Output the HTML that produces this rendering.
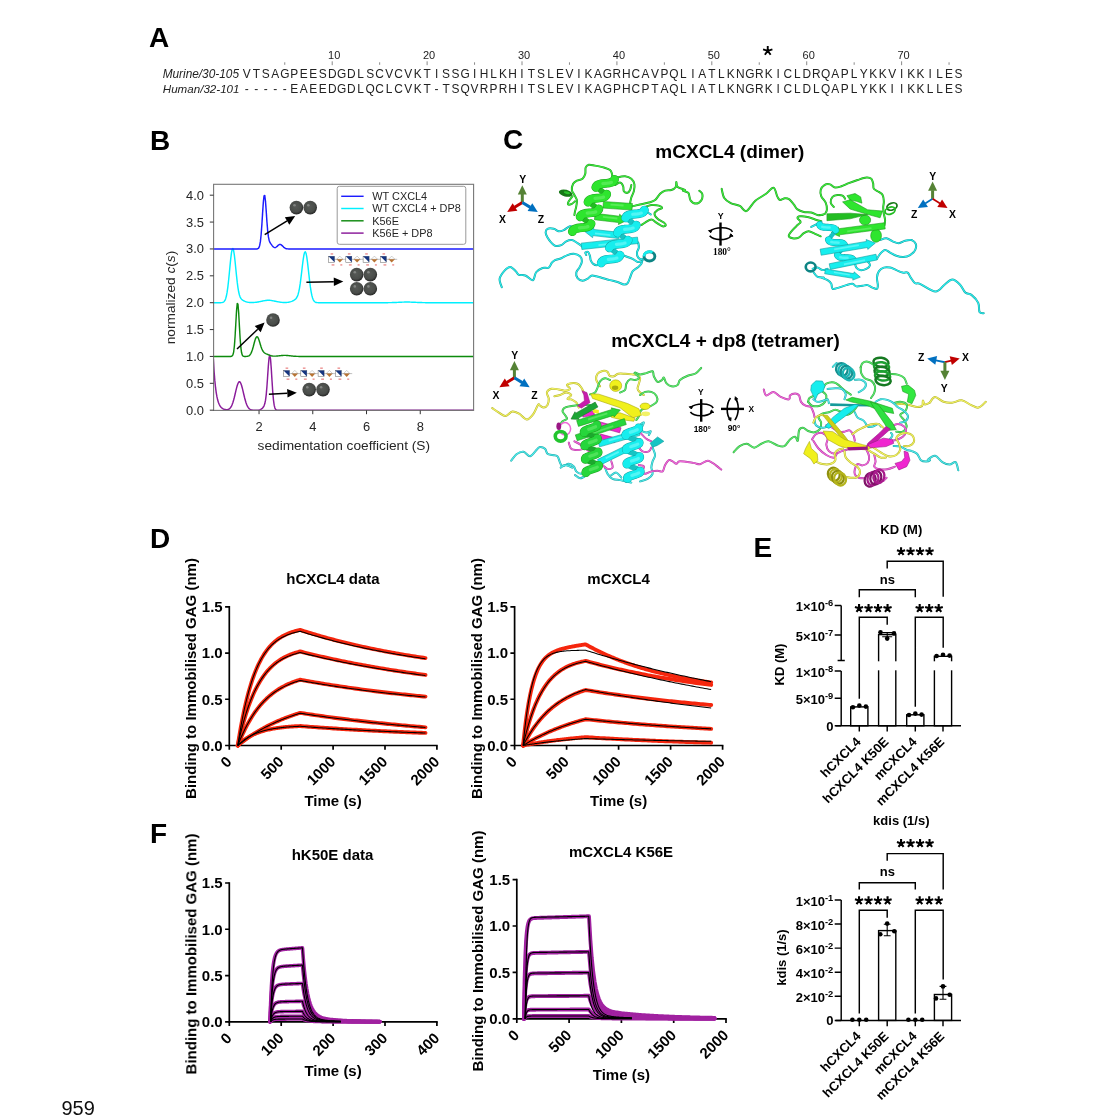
<!DOCTYPE html>
<html><head><meta charset="utf-8"><title>Figure</title>
<style>
html,body{margin:0;padding:0;background:#fff;}
body{width:1119px;height:1119px;overflow:hidden;font-family:"Liberation Sans",sans-serif;}
svg{display:block;font-family:"Liberation Sans",sans-serif;}
.b{font-weight:bold;}
.i{font-style:italic;}
</style></head><body>
<svg width="1119" height="1119" viewBox="0 0 1119 1119">
<defs>
<radialGradient id="sph" cx="45%" cy="42%" r="58%"><stop offset="0" stop-color="#565956"/><stop offset="0.7" stop-color="#4a4d4a"/><stop offset="1" stop-color="#262626"/></radialGradient>
<filter id="soft" x="-5%" y="-5%" width="110%" height="110%"><feGaussianBlur stdDeviation="0.45"/></filter>
</defs>
<rect width="1119" height="1119" fill="#fff"/>
<g filter="url(#soft)">
<g id="panelA">
<text class="b" x="149" y="47" font-size="28">A</text>
<g font-size="11.9" fill="#222" text-anchor="middle">
<text x="246.8 256.29 265.78 275.27 284.76 294.25 303.74 313.23 322.72 332.21 341.7 351.19 360.68 370.17 379.66 389.15 398.64 408.13 417.62 427.11 436.6 446.09 455.58 465.07 474.56 484.05 493.54 503.03 512.52 522.01 531.5 540.99 550.48 559.97 569.46 578.95 588.44 597.93 607.42 616.91 626.4 635.89 645.38 654.87 664.36 673.85 683.34 692.83 702.32 711.81 721.3 730.79 740.28 749.77 759.26 768.75 778.24 787.73 797.22 806.71 816.2 825.69 835.18 844.67 854.16 863.65 873.14 882.63 892.12 901.61 911.1 920.59 930.08 939.57 949.06 958.55" y="77.5">VTSAGPEESDGDLSCVCVKTISSGIHLKHITSLEVIKAGRHCAVPQLIATLKNGRKICLDRQAPLYKKVIKKILES</text>
<text x="246.8 256.29 265.78 275.27 284.76 294.25 303.74 313.23 322.72 332.21 341.7 351.19 360.68 370.17 379.66 389.15 398.64 408.13 417.62 427.11 436.6 446.09 455.58 465.07 474.56 484.05 493.54 503.03 512.52 522.01 531.5 540.99 550.48 559.97 569.46 578.95 588.44 597.93 607.42 616.91 626.4 635.89 645.38 654.87 664.36 673.85 683.34 692.83 702.32 711.81 721.3 730.79 740.28 749.77 759.26 768.75 778.24 787.73 797.22 806.71 816.2 825.69 835.18 844.67 854.16 863.65 873.14 882.63 892.12 901.61 911.1 920.59 930.08 939.57 949.06 958.55" y="93">-----EAEEDGDLQCLCVKT-TSQVRPRHITSLEVIKAGPHCPTAQLIATLKNGRKICLDLQAPLYKKIIKKLLES</text>
</g>
<g fill="#222" class="i" text-anchor="end"><text x="239" y="77.5" font-size="11.85">Murine/30-105</text><text x="239.5" y="93" font-size="11.6">Human/32-101</text></g>
<g font-size="11" fill="#222" text-anchor="middle">
<text x="334.21" y="58.9">10</text>
<text x="429.11" y="58.9">20</text>
<text x="524.01" y="58.9">30</text>
<text x="618.91" y="58.9">40</text>
<text x="713.81" y="58.9">50</text>
<text x="808.71" y="58.9">60</text>
<text x="903.61" y="58.9">70</text>
</g>
<path d="M284.76 62.3V64.8M332.21 61.3V65.2M379.66 62.3V64.8M427.11 61.3V65.2M474.56 62.3V64.8M522.01 61.3V65.2M569.46 62.3V64.8M616.91 61.3V65.2M664.36 62.3V64.8M711.81 61.3V65.2M759.26 62.3V64.8M806.71 61.3V65.2M854.16 62.3V64.8M901.61 61.3V65.2M949.06 62.3V64.8" stroke="#8a8a8a" stroke-width="1" fill="none"/>
<path d="M767.75 50.8L767.75 45.9M767.75 50.8L772.41 49.29M767.75 50.8L770.63 54.76M767.75 50.8L764.87 54.76M767.75 50.8L763.09 49.29" stroke="#000" stroke-width="1.9" fill="none"/>
</g>
<g id="panelB">
<text class="b" x="150" y="150" font-size="28">B</text>
<clipPath id="bclip"><rect x="213.6" y="184.3" width="260.0" height="227.09999999999997"/></clipPath>
<g clip-path="url(#bclip)" fill="none" stroke-width="1.45" stroke-linejoin="round">
<path d="M213.36 359.14 L214.08 371.2 L214.81 380.41 L215.53 387.45 L216.26 392.82 L216.98 396.93 L217.7 400.06 L218.43 402.46 L219.15 404.28 L219.88 405.68 L220.6 406.75 L221.32 407.56 L222.05 408.18 L222.77 408.66 L223.5 409.01 L224.22 409.28 L224.94 409.47 L225.67 409.59 L226.39 409.65 L227.12 409.63 L227.84 409.51 L228.56 409.27 L229.29 408.86 L230.01 408.23 L230.74 407.33 L231.46 406.1 L232.18 404.48 L232.91 402.45 L233.63 400.03 L234.36 397.26 L235.08 394.25 L235.8 391.16 L236.53 388.18 L237.25 385.56 L237.98 383.49 L238.7 382.16 L239.42 381.71 L240.15 382.17 L240.87 383.49 L241.6 385.56 L242.32 388.19 L243.04 391.17 L243.77 394.26 L244.49 397.28 L245.22 400.06 L245.94 402.49 L246.66 404.52 L247.39 406.16 L248.11 407.41 L248.84 408.34 L249.56 408.99 L250.28 409.44 L251.01 409.74 L251.73 409.93 L252.46 410.05 L253.18 410.12 L253.9 410.15 L254.63 410.18 L255.35 410.19 L256.08 410.19 L256.8 410.18 L257.52 410.16 L258.25 410.11 L258.97 410.02 L259.7 409.86 L260.42 409.6 L261.14 409.21 L261.87 408.67 L262.59 407.96 L263.32 407.04 L264.04 405.77 L264.76 403.78 L265.49 400.4 L266.21 394.82 L266.94 386.54 L267.66 376.06 L268.38 365.35 L269.11 357.44 L269.83 355.1 L270.56 359.35 L271.28 368.83 L272 380.56 L272.73 391.52 L273.45 399.84 L274.18 405.15 L274.9 408.04 L275.62 409.38 L276.35 409.93 L277.07 410.12 L277.8 410.18 L278.52 410.2 L279.24 410.2 L279.97 410.2 L280.69 410.2 L281.42 410.2 L282.14 410.2 L282.86 410.2 L283.59 410.2 L284.31 410.2 L285.04 410.2 L285.76 410.2 L286.48 410.2 L287.21 410.2 L287.93 410.2 L288.66 410.2 L289.38 410.2 L290.1 410.2 L290.83 410.2 L291.55 410.2 L292.28 410.2 L293 410.2 L293.72 410.2 L294.45 410.2 L295.17 410.2 L295.9 410.2 L296.62 410.2 L297.34 410.2 L298.07 410.2 L298.79 410.2 L299.52 410.2 L300.24 410.2 L300.96 410.2 L301.69 410.2 L302.41 410.2 L303.14 410.2 L303.86 410.2 L304.58 410.2 L305.31 410.2 L306.03 410.2 L306.76 410.2 L307.48 410.2 L308.2 410.2 L308.93 410.2 L309.65 410.2 L310.38 410.2 L311.1 410.2 L311.82 410.2 L312.55 410.2 L313.27 410.2 L314 410.2 L314.72 410.2 L315.44 410.2 L316.17 410.2 L316.89 410.2 L317.62 410.2 L318.34 410.2 L319.06 410.2 L319.79 410.2 L320.51 410.2 L321.24 410.2 L321.96 410.2 L322.68 410.2 L323.41 410.2 L324.13 410.2 L324.86 410.2 L325.58 410.2 L326.3 410.2 L327.03 410.2 L327.75 410.2 L328.48 410.2 L329.2 410.2 L329.92 410.2 L330.65 410.2 L331.37 410.2 L332.1 410.2 L332.82 410.2 L333.54 410.2 L334.27 410.2 L334.99 410.2 L335.72 410.2 L336.44 410.2 L337.16 410.2 L337.89 410.2 L338.61 410.2 L339.34 410.2 L340.06 410.2 L340.78 410.2 L341.51 410.2 L342.23 410.2 L342.96 410.2 L343.68 410.2 L344.4 410.2 L345.13 410.2 L345.85 410.2 L346.58 410.2 L347.3 410.2 L348.02 410.2 L348.75 410.2 L349.47 410.2 L350.2 410.2 L350.92 410.2 L351.64 410.2 L352.37 410.2 L353.09 410.2 L353.82 410.2 L354.54 410.2 L355.26 410.2 L355.99 410.2 L356.71 410.2 L357.44 410.2 L358.16 410.2 L358.88 410.2 L359.61 410.2 L360.33 410.2 L361.06 410.2 L361.78 410.2 L362.5 410.2 L363.23 410.2 L363.95 410.2 L364.68 410.2 L365.4 410.2 L366.12 410.2 L366.85 410.2 L367.57 410.2 L368.3 410.2 L369.02 410.2 L369.74 410.2 L370.47 410.2 L371.19 410.2 L371.92 410.2 L372.64 410.2 L373.36 410.2 L374.09 410.2 L374.81 410.2 L375.54 410.2 L376.26 410.2 L376.98 410.2 L377.71 410.2 L378.43 410.2 L379.16 410.2 L379.88 410.2 L380.6 410.2 L381.33 410.2 L382.05 410.2 L382.78 410.2 L383.5 410.2 L384.22 410.2 L384.95 410.2 L385.67 410.2 L386.4 410.2 L387.12 410.2 L387.84 410.2 L388.57 410.2 L389.29 410.2 L390.02 410.2 L390.74 410.2 L391.46 410.2 L392.19 410.2 L392.91 410.2 L393.64 410.2 L394.36 410.2 L395.08 410.2 L395.81 410.2 L396.53 410.2 L397.26 410.2 L397.98 410.2 L398.7 410.2 L399.43 410.2 L400.15 410.2 L400.88 410.2 L401.6 410.2 L402.32 410.2 L403.05 410.2 L403.77 410.2 L404.5 410.2 L405.22 410.2 L405.94 410.2 L406.67 410.2 L407.39 410.2 L408.12 410.2 L408.84 410.2 L409.56 410.2 L410.29 410.2 L411.01 410.2 L411.74 410.2 L412.46 410.2 L413.18 410.2 L413.91 410.2 L414.63 410.2 L415.36 410.2 L416.08 410.2 L416.8 410.2 L417.53 410.2 L418.25 410.2 L418.98 410.2 L419.7 410.2 L420.42 410.2 L421.15 410.2 L421.87 410.2 L422.6 410.2 L423.32 410.2 L424.04 410.2 L424.77 410.2 L425.49 410.2 L426.22 410.2 L426.94 410.2 L427.66 410.2 L428.39 410.2 L429.11 410.2 L429.84 410.2 L430.56 410.2 L431.28 410.2 L432.01 410.2 L432.73 410.2 L433.46 410.2 L434.18 410.2 L434.9 410.2 L435.63 410.2 L436.35 410.2 L437.08 410.2 L437.8 410.2 L438.52 410.2 L439.25 410.2 L439.97 410.2 L440.7 410.2 L441.42 410.2 L442.14 410.2 L442.87 410.2 L443.59 410.2 L444.32 410.2 L445.04 410.2 L445.76 410.2 L446.49 410.2 L447.21 410.2 L447.94 410.2 L448.66 410.2 L449.38 410.2 L450.11 410.2 L450.83 410.2 L451.56 410.2 L452.28 410.2 L453 410.2 L453.73 410.2 L454.45 410.2 L455.18 410.2 L455.9 410.2 L456.62 410.2 L457.35 410.2 L458.07 410.2 L458.8 410.2 L459.52 410.2 L460.24 410.2 L460.97 410.2 L461.69 410.2 L462.42 410.2 L463.14 410.2 L463.86 410.2 L464.59 410.2 L465.31 410.2 L466.04 410.2 L466.76 410.2 L467.48 410.2 L468.21 410.2 L468.93 410.2 L469.66 410.2 L470.38 410.2 L471.1 410.2 L471.83 410.2 L472.55 410.2 L473.28 410.2 L474 410.2" stroke="#8a1a9a"/>
<path d="M213.36 356.45 L214.08 356.45 L214.81 356.45 L215.53 356.45 L216.26 356.45 L216.98 356.45 L217.7 356.45 L218.43 356.45 L219.15 356.45 L219.88 356.45 L220.6 356.45 L221.32 356.45 L222.05 356.45 L222.77 356.45 L223.5 356.45 L224.22 356.45 L224.94 356.45 L225.67 356.45 L226.39 356.45 L227.12 356.45 L227.84 356.45 L228.56 356.45 L229.29 356.45 L230.01 356.45 L230.74 356.42 L231.46 356.33 L232.18 355.96 L232.91 354.86 L233.63 352.07 L234.36 346.28 L235.08 336.57 L235.8 323.71 L236.53 311.05 L237.25 303.44 L237.98 304.33 L238.7 313.29 L239.42 326.35 L240.15 338.78 L240.87 347.71 L241.6 352.81 L242.32 355.17 L243.04 356.07 L243.77 356.35 L244.49 356.42 L245.22 356.43 L245.94 356.41 L246.66 356.37 L247.39 356.28 L248.11 356.11 L248.84 355.8 L249.56 355.29 L250.28 354.47 L251.01 353.28 L251.73 351.63 L252.46 349.5 L253.18 346.98 L253.9 344.23 L254.63 341.51 L255.35 339.14 L256.08 337.44 L256.8 336.66 L257.52 336.88 L258.25 338.05 L258.97 339.95 L259.7 342.28 L260.42 344.73 L261.14 347.02 L261.87 348.96 L262.59 350.5 L263.32 351.63 L264.04 352.44 L264.76 353.02 L265.49 353.45 L266.21 353.81 L266.94 354.14 L267.66 354.46 L268.38 354.77 L269.11 355.06 L269.83 355.33 L270.56 355.57 L271.28 355.77 L272 355.92 L272.73 356.03 L273.45 356.11 L274.18 356.14 L274.9 356.15 L275.62 356.12 L276.35 356.08 L277.07 356.02 L277.8 355.95 L278.52 355.87 L279.24 355.79 L279.97 355.7 L280.69 355.62 L281.42 355.54 L282.14 355.48 L282.86 355.43 L283.59 355.39 L284.31 355.38 L285.04 355.38 L285.76 355.4 L286.48 355.44 L287.21 355.5 L287.93 355.57 L288.66 355.65 L289.38 355.73 L290.1 355.82 L290.83 355.9 L291.55 355.99 L292.28 356.07 L293 356.14 L293.72 356.2 L294.45 356.25 L295.17 356.3 L295.9 356.33 L296.62 356.36 L297.34 356.39 L298.07 356.4 L298.79 356.42 L299.52 356.43 L300.24 356.43 L300.96 356.44 L301.69 356.44 L302.41 356.45 L303.14 356.45 L303.86 356.45 L304.58 356.45 L305.31 356.45 L306.03 356.45 L306.76 356.45 L307.48 356.45 L308.2 356.45 L308.93 356.45 L309.65 356.45 L310.38 356.45 L311.1 356.45 L311.82 356.45 L312.55 356.45 L313.27 356.45 L314 356.45 L314.72 356.45 L315.44 356.45 L316.17 356.45 L316.89 356.45 L317.62 356.45 L318.34 356.45 L319.06 356.45 L319.79 356.45 L320.51 356.45 L321.24 356.45 L321.96 356.45 L322.68 356.45 L323.41 356.45 L324.13 356.45 L324.86 356.45 L325.58 356.45 L326.3 356.45 L327.03 356.45 L327.75 356.45 L328.48 356.45 L329.2 356.45 L329.92 356.45 L330.65 356.45 L331.37 356.45 L332.1 356.45 L332.82 356.45 L333.54 356.45 L334.27 356.45 L334.99 356.45 L335.72 356.45 L336.44 356.45 L337.16 356.45 L337.89 356.45 L338.61 356.45 L339.34 356.45 L340.06 356.45 L340.78 356.45 L341.51 356.45 L342.23 356.45 L342.96 356.45 L343.68 356.45 L344.4 356.45 L345.13 356.45 L345.85 356.45 L346.58 356.45 L347.3 356.45 L348.02 356.45 L348.75 356.45 L349.47 356.45 L350.2 356.45 L350.92 356.45 L351.64 356.45 L352.37 356.45 L353.09 356.45 L353.82 356.45 L354.54 356.45 L355.26 356.45 L355.99 356.45 L356.71 356.45 L357.44 356.45 L358.16 356.45 L358.88 356.45 L359.61 356.45 L360.33 356.45 L361.06 356.45 L361.78 356.45 L362.5 356.45 L363.23 356.45 L363.95 356.45 L364.68 356.45 L365.4 356.45 L366.12 356.45 L366.85 356.45 L367.57 356.45 L368.3 356.45 L369.02 356.45 L369.74 356.45 L370.47 356.45 L371.19 356.45 L371.92 356.45 L372.64 356.45 L373.36 356.45 L374.09 356.45 L374.81 356.45 L375.54 356.45 L376.26 356.45 L376.98 356.45 L377.71 356.45 L378.43 356.45 L379.16 356.45 L379.88 356.45 L380.6 356.45 L381.33 356.45 L382.05 356.45 L382.78 356.45 L383.5 356.45 L384.22 356.45 L384.95 356.45 L385.67 356.45 L386.4 356.45 L387.12 356.45 L387.84 356.45 L388.57 356.45 L389.29 356.45 L390.02 356.45 L390.74 356.45 L391.46 356.45 L392.19 356.45 L392.91 356.45 L393.64 356.45 L394.36 356.45 L395.08 356.45 L395.81 356.45 L396.53 356.45 L397.26 356.45 L397.98 356.45 L398.7 356.45 L399.43 356.45 L400.15 356.45 L400.88 356.45 L401.6 356.45 L402.32 356.45 L403.05 356.45 L403.77 356.45 L404.5 356.45 L405.22 356.45 L405.94 356.45 L406.67 356.45 L407.39 356.45 L408.12 356.45 L408.84 356.45 L409.56 356.45 L410.29 356.45 L411.01 356.45 L411.74 356.45 L412.46 356.45 L413.18 356.45 L413.91 356.45 L414.63 356.45 L415.36 356.45 L416.08 356.45 L416.8 356.45 L417.53 356.45 L418.25 356.45 L418.98 356.45 L419.7 356.45 L420.42 356.45 L421.15 356.45 L421.87 356.45 L422.6 356.45 L423.32 356.45 L424.04 356.45 L424.77 356.45 L425.49 356.45 L426.22 356.45 L426.94 356.45 L427.66 356.45 L428.39 356.45 L429.11 356.45 L429.84 356.45 L430.56 356.45 L431.28 356.45 L432.01 356.45 L432.73 356.45 L433.46 356.45 L434.18 356.45 L434.9 356.45 L435.63 356.45 L436.35 356.45 L437.08 356.45 L437.8 356.45 L438.52 356.45 L439.25 356.45 L439.97 356.45 L440.7 356.45 L441.42 356.45 L442.14 356.45 L442.87 356.45 L443.59 356.45 L444.32 356.45 L445.04 356.45 L445.76 356.45 L446.49 356.45 L447.21 356.45 L447.94 356.45 L448.66 356.45 L449.38 356.45 L450.11 356.45 L450.83 356.45 L451.56 356.45 L452.28 356.45 L453 356.45 L453.73 356.45 L454.45 356.45 L455.18 356.45 L455.9 356.45 L456.62 356.45 L457.35 356.45 L458.07 356.45 L458.8 356.45 L459.52 356.45 L460.24 356.45 L460.97 356.45 L461.69 356.45 L462.42 356.45 L463.14 356.45 L463.86 356.45 L464.59 356.45 L465.31 356.45 L466.04 356.45 L466.76 356.45 L467.48 356.45 L468.21 356.45 L468.93 356.45 L469.66 356.45 L470.38 356.45 L471.1 356.45 L471.83 356.45 L472.55 356.45 L473.28 356.45 L474 356.45" stroke="#0f8a0f"/>
<path d="M213.36 302.7 L214.08 302.7 L214.81 302.7 L215.53 302.7 L216.26 302.7 L216.98 302.7 L217.7 302.7 L218.43 302.7 L219.15 302.7 L219.88 302.69 L220.6 302.68 L221.32 302.64 L222.05 302.56 L222.77 302.39 L223.5 302.07 L224.22 301.46 L224.94 300.41 L225.67 298.68 L226.39 296.03 L227.12 292.22 L227.84 287.12 L228.56 280.78 L229.29 273.48 L230.01 265.84 L230.74 258.67 L231.46 252.9 L232.18 249.35 L232.91 248.55 L233.63 250.6 L234.36 255.16 L235.08 261.49 L235.8 268.71 L236.53 275.92 L237.25 282.44 L237.98 287.84 L238.7 292.01 L239.42 295.01 L240.15 297.05 L240.87 298.41 L241.6 299.3 L242.32 299.92 L243.04 300.39 L243.77 300.78 L244.49 301.12 L245.22 301.43 L245.94 301.7 L246.66 301.93 L247.39 302.13 L248.11 302.28 L248.84 302.39 L249.56 302.47 L250.28 302.52 L251.01 302.54 L251.73 302.54 L252.46 302.53 L253.18 302.5 L253.9 302.46 L254.63 302.4 L255.35 302.34 L256.08 302.25 L256.8 302.16 L257.52 302.05 L258.25 301.94 L258.97 301.8 L259.7 301.66 L260.42 301.51 L261.14 301.36 L261.87 301.2 L262.59 301.04 L263.32 300.89 L264.04 300.75 L264.76 300.62 L265.49 300.5 L266.21 300.41 L266.94 300.34 L267.66 300.3 L268.38 300.28 L269.11 300.29 L269.83 300.33 L270.56 300.4 L271.28 300.49 L272 300.6 L272.73 300.73 L273.45 300.87 L274.18 301.02 L274.9 301.18 L275.62 301.33 L276.35 301.49 L277.07 301.64 L277.8 301.78 L278.52 301.91 L279.24 302.03 L279.97 302.14 L280.69 302.24 L281.42 302.32 L282.14 302.38 L282.86 302.43 L283.59 302.47 L284.31 302.49 L285.04 302.5 L285.76 302.48 L286.48 302.44 L287.21 302.38 L287.93 302.29 L288.66 302.17 L289.38 302.02 L290.1 301.83 L290.83 301.61 L291.55 301.36 L292.28 301.07 L293 300.74 L293.72 300.38 L294.45 299.95 L295.17 299.43 L295.9 298.74 L296.62 297.77 L297.34 296.39 L298.07 294.41 L298.79 291.67 L299.52 288.02 L300.24 283.41 L300.96 277.93 L301.69 271.85 L302.41 265.64 L303.14 259.9 L303.86 255.3 L304.58 252.43 L305.31 251.69 L306.03 253.22 L306.76 256.83 L307.48 262.08 L308.2 268.35 L308.93 274.95 L309.65 281.3 L310.38 286.94 L311.1 291.62 L311.82 295.26 L312.55 297.93 L313.27 299.78 L314 300.99 L314.72 301.75 L315.44 302.19 L316.17 302.44 L316.89 302.57 L317.62 302.64 L318.34 302.67 L319.06 302.69 L319.79 302.7 L320.51 302.7 L321.24 302.7 L321.96 302.7 L322.68 302.7 L323.41 302.7 L324.13 302.7 L324.86 302.7 L325.58 302.7 L326.3 302.7 L327.03 302.7 L327.75 302.7 L328.48 302.7 L329.2 302.7 L329.92 302.7 L330.65 302.7 L331.37 302.7 L332.1 302.7 L332.82 302.7 L333.54 302.7 L334.27 302.7 L334.99 302.7 L335.72 302.7 L336.44 302.7 L337.16 302.7 L337.89 302.7 L338.61 302.7 L339.34 302.7 L340.06 302.7 L340.78 302.7 L341.51 302.7 L342.23 302.7 L342.96 302.7 L343.68 302.7 L344.4 302.7 L345.13 302.7 L345.85 302.7 L346.58 302.7 L347.3 302.7 L348.02 302.7 L348.75 302.7 L349.47 302.7 L350.2 302.7 L350.92 302.7 L351.64 302.7 L352.37 302.7 L353.09 302.7 L353.82 302.7 L354.54 302.7 L355.26 302.7 L355.99 302.7 L356.71 302.7 L357.44 302.7 L358.16 302.7 L358.88 302.7 L359.61 302.7 L360.33 302.7 L361.06 302.7 L361.78 302.7 L362.5 302.7 L363.23 302.7 L363.95 302.7 L364.68 302.7 L365.4 302.7 L366.12 302.7 L366.85 302.7 L367.57 302.7 L368.3 302.7 L369.02 302.7 L369.74 302.7 L370.47 302.7 L371.19 302.7 L371.92 302.7 L372.64 302.7 L373.36 302.7 L374.09 302.7 L374.81 302.7 L375.54 302.7 L376.26 302.7 L376.98 302.7 L377.71 302.7 L378.43 302.7 L379.16 302.7 L379.88 302.7 L380.6 302.7 L381.33 302.7 L382.05 302.69 L382.78 302.69 L383.5 302.69 L384.22 302.69 L384.95 302.68 L385.67 302.68 L386.4 302.67 L387.12 302.67 L387.84 302.66 L388.57 302.65 L389.29 302.64 L390.02 302.63 L390.74 302.61 L391.46 302.6 L392.19 302.58 L392.91 302.55 L393.64 302.53 L394.36 302.5 L395.08 302.48 L395.81 302.45 L396.53 302.41 L397.26 302.38 L397.98 302.35 L398.7 302.31 L399.43 302.28 L400.15 302.24 L400.88 302.21 L401.6 302.18 L402.32 302.15 L403.05 302.12 L403.77 302.1 L404.5 302.08 L405.22 302.07 L405.94 302.06 L406.67 302.06 L407.39 302.06 L408.12 302.06 L408.84 302.07 L409.56 302.09 L410.29 302.11 L411.01 302.14 L411.74 302.16 L412.46 302.19 L413.18 302.23 L413.91 302.26 L414.63 302.3 L415.36 302.33 L416.08 302.37 L416.8 302.4 L417.53 302.43 L418.25 302.46 L418.98 302.49 L419.7 302.52 L420.42 302.54 L421.15 302.57 L421.87 302.59 L422.6 302.6 L423.32 302.62 L424.04 302.63 L424.77 302.65 L425.49 302.66 L426.22 302.66 L426.94 302.67 L427.66 302.68 L428.39 302.68 L429.11 302.69 L429.84 302.69 L430.56 302.69 L431.28 302.69 L432.01 302.7 L432.73 302.7 L433.46 302.7 L434.18 302.7 L434.9 302.7 L435.63 302.7 L436.35 302.7 L437.08 302.7 L437.8 302.7 L438.52 302.7 L439.25 302.7 L439.97 302.7 L440.7 302.7 L441.42 302.7 L442.14 302.7 L442.87 302.7 L443.59 302.7 L444.32 302.7 L445.04 302.7 L445.76 302.7 L446.49 302.7 L447.21 302.7 L447.94 302.7 L448.66 302.7 L449.38 302.7 L450.11 302.7 L450.83 302.7 L451.56 302.7 L452.28 302.7 L453 302.7 L453.73 302.7 L454.45 302.7 L455.18 302.7 L455.9 302.7 L456.62 302.7 L457.35 302.7 L458.07 302.7 L458.8 302.7 L459.52 302.7 L460.24 302.7 L460.97 302.7 L461.69 302.7 L462.42 302.7 L463.14 302.7 L463.86 302.7 L464.59 302.7 L465.31 302.7 L466.04 302.7 L466.76 302.7 L467.48 302.7 L468.21 302.7 L468.93 302.7 L469.66 302.7 L470.38 302.7 L471.1 302.7 L471.83 302.7 L472.55 302.7 L473.28 302.7 L474 302.7" stroke="#00f0ff"/>
<path d="M213.36 248.95 L214.08 248.95 L214.81 248.95 L215.53 248.95 L216.26 248.95 L216.98 248.95 L217.7 248.95 L218.43 248.95 L219.15 248.95 L219.88 248.95 L220.6 248.95 L221.32 248.95 L222.05 248.95 L222.77 248.95 L223.5 248.95 L224.22 248.95 L224.94 248.95 L225.67 248.95 L226.39 248.95 L227.12 248.95 L227.84 248.95 L228.56 248.95 L229.29 248.95 L230.01 248.95 L230.74 248.95 L231.46 248.95 L232.18 248.95 L232.91 248.95 L233.63 248.95 L234.36 248.95 L235.08 248.95 L235.8 248.95 L236.53 248.95 L237.25 248.95 L237.98 248.95 L238.7 248.95 L239.42 248.95 L240.15 248.95 L240.87 248.95 L241.6 248.95 L242.32 248.95 L243.04 248.95 L243.77 248.95 L244.49 248.95 L245.22 248.95 L245.94 248.95 L246.66 248.95 L247.39 248.95 L248.11 248.95 L248.84 248.95 L249.56 248.95 L250.28 248.95 L251.01 248.95 L251.73 248.95 L252.46 248.95 L253.18 248.95 L253.9 248.95 L254.63 248.95 L255.35 248.95 L256.08 248.94 L256.8 248.91 L257.52 248.79 L258.25 248.45 L258.97 247.55 L259.7 245.48 L260.42 241.4 L261.14 234.52 L261.87 224.71 L262.59 213.16 L263.32 202.45 L264.04 195.79 L264.76 195.39 L265.49 201.22 L266.21 211.06 L266.94 221.72 L267.66 230.62 L268.38 236.69 L269.11 240.22 L269.83 242.13 L270.56 243.31 L271.28 244.32 L272 245.32 L272.73 246.26 L273.45 247.01 L274.18 247.48 L274.9 247.62 L275.62 247.44 L276.35 247 L277.07 246.37 L277.8 245.66 L278.52 245.01 L279.24 244.55 L279.97 244.38 L280.69 244.53 L281.42 244.98 L282.14 245.63 L282.86 246.36 L283.59 247.08 L284.31 247.69 L285.04 248.16 L285.76 248.49 L286.48 248.7 L287.21 248.83 L287.93 248.89 L288.66 248.92 L289.38 248.94 L290.1 248.95 L290.83 248.95 L291.55 248.95 L292.28 248.95 L293 248.95 L293.72 248.95 L294.45 248.95 L295.17 248.95 L295.9 248.95 L296.62 248.95 L297.34 248.95 L298.07 248.95 L298.79 248.95 L299.52 248.95 L300.24 248.95 L300.96 248.95 L301.69 248.95 L302.41 248.95 L303.14 248.95 L303.86 248.95 L304.58 248.95 L305.31 248.95 L306.03 248.95 L306.76 248.95 L307.48 248.95 L308.2 248.95 L308.93 248.95 L309.65 248.95 L310.38 248.95 L311.1 248.95 L311.82 248.95 L312.55 248.95 L313.27 248.95 L314 248.95 L314.72 248.95 L315.44 248.95 L316.17 248.95 L316.89 248.95 L317.62 248.95 L318.34 248.95 L319.06 248.95 L319.79 248.95 L320.51 248.95 L321.24 248.95 L321.96 248.95 L322.68 248.95 L323.41 248.95 L324.13 248.95 L324.86 248.95 L325.58 248.95 L326.3 248.95 L327.03 248.95 L327.75 248.95 L328.48 248.95 L329.2 248.95 L329.92 248.95 L330.65 248.95 L331.37 248.95 L332.1 248.95 L332.82 248.95 L333.54 248.95 L334.27 248.95 L334.99 248.95 L335.72 248.95 L336.44 248.95 L337.16 248.95 L337.89 248.95 L338.61 248.95 L339.34 248.95 L340.06 248.95 L340.78 248.95 L341.51 248.95 L342.23 248.95 L342.96 248.95 L343.68 248.95 L344.4 248.95 L345.13 248.95 L345.85 248.95 L346.58 248.95 L347.3 248.95 L348.02 248.95 L348.75 248.95 L349.47 248.95 L350.2 248.95 L350.92 248.95 L351.64 248.95 L352.37 248.95 L353.09 248.95 L353.82 248.95 L354.54 248.95 L355.26 248.95 L355.99 248.95 L356.71 248.95 L357.44 248.95 L358.16 248.95 L358.88 248.95 L359.61 248.95 L360.33 248.95 L361.06 248.95 L361.78 248.95 L362.5 248.95 L363.23 248.95 L363.95 248.95 L364.68 248.95 L365.4 248.95 L366.12 248.95 L366.85 248.95 L367.57 248.95 L368.3 248.95 L369.02 248.95 L369.74 248.95 L370.47 248.95 L371.19 248.95 L371.92 248.95 L372.64 248.95 L373.36 248.95 L374.09 248.95 L374.81 248.95 L375.54 248.95 L376.26 248.95 L376.98 248.95 L377.71 248.95 L378.43 248.95 L379.16 248.95 L379.88 248.95 L380.6 248.95 L381.33 248.95 L382.05 248.95 L382.78 248.95 L383.5 248.95 L384.22 248.95 L384.95 248.95 L385.67 248.95 L386.4 248.95 L387.12 248.95 L387.84 248.95 L388.57 248.95 L389.29 248.95 L390.02 248.95 L390.74 248.95 L391.46 248.95 L392.19 248.95 L392.91 248.95 L393.64 248.95 L394.36 248.95 L395.08 248.95 L395.81 248.95 L396.53 248.95 L397.26 248.95 L397.98 248.95 L398.7 248.95 L399.43 248.95 L400.15 248.95 L400.88 248.95 L401.6 248.95 L402.32 248.95 L403.05 248.95 L403.77 248.95 L404.5 248.95 L405.22 248.95 L405.94 248.95 L406.67 248.95 L407.39 248.95 L408.12 248.95 L408.84 248.95 L409.56 248.95 L410.29 248.95 L411.01 248.95 L411.74 248.95 L412.46 248.95 L413.18 248.95 L413.91 248.95 L414.63 248.95 L415.36 248.95 L416.08 248.95 L416.8 248.95 L417.53 248.95 L418.25 248.95 L418.98 248.95 L419.7 248.95 L420.42 248.95 L421.15 248.95 L421.87 248.95 L422.6 248.95 L423.32 248.95 L424.04 248.95 L424.77 248.95 L425.49 248.95 L426.22 248.95 L426.94 248.95 L427.66 248.95 L428.39 248.95 L429.11 248.95 L429.84 248.95 L430.56 248.95 L431.28 248.95 L432.01 248.95 L432.73 248.95 L433.46 248.95 L434.18 248.95 L434.9 248.95 L435.63 248.95 L436.35 248.95 L437.08 248.95 L437.8 248.95 L438.52 248.95 L439.25 248.95 L439.97 248.95 L440.7 248.95 L441.42 248.95 L442.14 248.95 L442.87 248.95 L443.59 248.95 L444.32 248.95 L445.04 248.95 L445.76 248.95 L446.49 248.95 L447.21 248.95 L447.94 248.95 L448.66 248.95 L449.38 248.95 L450.11 248.95 L450.83 248.95 L451.56 248.95 L452.28 248.95 L453 248.95 L453.73 248.95 L454.45 248.95 L455.18 248.95 L455.9 248.95 L456.62 248.95 L457.35 248.95 L458.07 248.95 L458.8 248.95 L459.52 248.95 L460.24 248.95 L460.97 248.95 L461.69 248.95 L462.42 248.95 L463.14 248.95 L463.86 248.95 L464.59 248.95 L465.31 248.95 L466.04 248.95 L466.76 248.95 L467.48 248.95 L468.21 248.95 L468.93 248.95 L469.66 248.95 L470.38 248.95 L471.1 248.95 L471.83 248.95 L472.55 248.95 L473.28 248.95 L474 248.95" stroke="#1a1aff"/>
</g>
<rect x="213.6" y="184.3" width="260.0" height="226.09999999999997" fill="none" stroke="#777" stroke-width="1.1"/>
<path d="M209.8 410.2H213.6M209.8 383.32H213.6M209.8 356.45H213.6M209.8 329.57H213.6M209.8 302.7H213.6M209.8 275.82H213.6M209.8 248.95H213.6M209.8 222.07H213.6M209.8 195.2H213.6M259.04 410.4V414.2M312.78 410.4V414.2M366.52 410.4V414.2M420.26 410.4V414.2" stroke="#333" stroke-width="1" fill="none"/>
<g font-size="12.9" fill="#262626" text-anchor="end">
<text x="204" y="414.7">0.0</text>
<text x="204" y="387.82">0.5</text>
<text x="204" y="360.95">1.0</text>
<text x="204" y="334.07">1.5</text>
<text x="204" y="307.2">2.0</text>
<text x="204" y="280.32">2.5</text>
<text x="204" y="253.45">3.0</text>
<text x="204" y="226.57">3.5</text>
<text x="204" y="199.7">4.0</text>
</g>
<g font-size="12.9" fill="#262626" text-anchor="middle">
<text x="259.04" y="430.6">2</text>
<text x="312.78" y="430.6">4</text>
<text x="366.52" y="430.6">6</text>
<text x="420.26" y="430.6">8</text>
</g>
<text x="343.8" y="450" font-size="13.7" fill="#262626" text-anchor="middle">sedimentation coefficient (S)</text>
<text transform="translate(174.9,297.5) rotate(-90)" font-size="13.7" fill="#262626" text-anchor="middle">normalized <tspan class="i">c</tspan>(<tspan class="i">s</tspan>)</text>
<rect x="337.2" y="186.3" width="128.6" height="58" rx="2.2" fill="#fff" fill-opacity="0.9" stroke="#999" stroke-width="1"/>
<path d="M341.2 196.3H363.6" stroke="#1a1aff" stroke-width="1.45"/>
<text x="372.3" y="200.2" font-size="10.9" fill="#262626">WT CXCL4</text>
<path d="M341.2 208.5H363.6" stroke="#00f0ff" stroke-width="1.45"/>
<text x="372.3" y="212.4" font-size="10.9" fill="#262626">WT CXCL4 + DP8</text>
<path d="M341.2 220.8H363.6" stroke="#0f8a0f" stroke-width="1.45"/>
<text x="372.3" y="224.7" font-size="10.9" fill="#262626">K56E</text>
<path d="M341.2 233.1H363.6" stroke="#8a1a9a" stroke-width="1.45"/>
<text x="372.3" y="237" font-size="10.9" fill="#262626">K56E + DP8</text>
<circle cx="296.4" cy="207.6" r="6.8" fill="url(#sph)"/>
<circle cx="294.5" cy="205.3" r="1.3" fill="#8c8f8c" opacity="0.8"/>
<circle cx="310.2" cy="207.6" r="6.8" fill="url(#sph)"/>
<circle cx="308.3" cy="205.3" r="1.3" fill="#8c8f8c" opacity="0.8"/>
<circle cx="356.7" cy="274.6" r="6.8" fill="url(#sph)"/>
<circle cx="354.8" cy="272.3" r="1.3" fill="#8c8f8c" opacity="0.8"/>
<circle cx="370.3" cy="274.6" r="6.8" fill="url(#sph)"/>
<circle cx="368.4" cy="272.3" r="1.3" fill="#8c8f8c" opacity="0.8"/>
<circle cx="356.7" cy="288.7" r="6.8" fill="url(#sph)"/>
<circle cx="354.8" cy="286.4" r="1.3" fill="#8c8f8c" opacity="0.8"/>
<circle cx="370.3" cy="288.7" r="6.8" fill="url(#sph)"/>
<circle cx="368.4" cy="286.4" r="1.3" fill="#8c8f8c" opacity="0.8"/>
<circle cx="273" cy="320" r="6.8" fill="url(#sph)"/>
<circle cx="271.1" cy="317.7" r="1.3" fill="#8c8f8c" opacity="0.8"/>
<circle cx="309.2" cy="389.6" r="6.8" fill="url(#sph)"/>
<circle cx="307.3" cy="387.3" r="1.3" fill="#8c8f8c" opacity="0.8"/>
<circle cx="323" cy="389.6" r="6.8" fill="url(#sph)"/>
<circle cx="321.1" cy="387.3" r="1.3" fill="#8c8f8c" opacity="0.8"/>
<path d="M264.7 234.7L287.1 220.97" stroke="#000" stroke-width="1.5"/>
<path d="M295.2 216L289.35 224.63L284.85 217.3Z" fill="#000"/>
<path d="M306.4 282.3L333.8 281.78" stroke="#000" stroke-width="1.5"/>
<path d="M343.3 281.6L333.88 286.08L333.72 277.48Z" fill="#000"/>
<path d="M237 349L257.73 329.17" stroke="#000" stroke-width="1.5"/>
<path d="M264.6 322.6L260.71 332.27L254.76 326.06Z" fill="#000"/>
<path d="M268.9 394.3L287.32 393.24" stroke="#000" stroke-width="1.5"/>
<path d="M296.8 392.7L287.56 397.54L287.07 388.95Z" fill="#000"/>
<path d="M328 259.3H345.3" stroke="#999" stroke-width="0.6"/>
<rect x="328.5" y="256.3" width="6" height="6" fill="#fff" stroke="#666" stroke-width="0.5"/>
<path d="M328.5 256.3h6v6z" fill="#16357f"/>
<path d="M336.6 259.3l3.2 -3.2l3.2 3.2z" fill="#fff" stroke="#888" stroke-width="0.4"/>
<path d="M336.6 259.3l3.2 3.3l3.2 -3.3z" fill="#b87333"/>
<rect x="330.6" y="253.1" width="2.6" height="1.6" fill="#e05050" opacity="0.55"/>
<rect x="331.6" y="264.1" width="2.8" height="1.6" fill="#e05050" opacity="0.55"/>
<rect x="340.3" y="264.1" width="2.0" height="1.6" fill="#e05050" opacity="0.55"/>
<path d="M345.3 259.3H362.6" stroke="#999" stroke-width="0.6"/>
<rect x="345.8" y="256.3" width="6" height="6" fill="#fff" stroke="#666" stroke-width="0.5"/>
<path d="M345.8 256.3h6v6z" fill="#16357f"/>
<path d="M353.9 259.3l3.2 -3.2l3.2 3.2z" fill="#fff" stroke="#888" stroke-width="0.4"/>
<path d="M353.9 259.3l3.2 3.3l3.2 -3.3z" fill="#b87333"/>
<rect x="347.9" y="253.1" width="2.6" height="1.6" fill="#e05050" opacity="0.55"/>
<rect x="348.9" y="264.1" width="2.8" height="1.6" fill="#e05050" opacity="0.55"/>
<rect x="357.6" y="264.1" width="2.0" height="1.6" fill="#e05050" opacity="0.55"/>
<path d="M362.6 259.3H379.9" stroke="#999" stroke-width="0.6"/>
<rect x="363.1" y="256.3" width="6" height="6" fill="#fff" stroke="#666" stroke-width="0.5"/>
<path d="M363.1 256.3h6v6z" fill="#16357f"/>
<path d="M371.2 259.3l3.2 -3.2l3.2 3.2z" fill="#fff" stroke="#888" stroke-width="0.4"/>
<path d="M371.2 259.3l3.2 3.3l3.2 -3.3z" fill="#b87333"/>
<rect x="365.2" y="253.1" width="2.6" height="1.6" fill="#e05050" opacity="0.55"/>
<rect x="366.2" y="264.1" width="2.8" height="1.6" fill="#e05050" opacity="0.55"/>
<rect x="374.9" y="264.1" width="2.0" height="1.6" fill="#e05050" opacity="0.55"/>
<path d="M379.9 259.3H397.2" stroke="#999" stroke-width="0.6"/>
<rect x="380.4" y="256.3" width="6" height="6" fill="#fff" stroke="#666" stroke-width="0.5"/>
<path d="M380.4 256.3h6v6z" fill="#16357f"/>
<path d="M388.5 259.3l3.2 -3.2l3.2 3.2z" fill="#fff" stroke="#888" stroke-width="0.4"/>
<path d="M388.5 259.3l3.2 3.3l3.2 -3.3z" fill="#b87333"/>
<rect x="382.5" y="253.1" width="2.6" height="1.6" fill="#e05050" opacity="0.55"/>
<rect x="383.5" y="264.1" width="2.8" height="1.6" fill="#e05050" opacity="0.55"/>
<rect x="392.2" y="264.1" width="2.0" height="1.6" fill="#e05050" opacity="0.55"/>
<path d="M283 373.6H300.3" stroke="#999" stroke-width="0.6"/>
<rect x="283.5" y="370.6" width="6" height="6" fill="#fff" stroke="#666" stroke-width="0.5"/>
<path d="M283.5 370.6h6v6z" fill="#16357f"/>
<path d="M291.6 373.6l3.2 -3.2l3.2 3.2z" fill="#fff" stroke="#888" stroke-width="0.4"/>
<path d="M291.6 373.6l3.2 3.3l3.2 -3.3z" fill="#b87333"/>
<rect x="285.6" y="367.4" width="2.6" height="1.6" fill="#e05050" opacity="0.55"/>
<rect x="286.6" y="378.4" width="2.8" height="1.6" fill="#e05050" opacity="0.55"/>
<rect x="295.3" y="378.4" width="2.0" height="1.6" fill="#e05050" opacity="0.55"/>
<path d="M300.3 373.6H317.6" stroke="#999" stroke-width="0.6"/>
<rect x="300.8" y="370.6" width="6" height="6" fill="#fff" stroke="#666" stroke-width="0.5"/>
<path d="M300.8 370.6h6v6z" fill="#16357f"/>
<path d="M308.9 373.6l3.2 -3.2l3.2 3.2z" fill="#fff" stroke="#888" stroke-width="0.4"/>
<path d="M308.9 373.6l3.2 3.3l3.2 -3.3z" fill="#b87333"/>
<rect x="302.9" y="367.4" width="2.6" height="1.6" fill="#e05050" opacity="0.55"/>
<rect x="303.9" y="378.4" width="2.8" height="1.6" fill="#e05050" opacity="0.55"/>
<rect x="312.6" y="378.4" width="2.0" height="1.6" fill="#e05050" opacity="0.55"/>
<path d="M317.6 373.6H334.9" stroke="#999" stroke-width="0.6"/>
<rect x="318.1" y="370.6" width="6" height="6" fill="#fff" stroke="#666" stroke-width="0.5"/>
<path d="M318.1 370.6h6v6z" fill="#16357f"/>
<path d="M326.2 373.6l3.2 -3.2l3.2 3.2z" fill="#fff" stroke="#888" stroke-width="0.4"/>
<path d="M326.2 373.6l3.2 3.3l3.2 -3.3z" fill="#b87333"/>
<rect x="320.2" y="367.4" width="2.6" height="1.6" fill="#e05050" opacity="0.55"/>
<rect x="321.2" y="378.4" width="2.8" height="1.6" fill="#e05050" opacity="0.55"/>
<rect x="329.9" y="378.4" width="2.0" height="1.6" fill="#e05050" opacity="0.55"/>
<path d="M334.9 373.6H352.2" stroke="#999" stroke-width="0.6"/>
<rect x="335.4" y="370.6" width="6" height="6" fill="#fff" stroke="#666" stroke-width="0.5"/>
<path d="M335.4 370.6h6v6z" fill="#16357f"/>
<path d="M343.5 373.6l3.2 -3.2l3.2 3.2z" fill="#fff" stroke="#888" stroke-width="0.4"/>
<path d="M343.5 373.6l3.2 3.3l3.2 -3.3z" fill="#b87333"/>
<rect x="337.5" y="367.4" width="2.6" height="1.6" fill="#e05050" opacity="0.55"/>
<rect x="338.5" y="378.4" width="2.8" height="1.6" fill="#e05050" opacity="0.55"/>
<rect x="347.2" y="378.4" width="2.0" height="1.6" fill="#e05050" opacity="0.55"/>
</g>
<g id="panelC">
<text class="b" x="503" y="148.5" font-size="28">C</text>
<text class="b" x="729.8" y="157.9" font-size="19" text-anchor="middle">mCXCL4 (dimer)</text>
<text class="b" x="725.5" y="347.3" font-size="19" text-anchor="middle">mCXCL4 + dp8 (tetramer)</text>
<path d="M501.8 287.27C501.44 285.84 499.12 281.55 499.65 278.69C500.19 275.83 503.23 272.07 505.01 270.11C506.8 268.14 508.59 266.71 510.38 266.89C512.16 267.07 514.31 269.86 515.74 271.18C517.17 272.5 517.35 274.11 518.95 274.83C520.56 275.54 523.07 274.58 525.39 275.47C527.71 276.36 531.11 280.72 532.9 280.19C534.68 279.65 534.5 274.29 536.11 272.25C537.72 270.21 540.44 268.74 542.55 267.96C544.65 267.19 547.2 268.49 548.75 267.59C550.31 266.7 550.84 263.84 551.88 262.59C552.92 261.34 553.44 260.82 555.01 260.09C556.57 259.36 559.18 259.04 561.26 258.21C563.35 257.38 565.43 255.81 567.52 255.08C569.6 254.35 571.69 253.62 573.78 253.83C575.86 254.04 578.68 255.08 580.03 256.33C581.39 257.59 582.01 259.46 581.91 261.34C581.8 263.22 580.34 265.72 579.41 267.59C578.47 269.47 576.59 270.83 576.28 272.6C575.96 274.37 576.49 276.87 577.53 278.23C578.57 279.58 580.86 280.63 582.53 280.73C584.2 280.83 586.08 279.69 587.54 278.85C589 278.02 589.83 276.14 591.29 275.73C592.75 275.31 594.31 275.93 596.29 276.35C598.28 276.77 600.88 277.6 603.18 278.23C605.47 278.85 607.66 279.48 610.06 280.11C612.45 280.73 615.27 281.25 617.56 281.98C619.86 282.71 622.15 284.28 623.82 284.48C625.49 284.69 626.53 284.38 627.57 283.23C628.61 282.09 629.24 279.58 630.07 277.6C630.91 275.62 631.33 273.02 632.58 271.35C633.83 269.68 636.12 268.85 637.58 267.59C639.04 266.34 640.5 265.3 641.33 263.84C642.17 262.38 642.38 259.67 642.59 258.84" fill="none" stroke="#0f9c9c" stroke-width="2.0" stroke-linecap="round" stroke-linejoin="round"/>
<path d="M501.8 287.27C501.44 285.84 499.12 281.55 499.65 278.69C500.19 275.83 503.23 272.07 505.01 270.11C506.8 268.14 508.59 266.71 510.38 266.89C512.16 267.07 514.31 269.86 515.74 271.18C517.17 272.5 517.35 274.11 518.95 274.83C520.56 275.54 523.07 274.58 525.39 275.47C527.71 276.36 531.11 280.72 532.9 280.19C534.68 279.65 534.5 274.29 536.11 272.25C537.72 270.21 540.44 268.74 542.55 267.96C544.65 267.19 547.2 268.49 548.75 267.59C550.31 266.7 550.84 263.84 551.88 262.59C552.92 261.34 553.44 260.82 555.01 260.09C556.57 259.36 559.18 259.04 561.26 258.21C563.35 257.38 565.43 255.81 567.52 255.08C569.6 254.35 571.69 253.62 573.78 253.83C575.86 254.04 578.68 255.08 580.03 256.33C581.39 257.59 582.01 259.46 581.91 261.34C581.8 263.22 580.34 265.72 579.41 267.59C578.47 269.47 576.59 270.83 576.28 272.6C575.96 274.37 576.49 276.87 577.53 278.23C578.57 279.58 580.86 280.63 582.53 280.73C584.2 280.83 586.08 279.69 587.54 278.85C589 278.02 589.83 276.14 591.29 275.73C592.75 275.31 594.31 275.93 596.29 276.35C598.28 276.77 600.88 277.6 603.18 278.23C605.47 278.85 607.66 279.48 610.06 280.11C612.45 280.73 615.27 281.25 617.56 281.98C619.86 282.71 622.15 284.28 623.82 284.48C625.49 284.69 626.53 284.38 627.57 283.23C628.61 282.09 629.24 279.58 630.07 277.6C630.91 275.62 631.33 273.02 632.58 271.35C633.83 269.68 636.12 268.85 637.58 267.59C639.04 266.34 640.5 265.3 641.33 263.84C642.17 262.38 642.38 259.67 642.59 258.84" fill="none" stroke="#30f0f0" stroke-width="1.1" stroke-linecap="round" stroke-linejoin="round"/>
<path d="M575.03 228.18C574.19 227.87 571.9 226 570.02 226.31C568.15 226.62 565.64 229.23 563.77 230.06C561.89 230.9 560.43 231.52 558.76 231.31C557.09 231.1 555.63 229.23 553.76 228.81C551.88 228.39 548.86 228.18 547.5 228.81C546.15 229.44 545.63 231.1 545.63 232.56C545.63 234.02 546.56 235.9 547.5 237.57C548.44 239.24 550 241.22 551.26 242.57C552.51 243.93 553.34 245.28 555.01 245.7C556.68 246.12 559.39 245.8 561.26 245.07C563.14 244.34 564.5 242.16 566.27 241.32C568.04 240.49 570.02 239.76 571.9 240.07C573.78 240.38 575.86 242.16 577.53 243.2C579.2 244.24 581.18 245.8 581.91 246.33" fill="none" stroke="#0f9c9c" stroke-width="2.0" stroke-linecap="round" stroke-linejoin="round"/>
<path d="M575.03 228.18C574.19 227.87 571.9 226 570.02 226.31C568.15 226.62 565.64 229.23 563.77 230.06C561.89 230.9 560.43 231.52 558.76 231.31C557.09 231.1 555.63 229.23 553.76 228.81C551.88 228.39 548.86 228.18 547.5 228.81C546.15 229.44 545.63 231.1 545.63 232.56C545.63 234.02 546.56 235.9 547.5 237.57C548.44 239.24 550 241.22 551.26 242.57C552.51 243.93 553.34 245.28 555.01 245.7C556.68 246.12 559.39 245.8 561.26 245.07C563.14 244.34 564.5 242.16 566.27 241.32C568.04 240.49 570.02 239.76 571.9 240.07C573.78 240.38 575.86 242.16 577.53 243.2C579.2 244.24 581.18 245.8 581.91 246.33" fill="none" stroke="#30f0f0" stroke-width="1.1" stroke-linecap="round" stroke-linejoin="round"/>
<path d="M586.29 255.08C586.12 254.67 584.97 253.1 585.29 252.58C585.6 252.06 587.37 251.33 588.16 251.96C588.96 252.58 589.62 254.98 590.04 256.33C590.46 257.69 590.14 258.84 590.66 260.09C591.19 261.34 592.02 263.01 593.17 263.84C594.31 264.67 596.19 265.3 597.55 265.09C598.9 264.88 600.26 263.63 601.3 262.59C602.34 261.55 603.38 259.46 603.8 258.84" fill="none" stroke="#0f9c9c" stroke-width="2.0" stroke-linecap="round" stroke-linejoin="round"/>
<path d="M586.29 255.08C586.12 254.67 584.97 253.1 585.29 252.58C585.6 252.06 587.37 251.33 588.16 251.96C588.96 252.58 589.62 254.98 590.04 256.33C590.46 257.69 590.14 258.84 590.66 260.09C591.19 261.34 592.02 263.01 593.17 263.84C594.31 264.67 596.19 265.3 597.55 265.09C598.9 264.88 600.26 263.63 601.3 262.59C602.34 261.55 603.38 259.46 603.8 258.84" fill="none" stroke="#30f0f0" stroke-width="1.1" stroke-linecap="round" stroke-linejoin="round"/>
<path d="M638.21 242.57C638.31 243.41 639.04 245.91 638.83 247.58C638.62 249.24 637.06 250.91 636.96 252.58C636.85 254.25 637.27 256.33 638.21 257.59C639.14 258.84 641.86 259.67 642.59 260.09" fill="none" stroke="#0f9c9c" stroke-width="2.0" stroke-linecap="round" stroke-linejoin="round"/>
<path d="M638.21 242.57C638.31 243.41 639.04 245.91 638.83 247.58C638.62 249.24 637.06 250.91 636.96 252.58C636.85 254.25 637.27 256.33 638.21 257.59C639.14 258.84 641.86 259.67 642.59 260.09" fill="none" stroke="#30f0f0" stroke-width="1.1" stroke-linecap="round" stroke-linejoin="round"/>
<path d="M622.57 255.08C623.4 255.4 625.9 256.33 627.57 256.96C629.24 257.59 630.91 258 632.58 258.84C634.24 259.67 636.12 261.55 637.58 261.96C639.04 262.38 640.71 261.44 641.33 261.34" fill="none" stroke="#0f9c9c" stroke-width="2.0" stroke-linecap="round" stroke-linejoin="round"/>
<path d="M622.57 255.08C623.4 255.4 625.9 256.33 627.57 256.96C629.24 257.59 630.91 258 632.58 258.84C634.24 259.67 636.12 261.55 637.58 261.96C639.04 262.38 640.71 261.44 641.33 261.34" fill="none" stroke="#30f0f0" stroke-width="1.1" stroke-linecap="round" stroke-linejoin="round"/>
<path d="M643.84 210.04C644.98 210.77 649.57 213.69 650.72 214.42" fill="none" stroke="#0f9c9c" stroke-width="2.0" stroke-linecap="round" stroke-linejoin="round"/>
<path d="M643.84 210.04C644.98 210.77 649.57 213.69 650.72 214.42" fill="none" stroke="#30f0f0" stroke-width="1.1" stroke-linecap="round" stroke-linejoin="round"/>
<path d="M612.56 178.77C612.45 177.93 612.35 175.22 611.93 173.76C611.52 172.3 611.41 171.05 610.06 170.01C608.7 168.97 606.3 168.24 603.8 167.51C601.3 166.78 597.55 166.09 595.04 165.63C592.54 165.17 590.35 164.44 588.79 164.75C587.22 165.07 586.24 166.01 585.66 167.51C585.08 169.01 585.81 171.89 585.29 173.76C584.76 175.64 583.93 177.62 582.53 178.77C581.14 179.91 578.47 179.81 576.9 180.64C575.34 181.48 573.98 182.21 573.15 183.77C572.32 185.33 571.69 188.15 571.9 190.03C572.11 191.9 573.57 193.36 574.4 195.03C575.23 196.7 576.59 198.16 576.9 200.04C577.22 201.91 576.59 204.41 576.28 206.29C575.96 208.17 575.34 209.84 575.03 211.29C574.71 212.75 574.5 214.42 574.4 215.05" fill="none" stroke="#1c9a1c" stroke-width="2.0" stroke-linecap="round" stroke-linejoin="round"/>
<path d="M612.56 178.77C612.45 177.93 612.35 175.22 611.93 173.76C611.52 172.3 611.41 171.05 610.06 170.01C608.7 168.97 606.3 168.24 603.8 167.51C601.3 166.78 597.55 166.09 595.04 165.63C592.54 165.17 590.35 164.44 588.79 164.75C587.22 165.07 586.24 166.01 585.66 167.51C585.08 169.01 585.81 171.89 585.29 173.76C584.76 175.64 583.93 177.62 582.53 178.77C581.14 179.91 578.47 179.81 576.9 180.64C575.34 181.48 573.98 182.21 573.15 183.77C572.32 185.33 571.69 188.15 571.9 190.03C572.11 191.9 573.57 193.36 574.4 195.03C575.23 196.7 576.59 198.16 576.9 200.04C577.22 201.91 576.59 204.41 576.28 206.29C575.96 208.17 575.34 209.84 575.03 211.29C574.71 212.75 574.5 214.42 574.4 215.05" fill="none" stroke="#3fe83f" stroke-width="1.1" stroke-linecap="round" stroke-linejoin="round"/>
<path d="M612.56 180.02C613.39 179.6 615.48 178.14 617.56 177.52C619.65 176.89 622.78 176.06 625.07 176.26C627.36 176.47 629.76 177.41 631.33 178.77C632.89 180.12 634.04 182.31 634.45 184.4C634.87 186.48 634.35 189.09 633.83 191.28C633.31 193.47 631.95 195.55 631.33 197.53C630.7 199.51 630.28 202.22 630.07 203.16" fill="none" stroke="#1c9a1c" stroke-width="2.0" stroke-linecap="round" stroke-linejoin="round"/>
<path d="M612.56 180.02C613.39 179.6 615.48 178.14 617.56 177.52C619.65 176.89 622.78 176.06 625.07 176.26C627.36 176.47 629.76 177.41 631.33 178.77C632.89 180.12 634.04 182.31 634.45 184.4C634.87 186.48 634.35 189.09 633.83 191.28C633.31 193.47 631.95 195.55 631.33 197.53C630.7 199.51 630.28 202.22 630.07 203.16" fill="none" stroke="#3fe83f" stroke-width="1.1" stroke-linecap="round" stroke-linejoin="round"/>
<path d="M615.06 185.02C615.9 184.6 618.71 182.31 620.07 182.52C621.42 182.73 622.57 184.81 623.19 186.27C623.82 187.73 623.09 190.19 623.82 191.28C624.55 192.36 626.53 192.99 627.57 192.78C628.61 192.57 629.45 191.32 630.07 190.03C630.7 188.73 631.12 185.86 631.33 185.02" fill="none" stroke="#1c9a1c" stroke-width="2.0" stroke-linecap="round" stroke-linejoin="round"/>
<path d="M615.06 185.02C615.9 184.6 618.71 182.31 620.07 182.52C621.42 182.73 622.57 184.81 623.19 186.27C623.82 187.73 623.09 190.19 623.82 191.28C624.55 192.36 626.53 192.99 627.57 192.78C628.61 192.57 629.45 191.32 630.07 190.03C630.7 188.73 631.12 185.86 631.33 185.02" fill="none" stroke="#3fe83f" stroke-width="1.1" stroke-linecap="round" stroke-linejoin="round"/>
<path d="M572.52 196.28C571.9 197.12 569.5 199.93 568.77 201.29C568.04 202.64 567.62 204 568.15 204.41C568.67 204.83 570.75 204.31 571.9 203.79C573.05 203.27 574.5 201.7 575.03 201.29" fill="none" stroke="#1c9a1c" stroke-width="2.0" stroke-linecap="round" stroke-linejoin="round"/>
<path d="M572.52 196.28C571.9 197.12 569.5 199.93 568.77 201.29C568.04 202.64 567.62 204 568.15 204.41C568.67 204.83 570.75 204.31 571.9 203.79C573.05 203.27 574.5 201.7 575.03 201.29" fill="none" stroke="#3fe83f" stroke-width="1.1" stroke-linecap="round" stroke-linejoin="round"/>
<path d="M632.58 206.29C633.83 205.98 637.37 205.04 640.08 204.41C642.79 203.79 646.34 203.27 648.84 202.54C651.34 201.81 653.22 201.49 655.1 200.04C656.97 198.58 658.43 195.34 660.1 193.78C661.77 192.22 663.23 191.28 665.11 190.65C666.98 190.03 669.59 190.65 671.36 190.03C673.13 189.4 674.91 188.25 675.74 186.9C676.57 185.54 676.05 181.89 676.36 181.89C676.68 181.89 676.18 185.54 677.62 186.9C679.05 188.25 684.1 189.38 685 190.03C685.9 190.67 682.46 190.27 683.03 190.75C683.6 191.23 687.14 191.29 688.39 192.9C689.64 194.5 689.29 198.61 690.54 200.4C691.79 202.19 694.11 203.62 695.9 203.62C697.69 203.62 700.19 201.97 701.26 200.4C702.33 198.83 702.65 195.79 702.33 194.18C702.01 192.57 699.83 191.32 699.33 190.75" fill="none" stroke="#1c9a1c" stroke-width="2.0" stroke-linecap="round" stroke-linejoin="round"/>
<path d="M632.58 206.29C633.83 205.98 637.37 205.04 640.08 204.41C642.79 203.79 646.34 203.27 648.84 202.54C651.34 201.81 653.22 201.49 655.1 200.04C656.97 198.58 658.43 195.34 660.1 193.78C661.77 192.22 663.23 191.28 665.11 190.65C666.98 190.03 669.59 190.65 671.36 190.03C673.13 189.4 674.91 188.25 675.74 186.9C676.57 185.54 676.05 181.89 676.36 181.89C676.68 181.89 676.18 185.54 677.62 186.9C679.05 188.25 684.1 189.38 685 190.03C685.9 190.67 682.46 190.27 683.03 190.75C683.6 191.23 687.14 191.29 688.39 192.9C689.64 194.5 689.29 198.61 690.54 200.4C691.79 202.19 694.11 203.62 695.9 203.62C697.69 203.62 700.19 201.97 701.26 200.4C702.33 198.83 702.65 195.79 702.33 194.18C702.01 192.57 699.83 191.32 699.33 190.75" fill="none" stroke="#3fe83f" stroke-width="1.1" stroke-linecap="round" stroke-linejoin="round"/>
<path d="M643.84 207.54C645.09 207.12 648.84 205.35 651.34 205.04C653.85 204.73 657.08 205.14 658.85 205.66C660.62 206.19 662.19 207.44 661.98 208.17C661.77 208.9 658.85 209.11 657.6 210.04C656.35 210.98 654.47 212.34 654.47 213.8C654.47 215.26 656.03 217.34 657.6 218.8C659.16 220.26 662.5 221.51 663.85 222.55C665.21 223.6 665.94 224.43 665.73 225.06C665.52 225.68 664.17 226.73 662.6 226.31C661.04 225.89 658.22 223.7 656.35 222.55C654.47 221.41 653.22 219.43 651.34 219.43C649.47 219.43 646.76 221.62 645.09 222.55C643.42 223.49 641.96 224.64 641.33 225.06" fill="none" stroke="#1c9a1c" stroke-width="2.0" stroke-linecap="round" stroke-linejoin="round"/>
<path d="M643.84 207.54C645.09 207.12 648.84 205.35 651.34 205.04C653.85 204.73 657.08 205.14 658.85 205.66C660.62 206.19 662.19 207.44 661.98 208.17C661.77 208.9 658.85 209.11 657.6 210.04C656.35 210.98 654.47 212.34 654.47 213.8C654.47 215.26 656.03 217.34 657.6 218.8C659.16 220.26 662.5 221.51 663.85 222.55C665.21 223.6 665.94 224.43 665.73 225.06C665.52 225.68 664.17 226.73 662.6 226.31C661.04 225.89 658.22 223.7 656.35 222.55C654.47 221.41 653.22 219.43 651.34 219.43C649.47 219.43 646.76 221.62 645.09 222.55C643.42 223.49 641.96 224.64 641.33 225.06" fill="none" stroke="#3fe83f" stroke-width="1.1" stroke-linecap="round" stroke-linejoin="round"/>
<ellipse cx="565.64" cy="193.15" rx="6.9" ry="3.4" fill="#147814" transform="rotate(14 565.64 193.15)"/>
<ellipse cx="566.89" cy="192.78" rx="3.2" ry="1.2" fill="#2cc02c" transform="rotate(14 566.89 192.78)"/>
<path d="M602.95 208.08 L631.97 210.08 L632.43 203.5 L603.4 201.5Z" fill="#2ee52e" stroke="#1c9a1c" stroke-width="0.6" stroke-linejoin="round"/>
<path d="M610.41 205.62 L610.55 203.64 L623.61 204.54 L623.47 206.52Z" fill="#8cf58c" opacity="0.45" stroke-linejoin="round"/>
<path d="M594.42 219.73 L618.63 222.55 L618.4 224.54 L626.95 220.3 L619.6 214.21 L619.37 216.2 L595.16 213.37Z" fill="#2ee52e" stroke="#1c9a1c" stroke-width="0.6" stroke-linejoin="round"/>
<path d="M602.79 217.81 L603.02 215.9 L617.49 217.59 L617.26 219.49Z" fill="#8cf58c" opacity="0.45" stroke-linejoin="round"/>
<path d="M619.41 232.36 L593.58 229.44 L593.82 227.35 L584.78 231.56 L592.65 237.69 L592.88 235.6 L618.72 238.52Z" fill="#19eeee" stroke="#0f9c9c" stroke-width="0.6" stroke-linejoin="round"/>
<path d="M610.53 234.16 L610.32 236.01 L594.89 234.27 L595.1 232.42Z" fill="#a8ffff" opacity="0.45" stroke-linejoin="round"/>
<path d="M637.49 237.14 L581.19 243.14 L581.87 249.51 L638.17 243.5Z" fill="#19eeee" stroke="#0f9c9c" stroke-width="0.6" stroke-linejoin="round"/>
<path d="M623.72 241.5 L623.93 243.41 L598.59 246.11 L598.39 244.21Z" fill="#a8ffff" opacity="0.45" stroke-linejoin="round"/>
<path d="M596.35 186.34 L596.47 186.77 L597.12 187.49 L598.22 188.44 L599.64 189.56 L601.24 190.78 L602.83 191.99 L604.26 193.11 L605.35 194.07 L606 194.78 L606.13 195.22" fill="none" stroke="#23bd23" stroke-width="5.6" stroke-linejoin="round" stroke-linecap="round"/>
<path d="M588.53 201.1 L588.65 201.54 L589.3 202.25 L590.4 203.2 L591.82 204.33 L593.42 205.54 L595.01 206.75 L596.44 207.88 L597.53 208.83 L598.18 209.54 L598.31 209.98" fill="none" stroke="#23bd23" stroke-width="5.6" stroke-linejoin="round" stroke-linecap="round"/>
<path d="M580.71 215.86 L580.83 216.3 L581.48 217.01 L582.58 217.96 L584 219.09 L585.6 220.3 L587.19 221.52 L588.62 222.64 L589.71 223.59 L590.37 224.31 L590.49 224.74" fill="none" stroke="#23bd23" stroke-width="5.6" stroke-linejoin="round" stroke-linecap="round"/>
<path d="M614.45 179.51 L613.83 180.65 L612.88 181.61 L611.44 182.32 L609.59 182.81 L607.44 183.14 L605.15 183.4 L602.85 183.65 L600.71 183.98 L598.86 184.47 L597.42 185.18 L596.46 186.14 L595.84 187.28" fill="none" stroke="#1c9a1c" stroke-width="8.9" stroke-linejoin="round" stroke-linecap="round"/>
<path d="M614.45 179.51 L613.83 180.65 L612.88 181.61 L611.44 182.32 L609.59 182.81 L607.44 183.14 L605.15 183.4 L602.85 183.65 L600.71 183.98 L598.86 184.47 L597.42 185.18 L596.46 186.14 L595.84 187.28" fill="none" stroke="#2ee52e" stroke-width="8" stroke-linejoin="round" stroke-linecap="round"/>
<path d="M611.44 182.32 L609.59 182.81 L607.44 183.14 L605.15 183.4 L602.85 183.65" fill="none" stroke="#8cf58c" stroke-width="3.2" stroke-linecap="round" opacity="0.4"/>
<path d="M606.63 194.27 L606.01 195.41 L605.06 196.38 L603.62 197.08 L601.77 197.57 L599.62 197.91 L597.33 198.16 L595.03 198.41 L592.89 198.74 L591.04 199.23 L589.6 199.94 L588.64 200.9 L588.03 202.05" fill="none" stroke="#1c9a1c" stroke-width="8.9" stroke-linejoin="round" stroke-linecap="round"/>
<path d="M606.63 194.27 L606.01 195.41 L605.06 196.38 L603.62 197.08 L601.77 197.57 L599.62 197.91 L597.33 198.16 L595.03 198.41 L592.89 198.74 L591.04 199.23 L589.6 199.94 L588.64 200.9 L588.03 202.05" fill="none" stroke="#2ee52e" stroke-width="8" stroke-linejoin="round" stroke-linecap="round"/>
<path d="M603.62 197.08 L601.77 197.57 L599.62 197.91 L597.33 198.16 L595.03 198.41" fill="none" stroke="#8cf58c" stroke-width="3.2" stroke-linecap="round" opacity="0.4"/>
<path d="M598.81 209.03 L598.19 210.18 L597.24 211.14 L595.8 211.85 L593.95 212.34 L591.81 212.67 L589.51 212.92 L587.21 213.17 L585.07 213.51 L583.22 214 L581.78 214.7 L580.82 215.67 L580.21 216.81" fill="none" stroke="#1c9a1c" stroke-width="8.9" stroke-linejoin="round" stroke-linecap="round"/>
<path d="M598.81 209.03 L598.19 210.18 L597.24 211.14 L595.8 211.85 L593.95 212.34 L591.81 212.67 L589.51 212.92 L587.21 213.17 L585.07 213.51 L583.22 214 L581.78 214.7 L580.82 215.67 L580.21 216.81" fill="none" stroke="#2ee52e" stroke-width="8" stroke-linejoin="round" stroke-linecap="round"/>
<path d="M595.8 211.85 L593.95 212.34 L591.81 212.67 L589.51 212.92 L587.21 213.17" fill="none" stroke="#8cf58c" stroke-width="3.2" stroke-linecap="round" opacity="0.4"/>
<path d="M590.99 223.8 L590.37 224.94 L589.42 225.9 L587.98 226.61 L586.13 227.1 L583.99 227.43 L581.69 227.68 L579.39 227.94 L577.25 228.27 L575.4 228.76 L573.96 229.47 L573 230.43 L572.39 231.57" fill="none" stroke="#1c9a1c" stroke-width="8.9" stroke-linejoin="round" stroke-linecap="round"/>
<path d="M590.99 223.8 L590.37 224.94 L589.42 225.9 L587.98 226.61 L586.13 227.1 L583.99 227.43 L581.69 227.68 L579.39 227.94 L577.25 228.27 L575.4 228.76 L573.96 229.47 L573 230.43 L572.39 231.57" fill="none" stroke="#2ee52e" stroke-width="8" stroke-linejoin="round" stroke-linecap="round"/>
<path d="M587.98 226.61 L586.13 227.1 L583.99 227.43 L581.69 227.68 L579.39 227.94" fill="none" stroke="#8cf58c" stroke-width="3.2" stroke-linecap="round" opacity="0.4"/>
<path d="M626.19 216.91 L626.29 217.38 L626.92 218.13 L627.99 219.12 L629.38 220.29 L630.95 221.55 L632.52 222.82 L633.91 223.98 L634.98 224.98 L635.61 225.73 L635.71 226.2" fill="none" stroke="#14c4c4" stroke-width="5.6" stroke-linejoin="round" stroke-linecap="round"/>
<path d="M618.06 231.92 L618.16 232.39 L618.78 233.14 L619.86 234.14 L621.25 235.31 L622.82 236.57 L624.38 237.83 L625.78 239 L626.85 239.99 L627.48 240.74 L627.58 241.21" fill="none" stroke="#14c4c4" stroke-width="5.6" stroke-linejoin="round" stroke-linecap="round"/>
<path d="M609.92 246.93 L610.03 247.4 L610.65 248.16 L611.72 249.15 L613.12 250.32 L614.69 251.58 L616.25 252.84 L617.65 254.01 L618.72 255 L619.35 255.76 L619.45 256.23" fill="none" stroke="#14c4c4" stroke-width="5.6" stroke-linejoin="round" stroke-linecap="round"/>
<path d="M644.35 210.25 L643.73 211.38 L642.76 212.34 L641.32 213.03 L639.46 213.5 L637.32 213.82 L635.02 214.05 L632.72 214.28 L630.57 214.59 L628.72 215.06 L627.27 215.76 L626.31 216.71 L625.68 217.85" fill="none" stroke="#0f9c9c" stroke-width="8.9" stroke-linejoin="round" stroke-linecap="round"/>
<path d="M644.35 210.25 L643.73 211.38 L642.76 212.34 L641.32 213.03 L639.46 213.5 L637.32 213.82 L635.02 214.05 L632.72 214.28 L630.57 214.59 L628.72 215.06 L627.27 215.76 L626.31 216.71 L625.68 217.85" fill="none" stroke="#19eeee" stroke-width="8" stroke-linejoin="round" stroke-linecap="round"/>
<path d="M641.32 213.03 L639.46 213.5 L637.32 213.82 L635.02 214.05 L632.72 214.28" fill="none" stroke="#a8ffff" stroke-width="3.2" stroke-linecap="round" opacity="0.4"/>
<path d="M636.22 225.26 L635.6 226.4 L634.63 227.35 L633.18 228.04 L631.33 228.52 L629.18 228.83 L626.88 229.06 L624.58 229.29 L622.44 229.6 L620.58 230.08 L619.14 230.77 L618.17 231.72 L617.55 232.86" fill="none" stroke="#0f9c9c" stroke-width="8.9" stroke-linejoin="round" stroke-linecap="round"/>
<path d="M636.22 225.26 L635.6 226.4 L634.63 227.35 L633.18 228.04 L631.33 228.52 L629.18 228.83 L626.88 229.06 L624.58 229.29 L622.44 229.6 L620.58 230.08 L619.14 230.77 L618.17 231.72 L617.55 232.86" fill="none" stroke="#19eeee" stroke-width="8" stroke-linejoin="round" stroke-linecap="round"/>
<path d="M633.18 228.04 L631.33 228.52 L629.18 228.83 L626.88 229.06 L624.58 229.29" fill="none" stroke="#a8ffff" stroke-width="3.2" stroke-linecap="round" opacity="0.4"/>
<path d="M628.09 240.27 L627.46 241.41 L626.5 242.36 L625.05 243.06 L623.2 243.53 L621.05 243.84 L618.75 244.07 L616.45 244.3 L614.31 244.62 L612.45 245.09 L611.01 245.78 L610.04 246.74 L609.41 247.87" fill="none" stroke="#0f9c9c" stroke-width="8.9" stroke-linejoin="round" stroke-linecap="round"/>
<path d="M628.09 240.27 L627.46 241.41 L626.5 242.36 L625.05 243.06 L623.2 243.53 L621.05 243.84 L618.75 244.07 L616.45 244.3 L614.31 244.62 L612.45 245.09 L611.01 245.78 L610.04 246.74 L609.41 247.87" fill="none" stroke="#19eeee" stroke-width="8" stroke-linejoin="round" stroke-linecap="round"/>
<path d="M625.05 243.06 L623.2 243.53 L621.05 243.84 L618.75 244.07 L616.45 244.3" fill="none" stroke="#a8ffff" stroke-width="3.2" stroke-linecap="round" opacity="0.4"/>
<path d="M619.96 255.29 L619.33 256.42 L618.37 257.38 L616.92 258.07 L615.07 258.54 L612.92 258.86 L610.62 259.09 L608.32 259.32 L606.17 259.63 L604.32 260.1 L602.87 260.8 L601.91 261.75 L601.28 262.89" fill="none" stroke="#0f9c9c" stroke-width="8.9" stroke-linejoin="round" stroke-linecap="round"/>
<path d="M619.96 255.29 L619.33 256.42 L618.37 257.38 L616.92 258.07 L615.07 258.54 L612.92 258.86 L610.62 259.09 L608.32 259.32 L606.17 259.63 L604.32 260.1 L602.87 260.8 L601.91 261.75 L601.28 262.89" fill="none" stroke="#19eeee" stroke-width="8" stroke-linejoin="round" stroke-linecap="round"/>
<path d="M616.92 258.07 L615.07 258.54 L612.92 258.86 L610.62 259.09 L608.32 259.32" fill="none" stroke="#a8ffff" stroke-width="3.2" stroke-linecap="round" opacity="0.4"/>
<ellipse cx="649.47" cy="256.33" rx="5.4" ry="4.6" fill="none" stroke="#0c8484" stroke-width="2.9"/>
<path d="M644.07 256.33 A5.4 4.6 0 0 1 652.47 252.33" fill="none" stroke="#19eeee" stroke-width="2.6"/>
<path d="M721.66 188.87C722.09 190.39 722.74 195.57 724.25 197.94C725.77 200.32 728.14 201.79 730.73 203.13C733.32 204.47 737.21 204.64 739.8 205.98C742.4 207.32 743.69 212.03 746.28 211.16C748.87 210.3 752.11 203.65 755.35 200.8C758.59 197.94 762.7 196.22 765.72 194.06C768.74 191.9 771.55 187.41 773.49 187.84C775.44 188.27 776.3 194.62 777.38 196.65C778.47 198.68 778.73 199.78 780 200.04C781.27 200.29 783.44 198.26 785 198.16C786.57 198.05 787.92 198.37 789.38 199.41C790.84 200.45 792.41 202.75 793.76 204.41C795.12 206.08 795.85 208.17 797.52 209.42C799.18 210.67 801.48 211.4 803.77 211.92C806.06 212.44 808.98 212.02 811.28 212.55C813.57 213.07 815.66 214.63 817.53 215.05C819.41 215.47 821.7 215.05 822.54 215.05" fill="none" stroke="#1c9a1c" stroke-width="2.0" stroke-linecap="round" stroke-linejoin="round"/>
<path d="M721.66 188.87C722.09 190.39 722.74 195.57 724.25 197.94C725.77 200.32 728.14 201.79 730.73 203.13C733.32 204.47 737.21 204.64 739.8 205.98C742.4 207.32 743.69 212.03 746.28 211.16C748.87 210.3 752.11 203.65 755.35 200.8C758.59 197.94 762.7 196.22 765.72 194.06C768.74 191.9 771.55 187.41 773.49 187.84C775.44 188.27 776.3 194.62 777.38 196.65C778.47 198.68 778.73 199.78 780 200.04C781.27 200.29 783.44 198.26 785 198.16C786.57 198.05 787.92 198.37 789.38 199.41C790.84 200.45 792.41 202.75 793.76 204.41C795.12 206.08 795.85 208.17 797.52 209.42C799.18 210.67 801.48 211.4 803.77 211.92C806.06 212.44 808.98 212.02 811.28 212.55C813.57 213.07 815.66 214.63 817.53 215.05C819.41 215.47 821.7 215.05 822.54 215.05" fill="none" stroke="#3fe83f" stroke-width="1.1" stroke-linecap="round" stroke-linejoin="round"/>
<path d="M820.04 215.05C820.87 214.84 823.89 214.74 825.04 213.8C826.19 212.86 826.81 211.29 826.92 209.42C827.02 207.54 826.6 204.73 825.66 202.54C824.73 200.35 822.12 198.37 821.29 196.28C820.45 194.2 820.14 191.9 820.66 190.03C821.18 188.15 822.85 185.96 824.41 185.02C825.98 184.08 828.27 183.98 830.04 184.4C831.82 184.81 833.17 187.21 835.05 187.52C836.92 187.84 839.01 187 841.3 186.27C843.6 185.54 846.1 184.19 848.81 183.15C851.52 182.1 854.65 180.96 857.57 180.02C860.49 179.08 864.03 177.72 866.33 177.52C868.62 177.31 870.18 177.72 871.33 178.77C872.48 179.81 872.79 182.1 873.21 183.77C873.62 185.44 872.89 187.42 873.83 188.78C874.77 190.13 877.38 190.86 878.84 191.9C880.3 192.95 881.76 193.47 882.59 195.03C883.42 196.59 883.74 199.2 883.84 201.29C883.95 203.37 883.22 205.46 883.22 207.54C883.22 209.63 883.53 211.71 883.84 213.8C884.15 215.88 884.99 218.18 885.09 220.05C885.2 221.93 884.57 224.22 884.47 225.06" fill="none" stroke="#1c9a1c" stroke-width="2.0" stroke-linecap="round" stroke-linejoin="round"/>
<path d="M820.04 215.05C820.87 214.84 823.89 214.74 825.04 213.8C826.19 212.86 826.81 211.29 826.92 209.42C827.02 207.54 826.6 204.73 825.66 202.54C824.73 200.35 822.12 198.37 821.29 196.28C820.45 194.2 820.14 191.9 820.66 190.03C821.18 188.15 822.85 185.96 824.41 185.02C825.98 184.08 828.27 183.98 830.04 184.4C831.82 184.81 833.17 187.21 835.05 187.52C836.92 187.84 839.01 187 841.3 186.27C843.6 185.54 846.1 184.19 848.81 183.15C851.52 182.1 854.65 180.96 857.57 180.02C860.49 179.08 864.03 177.72 866.33 177.52C868.62 177.31 870.18 177.72 871.33 178.77C872.48 179.81 872.79 182.1 873.21 183.77C873.62 185.44 872.89 187.42 873.83 188.78C874.77 190.13 877.38 190.86 878.84 191.9C880.3 192.95 881.76 193.47 882.59 195.03C883.42 196.59 883.74 199.2 883.84 201.29C883.95 203.37 883.22 205.46 883.22 207.54C883.22 209.63 883.53 211.71 883.84 213.8C884.15 215.88 884.99 218.18 885.09 220.05C885.2 221.93 884.57 224.22 884.47 225.06" fill="none" stroke="#3fe83f" stroke-width="1.1" stroke-linecap="round" stroke-linejoin="round"/>
<path d="M833.8 206.92C833.28 206.19 830.88 204.21 830.67 202.54C830.46 200.87 831.4 198.16 832.55 196.91C833.69 195.66 835.88 195.24 837.55 195.03C839.22 194.82 841.3 195.03 842.55 195.66C843.81 196.28 844.64 198.26 845.06 198.78" fill="none" stroke="#1c9a1c" stroke-width="2.0" stroke-linecap="round" stroke-linejoin="round"/>
<path d="M833.8 206.92C833.28 206.19 830.88 204.21 830.67 202.54C830.46 200.87 831.4 198.16 832.55 196.91C833.69 195.66 835.88 195.24 837.55 195.03C839.22 194.82 841.3 195.03 842.55 195.66C843.81 196.28 844.64 198.26 845.06 198.78" fill="none" stroke="#3fe83f" stroke-width="1.1" stroke-linecap="round" stroke-linejoin="round"/>
<path d="M820.66 236.32C819.72 235.9 817.01 234.65 815.03 233.81C813.05 232.98 810.65 231.42 808.78 231.31C806.9 231.21 805.44 232.15 803.77 233.19C802.1 234.23 800.64 236.73 798.77 237.57C796.89 238.4 794.18 238.51 792.51 238.19C790.84 237.88 788.76 237.05 788.76 235.69C788.76 234.34 791.05 231.83 792.51 230.06C793.97 228.29 796.16 226.41 797.52 225.06C798.87 223.7 800.64 223.08 800.64 221.93C800.64 220.78 797.62 219.11 797.52 218.18C797.41 217.24 798.35 216.51 800.02 216.3C801.69 216.09 805.02 216.4 807.52 216.92C810.03 217.45 812.74 218.7 815.03 219.43C817.32 220.16 820.24 220.99 821.29 221.3" fill="none" stroke="#1c9a1c" stroke-width="2.0" stroke-linecap="round" stroke-linejoin="round"/>
<path d="M820.66 236.32C819.72 235.9 817.01 234.65 815.03 233.81C813.05 232.98 810.65 231.42 808.78 231.31C806.9 231.21 805.44 232.15 803.77 233.19C802.1 234.23 800.64 236.73 798.77 237.57C796.89 238.4 794.18 238.51 792.51 238.19C790.84 237.88 788.76 237.05 788.76 235.69C788.76 234.34 791.05 231.83 792.51 230.06C793.97 228.29 796.16 226.41 797.52 225.06C798.87 223.7 800.64 223.08 800.64 221.93C800.64 220.78 797.62 219.11 797.52 218.18C797.41 217.24 798.35 216.51 800.02 216.3C801.69 216.09 805.02 216.4 807.52 216.92C810.03 217.45 812.74 218.7 815.03 219.43C817.32 220.16 820.24 220.99 821.29 221.3" fill="none" stroke="#3fe83f" stroke-width="1.1" stroke-linecap="round" stroke-linejoin="round"/>
<path d="M811.28 226.93C812.95 226.1 819.62 222.76 821.29 221.93" fill="none" stroke="#0f9c9c" stroke-width="2.0" stroke-linecap="round" stroke-linejoin="round"/>
<path d="M811.28 226.93C812.95 226.1 819.62 222.76 821.29 221.93" fill="none" stroke="#30f0f0" stroke-width="1.1" stroke-linecap="round" stroke-linejoin="round"/>
<path d="M880.09 240.07C881.13 239.76 884.26 237.98 886.34 238.19C888.43 238.4 890.51 240.49 892.6 241.32C894.68 242.16 896.77 243.3 898.85 243.2C900.94 243.09 903.02 241.22 905.11 240.7C907.19 240.17 909.59 239.55 911.36 240.07C913.14 240.59 915.12 242.16 915.74 243.82C916.37 245.49 916.06 248.2 915.12 250.08C914.18 251.96 912.09 253.94 910.11 255.08C908.13 256.23 905.53 256.86 903.23 256.96C900.94 257.06 898.54 256.44 896.35 255.71C894.16 254.98 891.97 253.52 890.1 252.58C888.22 251.64 886.76 249.87 885.09 250.08C883.42 250.29 881.44 252.37 880.09 253.83C878.73 255.29 877.48 258 876.96 258.84" fill="none" stroke="#0f9c9c" stroke-width="2.0" stroke-linecap="round" stroke-linejoin="round"/>
<path d="M880.09 240.07C881.13 239.76 884.26 237.98 886.34 238.19C888.43 238.4 890.51 240.49 892.6 241.32C894.68 242.16 896.77 243.3 898.85 243.2C900.94 243.09 903.02 241.22 905.11 240.7C907.19 240.17 909.59 239.55 911.36 240.07C913.14 240.59 915.12 242.16 915.74 243.82C916.37 245.49 916.06 248.2 915.12 250.08C914.18 251.96 912.09 253.94 910.11 255.08C908.13 256.23 905.53 256.86 903.23 256.96C900.94 257.06 898.54 256.44 896.35 255.71C894.16 254.98 891.97 253.52 890.1 252.58C888.22 251.64 886.76 249.87 885.09 250.08C883.42 250.29 881.44 252.37 880.09 253.83C878.73 255.29 877.48 258 876.96 258.84" fill="none" stroke="#30f0f0" stroke-width="1.1" stroke-linecap="round" stroke-linejoin="round"/>
<path d="M867.58 261.34C867.99 261.96 870.29 263.84 870.08 265.09C869.87 266.34 867.99 268.01 866.33 268.85C864.66 269.68 861.74 270.3 860.07 270.1C858.4 269.89 857.15 268.64 856.32 267.59C855.48 266.55 855.27 264.47 855.07 263.84" fill="none" stroke="#0f9c9c" stroke-width="2.0" stroke-linecap="round" stroke-linejoin="round"/>
<path d="M867.58 261.34C867.99 261.96 870.29 263.84 870.08 265.09C869.87 266.34 867.99 268.01 866.33 268.85C864.66 269.68 861.74 270.3 860.07 270.1C858.4 269.89 857.15 268.64 856.32 267.59C855.48 266.55 855.27 264.47 855.07 263.84" fill="none" stroke="#30f0f0" stroke-width="1.1" stroke-linecap="round" stroke-linejoin="round"/>
<path d="M812.53 268.85C813.36 268.64 815.86 267.39 817.53 267.59C819.2 267.8 820.87 269.89 822.54 270.1C824.21 270.3 826.71 269.05 827.54 268.85" fill="none" stroke="#0f9c9c" stroke-width="2.0" stroke-linecap="round" stroke-linejoin="round"/>
<path d="M812.53 268.85C813.36 268.64 815.86 267.39 817.53 267.59C819.2 267.8 820.87 269.89 822.54 270.1C824.21 270.3 826.71 269.05 827.54 268.85" fill="none" stroke="#30f0f0" stroke-width="1.1" stroke-linecap="round" stroke-linejoin="round"/>
<path d="M813.78 272.6C814.41 273.33 815.86 276.14 817.53 276.98C819.2 277.81 823.16 277.5 823.79 277.6C824.41 277.71 820.66 277.19 821.29 277.6C821.91 278.02 825.87 279.06 827.54 280.11C829.21 281.15 830.46 282.4 831.29 283.86C832.13 285.32 831.29 288.24 832.55 288.86C833.8 289.49 836.51 288.24 838.8 287.61C841.1 286.99 844.01 285.74 846.31 285.11C848.6 284.48 850.9 283.65 852.56 283.86C854.23 284.07 854.65 286.05 856.32 286.36C857.98 286.67 860.7 285.94 862.57 285.74C864.45 285.53 865.91 284.8 867.58 285.11C869.24 285.42 871.02 286.99 872.58 287.61C874.14 288.24 876.08 289.28 876.96 288.86C877.84 288.45 877.84 286.99 877.84 285.11C877.84 283.23 876.79 279.9 876.96 277.6C877.13 275.31 877.69 273.02 878.84 271.35C879.98 269.68 881.96 268.22 883.84 267.59C885.72 266.97 888.01 267.18 890.1 267.59C892.18 268.01 894.27 269.26 896.35 270.1C898.44 270.93 900.73 272.18 902.61 272.6C904.48 273.02 906.26 271.76 907.61 272.6C908.97 273.43 909.49 275.83 910.74 277.6C911.99 279.38 913.58 282.19 915.12 283.23C916.66 284.28 916.61 282.48 920 283.86C923.39 285.24 931.38 291.35 935.47 291.5C939.56 291.65 941.73 286.75 944.54 284.76C947.35 282.78 949.72 279.58 952.32 279.58C954.91 279.58 957.93 282.6 960.09 284.76C962.25 286.92 963.33 290.81 965.27 292.54C967.22 294.27 969.59 293.4 971.75 295.13C973.91 296.86 976.94 300.1 978.23 302.91C979.53 305.71 978.62 310.25 979.53 311.98C980.43 313.7 982.98 313.06 983.67 313.27" fill="none" stroke="#0f9c9c" stroke-width="2.0" stroke-linecap="round" stroke-linejoin="round"/>
<path d="M813.78 272.6C814.41 273.33 815.86 276.14 817.53 276.98C819.2 277.81 823.16 277.5 823.79 277.6C824.41 277.71 820.66 277.19 821.29 277.6C821.91 278.02 825.87 279.06 827.54 280.11C829.21 281.15 830.46 282.4 831.29 283.86C832.13 285.32 831.29 288.24 832.55 288.86C833.8 289.49 836.51 288.24 838.8 287.61C841.1 286.99 844.01 285.74 846.31 285.11C848.6 284.48 850.9 283.65 852.56 283.86C854.23 284.07 854.65 286.05 856.32 286.36C857.98 286.67 860.7 285.94 862.57 285.74C864.45 285.53 865.91 284.8 867.58 285.11C869.24 285.42 871.02 286.99 872.58 287.61C874.14 288.24 876.08 289.28 876.96 288.86C877.84 288.45 877.84 286.99 877.84 285.11C877.84 283.23 876.79 279.9 876.96 277.6C877.13 275.31 877.69 273.02 878.84 271.35C879.98 269.68 881.96 268.22 883.84 267.59C885.72 266.97 888.01 267.18 890.1 267.59C892.18 268.01 894.27 269.26 896.35 270.1C898.44 270.93 900.73 272.18 902.61 272.6C904.48 273.02 906.26 271.76 907.61 272.6C908.97 273.43 909.49 275.83 910.74 277.6C911.99 279.38 913.58 282.19 915.12 283.23C916.66 284.28 916.61 282.48 920 283.86C923.39 285.24 931.38 291.35 935.47 291.5C939.56 291.65 941.73 286.75 944.54 284.76C947.35 282.78 949.72 279.58 952.32 279.58C954.91 279.58 957.93 282.6 960.09 284.76C962.25 286.92 963.33 290.81 965.27 292.54C967.22 294.27 969.59 293.4 971.75 295.13C973.91 296.86 976.94 300.1 978.23 302.91C979.53 305.71 978.62 310.25 979.53 311.98C980.43 313.7 982.98 313.06 983.67 313.27" fill="none" stroke="#30f0f0" stroke-width="1.1" stroke-linecap="round" stroke-linejoin="round"/>
<path d="M846.93 195.66 L855.07 193.53 L860.7 196.91 L861.95 203.16 L856.32 201.29 L850.06 200.04Z" fill="#2ee52e" stroke="#1c9a1c" stroke-width="0.6" stroke-linejoin="round"/>
<path d="M842.55 201.91 L850.06 199.78 L867.58 209.79 L882.59 211.04 L880.09 217.8 L866.33 214.05 L850.06 209.04Z" fill="#2ee52e" stroke="#1c9a1c" stroke-width="0.6" stroke-linejoin="round"/>
<ellipse cx="891.97" cy="206.54" rx="5.2" ry="3.4" fill="none" stroke="#147814" stroke-width="1.8" transform="rotate(-20 891.97 206.54)"/>
<ellipse cx="890.1" cy="210.67" rx="5.2" ry="3.4" fill="none" stroke="#23bd23" stroke-width="1.8" transform="rotate(-20 890.1 210.67)"/>
<ellipse cx="865.07" cy="220.05" rx="5.6" ry="5.0" fill="#2ee52e" stroke="#1c9a1c" stroke-width="0.6"/>
<ellipse cx="876.08" cy="235.69" rx="5.4" ry="6.6" fill="#2ee52e" stroke="#1c9a1c" stroke-width="0.6"/>
<path d="M826.92 213.8 L850.06 213.17 L867.58 214.55 L850.06 218.8 L826.92 220.68Z" fill="#23bd23" stroke="#1c9a1c" stroke-width="0.6" stroke-linejoin="round"/>
<path d="M884.44 222.73 L838.58 228.71 L838.36 227.02 L831.04 232.81 L839.6 236.54 L839.38 234.85 L885.24 228.88Z" fill="#2ee52e" stroke="#1c9a1c" stroke-width="0.6" stroke-linejoin="round"/>
<path d="M871.35 227.25 L871.59 229.1 L847.38 232.25 L847.14 230.4Z" fill="#8cf58c" opacity="0.45" stroke-linejoin="round"/>
<path d="M835.18 229.33 L835.28 230.04 L834.95 231.01 L834.24 232.2 L833.26 233.55 L832.13 234.98 L831 236.42 L830.02 237.77 L829.31 238.96 L828.97 239.93 L829.08 240.63" fill="none" stroke="#14c4c4" stroke-width="4.34" stroke-linejoin="round" stroke-linecap="round"/>
<path d="M844.14 244.51 L844.25 245.22 L843.91 246.19 L843.2 247.38 L842.22 248.73 L841.1 250.16 L839.97 251.6 L838.99 252.95 L838.28 254.14 L837.94 255.11 L838.05 255.81" fill="none" stroke="#14c4c4" stroke-width="4.34" stroke-linejoin="round" stroke-linecap="round"/>
<path d="M819.67 224.7 L820.22 225.61 L821.05 226.35 L822.28 226.86 L823.86 227.16 L825.69 227.31 L827.65 227.39 L829.6 227.47 L831.43 227.63 L833.01 227.93 L834.24 228.43 L835.08 229.17 L835.62 230.08" fill="none" stroke="#0f9c9c" stroke-width="7.1" stroke-linejoin="round" stroke-linecap="round"/>
<path d="M819.67 224.7 L820.22 225.61 L821.05 226.35 L822.28 226.86 L823.86 227.16 L825.69 227.31 L827.65 227.39 L829.6 227.47 L831.43 227.63 L833.01 227.93 L834.24 228.43 L835.08 229.17 L835.62 230.08" fill="none" stroke="#19eeee" stroke-width="6.2" stroke-linejoin="round" stroke-linecap="round"/>
<path d="M822.28 226.86 L823.86 227.16 L825.69 227.31 L827.65 227.39 L829.6 227.47" fill="none" stroke="#a8ffff" stroke-width="2.48" stroke-linecap="round" opacity="0.4"/>
<path d="M828.63 239.88 L829.18 240.79 L830.01 241.53 L831.25 242.04 L832.83 242.34 L834.66 242.49 L836.61 242.57 L838.57 242.65 L840.39 242.81 L841.97 243.11 L843.21 243.61 L844.04 244.35 L844.59 245.26" fill="none" stroke="#0f9c9c" stroke-width="7.1" stroke-linejoin="round" stroke-linecap="round"/>
<path d="M828.63 239.88 L829.18 240.79 L830.01 241.53 L831.25 242.04 L832.83 242.34 L834.66 242.49 L836.61 242.57 L838.57 242.65 L840.39 242.81 L841.97 243.11 L843.21 243.61 L844.04 244.35 L844.59 245.26" fill="none" stroke="#19eeee" stroke-width="6.2" stroke-linejoin="round" stroke-linecap="round"/>
<path d="M831.25 242.04 L832.83 242.34 L834.66 242.49 L836.61 242.57 L838.57 242.65" fill="none" stroke="#a8ffff" stroke-width="2.48" stroke-linecap="round" opacity="0.4"/>
<path d="M837.6 255.06 L838.15 255.97 L838.98 256.71 L840.22 257.22 L841.8 257.52 L843.62 257.67 L845.58 257.75 L847.53 257.83 L849.36 257.99 L850.94 258.29 L852.18 258.79 L853.01 259.53 L853.56 260.44" fill="none" stroke="#0f9c9c" stroke-width="7.1" stroke-linejoin="round" stroke-linecap="round"/>
<path d="M837.6 255.06 L838.15 255.97 L838.98 256.71 L840.22 257.22 L841.8 257.52 L843.62 257.67 L845.58 257.75 L847.53 257.83 L849.36 257.99 L850.94 258.29 L852.18 258.79 L853.01 259.53 L853.56 260.44" fill="none" stroke="#19eeee" stroke-width="6.2" stroke-linejoin="round" stroke-linecap="round"/>
<path d="M840.22 257.22 L841.8 257.52 L843.62 257.67 L845.58 257.75 L847.53 257.83" fill="none" stroke="#a8ffff" stroke-width="2.48" stroke-linecap="round" opacity="0.4"/>
<path d="M821.17 255.26 L867.46 247.53 L867.77 249.4 L875.33 243.07 L866.13 239.54 L866.44 241.42 L820.15 249.15Z" fill="#19eeee" stroke="#0f9c9c" stroke-width="0.6" stroke-linejoin="round"/>
<path d="M834.38 250.23 L834.07 248.39 L858.68 244.28 L858.98 246.12Z" fill="#a8ffff" opacity="0.45" stroke-linejoin="round"/>
<path d="M876.01 254.24 L829.22 263.75 L830.37 269.44 L877.16 259.93Z" fill="#19eeee" stroke="#0f9c9c" stroke-width="0.6" stroke-linejoin="round"/>
<path d="M864.83 259.18 L865.18 260.88 L844.12 265.16 L843.77 263.46Z" fill="#a8ffff" opacity="0.45" stroke-linejoin="round"/>
<path d="M824.65 273.72 L853.03 278.34 L852.74 280.12 L860.32 277.1 L854.09 271.83 L853.8 273.61 L825.43 268.98Z" fill="#19eeee" stroke="#0f9c9c" stroke-width="0.6" stroke-linejoin="round"/>
<path d="M833.82 273.02 L834.05 271.6 L849.93 274.19 L849.7 275.61Z" fill="#a8ffff" opacity="0.45" stroke-linejoin="round"/>
<ellipse cx="810.65" cy="266.97" rx="4.9" ry="4.4" fill="none" stroke="#0c8484" stroke-width="2.6"/>
<path d="M492.23 408.14C493.35 408.89 496.7 411.31 498.94 412.61C501.17 413.91 503.4 416.15 505.64 415.96C507.87 415.77 510.11 411.86 512.34 411.49C514.58 411.12 516.62 412.39 519.04 413.73C521.46 415.07 524.44 419.54 526.86 419.54C529.28 419.54 531.7 416.18 533.57 413.73C535.43 411.27 536.96 406.13 538.03 404.79C539.11 403.45 539.05 405.21 540 405.67C540.95 406.13 542.5 407.65 543.75 407.55C545 407.44 546.67 406.5 547.51 405.04C548.34 403.58 548.86 400.87 548.76 398.79C548.65 396.7 546.46 394.2 546.88 392.53C547.3 390.86 549.28 389.3 551.26 388.78C553.24 388.26 556.47 389.09 558.77 389.41C561.06 389.72 563.15 390.76 565.02 390.66C566.9 390.55 569.71 389.72 570.03 388.78C570.34 387.84 566.69 385.96 566.9 385.03C567.11 384.09 569.5 383.36 571.28 383.15C573.05 382.94 575.86 383.05 577.53 383.78C579.2 384.5 580.24 386.07 581.29 387.53C582.33 388.99 583.37 391.7 583.79 392.53" fill="none" stroke="#b0b028" stroke-width="2.0" stroke-linecap="round" stroke-linejoin="round"/>
<path d="M492.23 408.14C493.35 408.89 496.7 411.31 498.94 412.61C501.17 413.91 503.4 416.15 505.64 415.96C507.87 415.77 510.11 411.86 512.34 411.49C514.58 411.12 516.62 412.39 519.04 413.73C521.46 415.07 524.44 419.54 526.86 419.54C529.28 419.54 531.7 416.18 533.57 413.73C535.43 411.27 536.96 406.13 538.03 404.79C539.11 403.45 539.05 405.21 540 405.67C540.95 406.13 542.5 407.65 543.75 407.55C545 407.44 546.67 406.5 547.51 405.04C548.34 403.58 548.86 400.87 548.76 398.79C548.65 396.7 546.46 394.2 546.88 392.53C547.3 390.86 549.28 389.3 551.26 388.78C553.24 388.26 556.47 389.09 558.77 389.41C561.06 389.72 563.15 390.76 565.02 390.66C566.9 390.55 569.71 389.72 570.03 388.78C570.34 387.84 566.69 385.96 566.9 385.03C567.11 384.09 569.5 383.36 571.28 383.15C573.05 382.94 575.86 383.05 577.53 383.78C579.2 384.5 580.24 386.07 581.29 387.53C582.33 388.99 583.37 391.7 583.79 392.53" fill="none" stroke="#f2f266" stroke-width="1.1" stroke-linecap="round" stroke-linejoin="round"/>
<path d="M554.39 396.29C555.33 396.08 558.04 395.66 560.02 395.04C562 394.41 564.4 392.53 566.27 392.53C568.15 392.53 571.07 393.99 571.28 395.04C571.49 396.08 567.52 398.06 567.52 398.79C567.52 399.52 569.82 398.79 571.28 399.41C572.74 400.04 575.03 401.19 576.28 402.54C577.53 403.9 578.37 406.71 578.78 407.55" fill="none" stroke="#b0b028" stroke-width="2.0" stroke-linecap="round" stroke-linejoin="round"/>
<path d="M554.39 396.29C555.33 396.08 558.04 395.66 560.02 395.04C562 394.41 564.4 392.53 566.27 392.53C568.15 392.53 571.07 393.99 571.28 395.04C571.49 396.08 567.52 398.06 567.52 398.79C567.52 399.52 569.82 398.79 571.28 399.41C572.74 400.04 575.03 401.19 576.28 402.54C577.53 403.9 578.37 406.71 578.78 407.55" fill="none" stroke="#f2f266" stroke-width="1.1" stroke-linecap="round" stroke-linejoin="round"/>
<path d="M600.05 386.28C599.43 385.23 596.72 382.11 596.3 380.02C595.88 377.94 596.51 375.27 597.55 373.77C598.59 372.27 600.89 371.33 602.55 371.01C604.22 370.7 606.41 371.12 607.56 371.89C608.71 372.66 608.39 374.91 609.44 375.64C610.48 376.37 612.35 376.58 613.81 376.27C615.27 375.96 616.32 374.18 618.19 373.77C620.07 373.35 622.68 373.66 625.07 373.77C627.47 373.87 630.5 374.18 632.58 374.39C634.67 374.6 636.33 374.39 637.59 375.02C638.84 375.64 639.88 376.69 640.09 378.15C640.3 379.6 639.25 382 638.84 383.78C638.42 385.55 637.38 387.32 637.59 388.78C637.79 390.24 639.04 391.49 640.09 392.53C641.13 393.58 643.22 394.62 643.84 395.04" fill="none" stroke="#b0b028" stroke-width="2.0" stroke-linecap="round" stroke-linejoin="round"/>
<path d="M600.05 386.28C599.43 385.23 596.72 382.11 596.3 380.02C595.88 377.94 596.51 375.27 597.55 373.77C598.59 372.27 600.89 371.33 602.55 371.01C604.22 370.7 606.41 371.12 607.56 371.89C608.71 372.66 608.39 374.91 609.44 375.64C610.48 376.37 612.35 376.58 613.81 376.27C615.27 375.96 616.32 374.18 618.19 373.77C620.07 373.35 622.68 373.66 625.07 373.77C627.47 373.87 630.5 374.18 632.58 374.39C634.67 374.6 636.33 374.39 637.59 375.02C638.84 375.64 639.88 376.69 640.09 378.15C640.3 379.6 639.25 382 638.84 383.78C638.42 385.55 637.38 387.32 637.59 388.78C637.79 390.24 639.04 391.49 640.09 392.53C641.13 393.58 643.22 394.62 643.84 395.04" fill="none" stroke="#f2f266" stroke-width="1.1" stroke-linecap="round" stroke-linejoin="round"/>
<path d="M635.08 372.52C635.92 372.83 638.21 374.29 640.09 374.39C641.96 374.5 644.26 373.66 646.34 373.14C648.43 372.62 651.35 370.74 652.6 371.26C653.85 371.79 653.02 374.5 653.85 376.27C654.68 378.04 656.25 381.27 657.6 381.9C658.96 382.52 660.94 380.75 661.98 380.02C663.02 379.29 663.13 377 663.86 377.52C664.59 378.04 665.11 381.69 666.36 383.15C667.61 384.61 669.49 385.96 671.36 386.28C673.24 386.59 676.18 386.07 677.62 385.03C679.06 383.98 678.31 381.57 680 380.02C681.68 378.48 685.13 376.83 687.72 375.75C690.31 374.66 693.31 374.82 695.54 373.51C697.77 372.21 700.2 368.86 701.13 367.93" fill="none" stroke="#2aa83a" stroke-width="2.0" stroke-linecap="round" stroke-linejoin="round"/>
<path d="M635.08 372.52C635.92 372.83 638.21 374.29 640.09 374.39C641.96 374.5 644.26 373.66 646.34 373.14C648.43 372.62 651.35 370.74 652.6 371.26C653.85 371.79 653.02 374.5 653.85 376.27C654.68 378.04 656.25 381.27 657.6 381.9C658.96 382.52 660.94 380.75 661.98 380.02C663.02 379.29 663.13 377 663.86 377.52C664.59 378.04 665.11 381.69 666.36 383.15C667.61 384.61 669.49 385.96 671.36 386.28C673.24 386.59 676.18 386.07 677.62 385.03C679.06 383.98 678.31 381.57 680 380.02C681.68 378.48 685.13 376.83 687.72 375.75C690.31 374.66 693.31 374.82 695.54 373.51C697.77 372.21 700.2 368.86 701.13 367.93" fill="none" stroke="#5fe86f" stroke-width="1.1" stroke-linecap="round" stroke-linejoin="round"/>
<path d="M634.46 373.14C635.19 373.87 638.73 376.37 638.84 377.52C638.94 378.67 636.54 379.71 635.08 380.02C633.62 380.33 631.54 378.77 630.08 379.4C628.62 380.02 627.16 382 626.33 383.78C625.49 385.55 626.12 388.57 625.07 390.03C624.03 391.49 620.9 392.12 620.07 392.53" fill="none" stroke="#2aa83a" stroke-width="2.0" stroke-linecap="round" stroke-linejoin="round"/>
<path d="M634.46 373.14C635.19 373.87 638.73 376.37 638.84 377.52C638.94 378.67 636.54 379.71 635.08 380.02C633.62 380.33 631.54 378.77 630.08 379.4C628.62 380.02 627.16 382 626.33 383.78C625.49 385.55 626.12 388.57 625.07 390.03C624.03 391.49 620.9 392.12 620.07 392.53" fill="none" stroke="#5fe86f" stroke-width="1.1" stroke-linecap="round" stroke-linejoin="round"/>
<path d="M640.09 395.04C640.92 394.51 643.22 392.43 645.09 391.91C646.97 391.39 649.47 391.28 651.35 391.91C653.22 392.53 655.41 394.1 656.35 395.66C657.29 397.22 657.6 399.73 656.98 401.29C656.35 402.85 654.16 404 652.6 405.04C651.03 406.09 649.47 406.71 647.59 407.55C645.72 408.38 642.8 408.59 641.34 410.05C639.88 411.51 639.67 414.64 638.84 416.3C638 417.97 636.75 419.43 636.33 420.06" fill="none" stroke="#2aa83a" stroke-width="2.0" stroke-linecap="round" stroke-linejoin="round"/>
<path d="M640.09 395.04C640.92 394.51 643.22 392.43 645.09 391.91C646.97 391.39 649.47 391.28 651.35 391.91C653.22 392.53 655.41 394.1 656.35 395.66C657.29 397.22 657.6 399.73 656.98 401.29C656.35 402.85 654.16 404 652.6 405.04C651.03 406.09 649.47 406.71 647.59 407.55C645.72 408.38 642.8 408.59 641.34 410.05C639.88 411.51 639.67 414.64 638.84 416.3C638 417.97 636.75 419.43 636.33 420.06" fill="none" stroke="#5fe86f" stroke-width="1.1" stroke-linecap="round" stroke-linejoin="round"/>
<path d="M610.06 380.02C609.23 379.71 606.73 377.94 605.06 378.15C603.39 378.35 601.3 379.71 600.05 381.27C598.8 382.84 598.38 385.65 597.55 387.53C596.72 389.41 596.3 391.39 595.05 392.53C593.8 393.68 590.88 394.1 590.04 394.41" fill="none" stroke="#2aa83a" stroke-width="2.0" stroke-linecap="round" stroke-linejoin="round"/>
<path d="M610.06 380.02C609.23 379.71 606.73 377.94 605.06 378.15C603.39 378.35 601.3 379.71 600.05 381.27C598.8 382.84 598.38 385.65 597.55 387.53C596.72 389.41 596.3 391.39 595.05 392.53C593.8 393.68 590.88 394.1 590.04 394.41" fill="none" stroke="#5fe86f" stroke-width="1.1" stroke-linecap="round" stroke-linejoin="round"/>
<path d="M590.04 405.04C588.79 405.04 585.25 404.94 582.54 405.04C579.83 405.15 576.7 405.25 573.78 405.67C570.86 406.09 566.9 406.61 565.02 407.55C563.15 408.48 562.52 410.05 562.52 411.3C562.52 412.55 564.29 413.8 565.02 415.05C565.75 416.3 567.32 417.76 566.9 418.81C566.48 419.85 563.67 420.27 562.52 421.31C561.37 422.35 560.43 424.44 560.02 425.06" fill="none" stroke="#2aa83a" stroke-width="2.0" stroke-linecap="round" stroke-linejoin="round"/>
<path d="M590.04 405.04C588.79 405.04 585.25 404.94 582.54 405.04C579.83 405.15 576.7 405.25 573.78 405.67C570.86 406.09 566.9 406.61 565.02 407.55C563.15 408.48 562.52 410.05 562.52 411.3C562.52 412.55 564.29 413.8 565.02 415.05C565.75 416.3 567.32 417.76 566.9 418.81C566.48 419.85 563.67 420.27 562.52 421.31C561.37 422.35 560.43 424.44 560.02 425.06" fill="none" stroke="#5fe86f" stroke-width="1.1" stroke-linecap="round" stroke-linejoin="round"/>
<path d="M511.22 460.64C512.16 459.53 514.76 455.43 516.81 453.94C518.86 452.45 521.28 451.33 523.51 451.71C525.75 452.08 527.98 456.55 530.21 456.18C532.45 455.8 535.29 451.01 536.92 449.47C538.55 447.94 538.65 447.06 540 446.96C541.35 446.85 543.75 447.69 545 448.83C546.26 449.98 546.26 452.79 547.51 453.84C548.76 454.88 550.84 454.67 552.51 455.09C554.18 455.5 556.26 455.09 557.52 456.34C558.77 457.59 559.18 460.93 560.02 462.59C560.85 464.26 561.06 466.14 562.52 466.35C563.98 466.56 566.9 463.85 568.78 463.85C570.65 463.85 572.53 465.1 573.78 466.35C575.03 467.6 575.03 470.1 576.28 471.35C577.53 472.6 579.41 473.85 581.29 473.85C583.16 473.85 585.66 472.6 587.54 471.35C589.42 470.1 591.71 467.18 592.55 466.35" fill="none" stroke="#18a8a8" stroke-width="2.0" stroke-linecap="round" stroke-linejoin="round"/>
<path d="M511.22 460.64C512.16 459.53 514.76 455.43 516.81 453.94C518.86 452.45 521.28 451.33 523.51 451.71C525.75 452.08 527.98 456.55 530.21 456.18C532.45 455.8 535.29 451.01 536.92 449.47C538.55 447.94 538.65 447.06 540 446.96C541.35 446.85 543.75 447.69 545 448.83C546.26 449.98 546.26 452.79 547.51 453.84C548.76 454.88 550.84 454.67 552.51 455.09C554.18 455.5 556.26 455.09 557.52 456.34C558.77 457.59 559.18 460.93 560.02 462.59C560.85 464.26 561.06 466.14 562.52 466.35C563.98 466.56 566.9 463.85 568.78 463.85C570.65 463.85 572.53 465.1 573.78 466.35C575.03 467.6 575.03 470.1 576.28 471.35C577.53 472.6 579.41 473.85 581.29 473.85C583.16 473.85 585.66 472.6 587.54 471.35C589.42 470.1 591.71 467.18 592.55 466.35" fill="none" stroke="#55eaea" stroke-width="1.1" stroke-linecap="round" stroke-linejoin="round"/>
<path d="M560.64 467.6C561.37 467.18 563.04 465.1 565.02 465.1C567 465.1 571.28 467.18 572.53 467.6" fill="none" stroke="#18a8a8" stroke-width="2.0" stroke-linecap="round" stroke-linejoin="round"/>
<path d="M560.64 467.6C561.37 467.18 563.04 465.1 565.02 465.1C567 465.1 571.28 467.18 572.53 467.6" fill="none" stroke="#55eaea" stroke-width="1.1" stroke-linecap="round" stroke-linejoin="round"/>
<path d="M575.03 475.11C575.86 475.63 578.16 478.23 580.04 478.23C581.91 478.23 584.62 476.46 586.29 475.11C587.96 473.75 589.42 470.93 590.04 470.1" fill="none" stroke="#18a8a8" stroke-width="2.0" stroke-linecap="round" stroke-linejoin="round"/>
<path d="M575.03 475.11C575.86 475.63 578.16 478.23 580.04 478.23C581.91 478.23 584.62 476.46 586.29 475.11C587.96 473.75 589.42 470.93 590.04 470.1" fill="none" stroke="#55eaea" stroke-width="1.1" stroke-linecap="round" stroke-linejoin="round"/>
<path d="M605.06 467.6C605.47 468.64 606.31 471.98 607.56 473.85C608.81 475.73 610.48 477.82 612.56 478.86C614.65 479.9 617.98 479.69 620.07 480.11C622.16 480.53 623.2 480.94 625.07 481.36C626.95 481.78 630.29 482.4 631.33 482.61" fill="none" stroke="#18a8a8" stroke-width="2.0" stroke-linecap="round" stroke-linejoin="round"/>
<path d="M605.06 467.6C605.47 468.64 606.31 471.98 607.56 473.85C608.81 475.73 610.48 477.82 612.56 478.86C614.65 479.9 617.98 479.69 620.07 480.11C622.16 480.53 623.2 480.94 625.07 481.36C626.95 481.78 630.29 482.4 631.33 482.61" fill="none" stroke="#55eaea" stroke-width="1.1" stroke-linecap="round" stroke-linejoin="round"/>
<path d="M611.31 475.11C612.15 474.69 614.65 472.19 616.32 472.6C617.98 473.02 620.49 476.77 621.32 477.61" fill="none" stroke="#18a8a8" stroke-width="2.0" stroke-linecap="round" stroke-linejoin="round"/>
<path d="M611.31 475.11C612.15 474.69 614.65 472.19 616.32 472.6C617.98 473.02 620.49 476.77 621.32 477.61" fill="none" stroke="#55eaea" stroke-width="1.1" stroke-linecap="round" stroke-linejoin="round"/>
<path d="M640.09 425.06C640.71 424.64 643.63 421.73 643.84 422.56C644.05 423.39 640.92 428.4 641.34 430.07C641.76 431.73 644.78 432.36 646.34 432.57C647.91 432.78 650.3 430.9 650.72 431.32C651.14 431.73 649.16 434.44 648.85 435.07" fill="none" stroke="#18a8a8" stroke-width="2.0" stroke-linecap="round" stroke-linejoin="round"/>
<path d="M640.09 425.06C640.71 424.64 643.63 421.73 643.84 422.56C644.05 423.39 640.92 428.4 641.34 430.07C641.76 431.73 644.78 432.36 646.34 432.57C647.91 432.78 650.3 430.9 650.72 431.32C651.14 431.73 649.16 434.44 648.85 435.07" fill="none" stroke="#55eaea" stroke-width="1.1" stroke-linecap="round" stroke-linejoin="round"/>
<path d="M652.6 447.58C653.02 448.83 655.1 452.79 655.1 455.09C655.1 457.38 653.22 459.26 652.6 461.34C651.97 463.43 651.35 465.51 651.35 467.6C651.35 469.68 653.22 471.98 652.6 473.85C651.97 475.73 649.68 477.61 647.59 478.86C645.51 480.11 641.34 480.94 640.09 481.36" fill="none" stroke="#18a8a8" stroke-width="2.0" stroke-linecap="round" stroke-linejoin="round"/>
<path d="M652.6 447.58C653.02 448.83 655.1 452.79 655.1 455.09C655.1 457.38 653.22 459.26 652.6 461.34C651.97 463.43 651.35 465.51 651.35 467.6C651.35 469.68 653.22 471.98 652.6 473.85C651.97 475.73 649.68 477.61 647.59 478.86C645.51 480.11 641.34 480.94 640.09 481.36" fill="none" stroke="#55eaea" stroke-width="1.1" stroke-linecap="round" stroke-linejoin="round"/>
<path d="M568.78 442.58C569.19 443.62 569.82 447.58 571.28 448.83C572.74 450.08 575.45 450.08 577.53 450.08C579.62 450.08 582.75 449.04 583.79 448.83" fill="none" stroke="#b03aa0" stroke-width="2.0" stroke-linecap="round" stroke-linejoin="round"/>
<path d="M568.78 442.58C569.19 443.62 569.82 447.58 571.28 448.83C572.74 450.08 575.45 450.08 577.53 450.08C579.62 450.08 582.75 449.04 583.79 448.83" fill="none" stroke="#ee6ad8" stroke-width="1.1" stroke-linecap="round" stroke-linejoin="round"/>
<path d="M574.41 441.33C575.55 441.95 579.1 443.62 581.29 445.08C583.48 446.54 585.66 448.83 587.54 450.08C589.42 451.33 591.71 452.17 592.55 452.59" fill="none" stroke="#b03aa0" stroke-width="2.0" stroke-linecap="round" stroke-linejoin="round"/>
<path d="M574.41 441.33C575.55 441.95 579.1 443.62 581.29 445.08C583.48 446.54 585.66 448.83 587.54 450.08C589.42 451.33 591.71 452.17 592.55 452.59" fill="none" stroke="#ee6ad8" stroke-width="1.1" stroke-linecap="round" stroke-linejoin="round"/>
<path d="M602.55 465.1C603.39 465.72 605.89 468.43 607.56 468.85C609.23 469.27 611.94 468.85 612.56 467.6C613.19 466.35 611.52 462.39 611.31 461.34" fill="none" stroke="#b03aa0" stroke-width="2.0" stroke-linecap="round" stroke-linejoin="round"/>
<path d="M602.55 465.1C603.39 465.72 605.89 468.43 607.56 468.85C609.23 469.27 611.94 468.85 612.56 467.6C613.19 466.35 611.52 462.39 611.31 461.34" fill="none" stroke="#ee6ad8" stroke-width="1.1" stroke-linecap="round" stroke-linejoin="round"/>
<path d="M638.84 447.58C639.46 448.21 640.92 450.71 642.59 451.33C644.26 451.96 647.39 451.96 648.85 451.33C650.3 450.71 650.93 448.21 651.35 447.58" fill="none" stroke="#b03aa0" stroke-width="2.0" stroke-linecap="round" stroke-linejoin="round"/>
<path d="M638.84 447.58C639.46 448.21 640.92 450.71 642.59 451.33C644.26 451.96 647.39 451.96 648.85 451.33C650.3 450.71 650.93 448.21 651.35 447.58" fill="none" stroke="#ee6ad8" stroke-width="1.1" stroke-linecap="round" stroke-linejoin="round"/>
<path d="M640.09 432.57C641.13 433.61 644.47 437.36 646.34 438.82C648.22 440.28 650.51 440.91 651.35 441.33" fill="none" stroke="#b03aa0" stroke-width="2.0" stroke-linecap="round" stroke-linejoin="round"/>
<path d="M640.09 432.57C641.13 433.61 644.47 437.36 646.34 438.82C648.22 440.28 650.51 440.91 651.35 441.33" fill="none" stroke="#ee6ad8" stroke-width="1.1" stroke-linecap="round" stroke-linejoin="round"/>
<path d="M638.84 465.1C639.67 465.3 643.22 465.3 643.84 466.35C644.47 467.39 642.38 470.1 642.59 471.35C642.8 472.6 643.63 473.85 645.09 473.85C646.55 473.85 649.26 471.87 651.35 471.35C653.43 470.83 655.73 470.73 657.6 470.73C659.48 470.73 661.36 472.29 662.61 471.35C663.86 470.41 664.07 466.97 665.11 465.1C666.15 463.22 667.61 460.72 668.86 460.09C670.11 459.47 671.36 460.72 672.62 461.34C673.87 461.97 675.14 463.85 676.37 463.85C677.6 463.85 677.17 461.5 680 461.34C682.82 461.18 689.97 462.4 693.31 462.88C696.64 463.36 697.59 464.59 700.01 464.22C702.43 463.85 705.22 460.49 707.83 460.64C710.43 460.79 713.41 463.62 715.65 465.11C717.88 466.6 720.3 468.84 721.23 469.58" fill="none" stroke="#b03aa0" stroke-width="2.0" stroke-linecap="round" stroke-linejoin="round"/>
<path d="M638.84 465.1C639.67 465.3 643.22 465.3 643.84 466.35C644.47 467.39 642.38 470.1 642.59 471.35C642.8 472.6 643.63 473.85 645.09 473.85C646.55 473.85 649.26 471.87 651.35 471.35C653.43 470.83 655.73 470.73 657.6 470.73C659.48 470.73 661.36 472.29 662.61 471.35C663.86 470.41 664.07 466.97 665.11 465.1C666.15 463.22 667.61 460.72 668.86 460.09C670.11 459.47 671.36 460.72 672.62 461.34C673.87 461.97 675.14 463.85 676.37 463.85C677.6 463.85 677.17 461.5 680 461.34C682.82 461.18 689.97 462.4 693.31 462.88C696.64 463.36 697.59 464.59 700.01 464.22C702.43 463.85 705.22 460.49 707.83 460.64C710.43 460.79 713.41 463.62 715.65 465.11C717.88 466.6 720.3 468.84 721.23 469.58" fill="none" stroke="#ee6ad8" stroke-width="1.1" stroke-linecap="round" stroke-linejoin="round"/>
<ellipse cx="565.02" cy="428.81" rx="5.6" ry="6.2" fill="none" stroke="#ee6ad8" stroke-width="1.5"/>
<ellipse cx="558.77" cy="426.31" rx="2.4" ry="3.8" fill="#9a1684"/>
<ellipse cx="560.64" cy="436.32" rx="5.4" ry="4.8" fill="none" stroke="#22c52e" stroke-width="3.6"/>
<path d="M581.91 390.66 L586.92 392.53 L590.04 402.54 L581.29 408.17 L577.53 405.67 L584.41 400.66 L583.79 395.04Z" fill="#c81eac" stroke="#9a1684" stroke-width="0.5" stroke-linejoin="round"/>
<path d="M582.9 417.12 L594.41 415.12 L593.69 410.98 L582.18 412.98Z" fill="#f028d0" stroke="#9a1684" stroke-width="0.6" stroke-linejoin="round"/>
<path d="M594.34 425.69 L619.61 432.82 L621.03 427.81 L595.75 420.68Z" fill="#f028d0" stroke="#9a1684" stroke-width="0.6" stroke-linejoin="round"/>
<path d="M601.3 425.22 L601.72 423.72 L613.09 426.93 L612.67 428.43Z" fill="#ff8aee" opacity="0.45" stroke-linejoin="round"/>
<path d="M599.47 438.55 L614.73 442.55 L615.9 438.1 L600.64 434.1Z" fill="#f028d0" stroke="#9a1684" stroke-width="0.6" stroke-linejoin="round"/>
<ellipse cx="615.69" cy="385.65" rx="6.0" ry="5.8" fill="#f0f01c" stroke="#a8a810" stroke-width="0.6"/>
<ellipse cx="615.07" cy="387.78" rx="3.2" ry="2.2" fill="#a8a810"/>
<path d="M590.67 393.78 L598.8 394.16 L627.58 403.54 L638.84 408.8 L641.59 415.3 L632.83 417.8 L620.07 407.8 L592.55 398.41Z" fill="#f0f01c" stroke="#a8a810" stroke-width="0.6" stroke-linejoin="round"/>
<path d="M610.06 413.8 L620.07 412.8 L635.08 418.18 L633.83 421.31 L620.07 419.43 L611.31 417.3Z" fill="#f0f01c" stroke="#a8a810" stroke-width="0.6" stroke-linejoin="round"/>
<path d="M592.55 408.8 L598.8 410.05 L598.8 413.8 L593.17 412.8Z" fill="#f0f01c" stroke-linejoin="round"/>
<ellipse cx="645.09" cy="406.29" rx="5.0" ry="3.2" fill="#f0f01c" stroke="#a8a810" stroke-width="0.6"/>
<ellipse cx="645.72" cy="413.8" rx="4.4" ry="2.4" fill="#f2f266"/>
<path d="M595.17 402.11 L575.73 413.16 L574.94 411.77 L571.03 419.06 L579.29 419.42 L578.5 418.03 L597.93 406.98Z" fill="#1fa535" stroke="#14782a" stroke-width="0.6" stroke-linejoin="round"/>
<path d="M578.46 426.39 L613.61 415.4 L614.12 417.02 L620.32 410.05 L611.25 407.86 L611.76 409.48 L576.61 420.48Z" fill="#27d63a" stroke="#1c9a1c" stroke-width="0.6" stroke-linejoin="round"/>
<path d="M588.32 420.38 L587.77 418.61 L607.02 412.58 L607.58 414.36Z" fill="#8cf58c" opacity="0.45" stroke-linejoin="round"/>
<path d="M624.35 418.62 L575.31 434.88 L577.26 440.76 L626.3 424.5Z" fill="#27d63a" stroke="#1c9a1c" stroke-width="0.6" stroke-linejoin="round"/>
<path d="M612.97 425.33 L613.55 427.1 L591.48 434.41 L590.9 432.65Z" fill="#8cf58c" opacity="0.45" stroke-linejoin="round"/>
<path d="M599.6 446.87 L639.88 435.36 L638.29 429.78 L598 441.29Z" fill="#19eeee" stroke="#0f9c9c" stroke-width="0.6" stroke-linejoin="round"/>
<path d="M608.95 441.48 L608.47 439.81 L626.6 434.63 L627.08 436.3Z" fill="#a8ffff" opacity="0.45" stroke-linejoin="round"/>
<path d="M600.17 465.13 L628.94 450.99 L626.21 445.42 L597.43 459.56Z" fill="#19eeee" stroke="#0f9c9c" stroke-width="0.6" stroke-linejoin="round"/>
<path d="M606.13 459.09 L605.31 457.42 L618.26 451.06 L619.08 452.73Z" fill="#a8ffff" opacity="0.45" stroke-linejoin="round"/>
<path d="M650.1 443.2 L657.6 436.95 L663.86 441.33 L657.6 445.33 L652.6 447.21Z" fill="#14c4c4" stroke="#0f9c9c" stroke-width="0.6" stroke-linejoin="round"/>
<path d="M584.2 431.85 L584.55 432.6 L585.51 433.32 L586.98 434.02 L588.82 434.71 L590.86 435.38 L592.9 436.06 L594.74 436.74 L596.21 437.44 L597.16 438.17 L597.51 438.91" fill="none" stroke="#1fa82e" stroke-width="5.6" stroke-linejoin="round" stroke-linecap="round"/>
<path d="M584.77 445.3 L585.12 446.05 L586.07 446.77 L587.54 447.47 L589.38 448.16 L591.42 448.83 L593.46 449.51 L595.3 450.19 L596.77 450.89 L597.72 451.62 L598.07 452.36" fill="none" stroke="#1fa82e" stroke-width="5.6" stroke-linejoin="round" stroke-linecap="round"/>
<path d="M585.33 458.75 L585.68 459.5 L586.63 460.22 L588.1 460.92 L589.94 461.6 L591.98 462.28 L594.02 462.96 L595.86 463.64 L597.33 464.34 L598.29 465.06 L598.64 465.81" fill="none" stroke="#1fa82e" stroke-width="5.6" stroke-linejoin="round" stroke-linecap="round"/>
<path d="M596.93 425 L596.94 425.56 L596.57 426.15 L595.63 426.75 L594.23 427.37 L592.49 428.01 L590.58 428.66 L588.66 429.3 L586.92 429.94 L585.52 430.57 L584.59 431.17 L584.21 431.75 L584.22 432.32" fill="none" stroke="#1c9a1c" stroke-width="8.9" stroke-linejoin="round" stroke-linecap="round"/>
<path d="M596.93 425 L596.94 425.56 L596.57 426.15 L595.63 426.75 L594.23 427.37 L592.49 428.01 L590.58 428.66 L588.66 429.3 L586.92 429.94 L585.52 430.57 L584.59 431.17 L584.21 431.75 L584.22 432.32" fill="none" stroke="#27d63a" stroke-width="8" stroke-linejoin="round" stroke-linecap="round"/>
<path d="M595.63 426.75 L594.23 427.37 L592.49 428.01 L590.58 428.66 L588.66 429.3" fill="none" stroke="#8cf58c" stroke-width="3.2" stroke-linecap="round" opacity="0.4"/>
<path d="M597.49 438.45 L597.51 439.01 L597.13 439.59 L596.2 440.2 L594.8 440.82 L593.06 441.46 L591.14 442.11 L589.22 442.75 L587.48 443.39 L586.08 444.02 L585.15 444.62 L584.77 445.2 L584.79 445.77" fill="none" stroke="#1c9a1c" stroke-width="8.9" stroke-linejoin="round" stroke-linecap="round"/>
<path d="M597.49 438.45 L597.51 439.01 L597.13 439.59 L596.2 440.2 L594.8 440.82 L593.06 441.46 L591.14 442.11 L589.22 442.75 L587.48 443.39 L586.08 444.02 L585.15 444.62 L584.77 445.2 L584.79 445.77" fill="none" stroke="#27d63a" stroke-width="8" stroke-linejoin="round" stroke-linecap="round"/>
<path d="M596.2 440.2 L594.8 440.82 L593.06 441.46 L591.14 442.11 L589.22 442.75" fill="none" stroke="#8cf58c" stroke-width="3.2" stroke-linecap="round" opacity="0.4"/>
<path d="M598.05 451.9 L598.07 452.46 L597.69 453.04 L596.76 453.65 L595.36 454.27 L593.62 454.91 L591.7 455.56 L589.78 456.2 L588.04 456.84 L586.64 457.47 L585.71 458.07 L585.33 458.65 L585.35 459.22" fill="none" stroke="#1c9a1c" stroke-width="8.9" stroke-linejoin="round" stroke-linecap="round"/>
<path d="M598.05 451.9 L598.07 452.46 L597.69 453.04 L596.76 453.65 L595.36 454.27 L593.62 454.91 L591.7 455.56 L589.78 456.2 L588.04 456.84 L586.64 457.47 L585.71 458.07 L585.33 458.65 L585.35 459.22" fill="none" stroke="#27d63a" stroke-width="8" stroke-linejoin="round" stroke-linecap="round"/>
<path d="M596.76 453.65 L595.36 454.27 L593.62 454.91 L591.7 455.56 L589.78 456.2" fill="none" stroke="#8cf58c" stroke-width="3.2" stroke-linecap="round" opacity="0.4"/>
<path d="M598.62 465.35 L598.63 465.91 L598.25 466.49 L597.32 467.1 L595.92 467.72 L594.18 468.36 L592.26 469.01 L590.35 469.65 L588.61 470.29 L587.21 470.91 L586.27 471.52 L585.9 472.1 L585.91 472.67" fill="none" stroke="#1c9a1c" stroke-width="8.9" stroke-linejoin="round" stroke-linecap="round"/>
<path d="M598.62 465.35 L598.63 465.91 L598.25 466.49 L597.32 467.1 L595.92 467.72 L594.18 468.36 L592.26 469.01 L590.35 469.65 L588.61 470.29 L587.21 470.91 L586.27 471.52 L585.9 472.1 L585.91 472.67" fill="none" stroke="#27d63a" stroke-width="8" stroke-linejoin="round" stroke-linecap="round"/>
<path d="M597.32 467.1 L595.92 467.72 L594.18 468.36 L592.26 469.01 L590.35 469.65" fill="none" stroke="#8cf58c" stroke-width="3.2" stroke-linecap="round" opacity="0.4"/>
<path d="M625.83 434.79 L626.18 435.64 L627.14 436.46 L628.61 437.26 L630.45 438.04 L632.49 438.82 L634.53 439.6 L636.37 440.39 L637.84 441.19 L638.79 442.01 L639.14 442.85" fill="none" stroke="#14c4c4" stroke-width="5.6" stroke-linejoin="round" stroke-linecap="round"/>
<path d="M626.37 449.18 L626.71 450.02 L627.67 450.84 L629.14 451.64 L630.98 452.43 L633.02 453.21 L635.06 453.99 L636.9 454.78 L638.37 455.58 L639.32 456.4 L639.67 457.24" fill="none" stroke="#14c4c4" stroke-width="5.6" stroke-linejoin="round" stroke-linecap="round"/>
<path d="M626.9 463.57 L627.25 464.41 L628.2 465.23 L629.67 466.03 L631.51 466.82 L633.55 467.6 L635.59 468.38 L637.43 469.17 L638.9 469.97 L639.85 470.79 L640.2 471.63" fill="none" stroke="#14c4c4" stroke-width="5.6" stroke-linejoin="round" stroke-linecap="round"/>
<path d="M638.59 428 L638.6 428.57 L638.22 429.15 L637.29 429.75 L635.88 430.36 L634.14 430.99 L632.22 431.63 L630.3 432.27 L628.56 432.9 L627.15 433.51 L626.22 434.11 L625.84 434.69 L625.85 435.26" fill="none" stroke="#0f9c9c" stroke-width="8.9" stroke-linejoin="round" stroke-linecap="round"/>
<path d="M638.59 428 L638.6 428.57 L638.22 429.15 L637.29 429.75 L635.88 430.36 L634.14 430.99 L632.22 431.63 L630.3 432.27 L628.56 432.9 L627.15 433.51 L626.22 434.11 L625.84 434.69 L625.85 435.26" fill="none" stroke="#19eeee" stroke-width="8" stroke-linejoin="round" stroke-linecap="round"/>
<path d="M637.29 429.75 L635.88 430.36 L634.14 430.99 L632.22 431.63 L630.3 432.27" fill="none" stroke="#a8ffff" stroke-width="3.2" stroke-linecap="round" opacity="0.4"/>
<path d="M639.12 442.39 L639.13 442.95 L638.76 443.53 L637.82 444.13 L636.42 444.75 L634.67 445.38 L632.75 446.02 L630.83 446.65 L629.09 447.28 L627.69 447.9 L626.75 448.5 L626.37 449.08 L626.38 449.65" fill="none" stroke="#0f9c9c" stroke-width="8.9" stroke-linejoin="round" stroke-linecap="round"/>
<path d="M639.12 442.39 L639.13 442.95 L638.76 443.53 L637.82 444.13 L636.42 444.75 L634.67 445.38 L632.75 446.02 L630.83 446.65 L629.09 447.28 L627.69 447.9 L626.75 448.5 L626.37 449.08 L626.38 449.65" fill="none" stroke="#19eeee" stroke-width="8" stroke-linejoin="round" stroke-linecap="round"/>
<path d="M637.82 444.13 L636.42 444.75 L634.67 445.38 L632.75 446.02 L630.83 446.65" fill="none" stroke="#a8ffff" stroke-width="3.2" stroke-linecap="round" opacity="0.4"/>
<path d="M639.66 456.78 L639.67 457.34 L639.29 457.92 L638.35 458.52 L636.95 459.14 L635.2 459.77 L633.28 460.4 L631.36 461.04 L629.62 461.67 L628.22 462.29 L627.28 462.89 L626.9 463.47 L626.91 464.03" fill="none" stroke="#0f9c9c" stroke-width="8.9" stroke-linejoin="round" stroke-linecap="round"/>
<path d="M639.66 456.78 L639.67 457.34 L639.29 457.92 L638.35 458.52 L636.95 459.14 L635.2 459.77 L633.28 460.4 L631.36 461.04 L629.62 461.67 L628.22 462.29 L627.28 462.89 L626.9 463.47 L626.91 464.03" fill="none" stroke="#19eeee" stroke-width="8" stroke-linejoin="round" stroke-linecap="round"/>
<path d="M638.35 458.52 L636.95 459.14 L635.2 459.77 L633.28 460.4 L631.36 461.04" fill="none" stroke="#a8ffff" stroke-width="3.2" stroke-linecap="round" opacity="0.4"/>
<path d="M640.19 471.16 L640.2 471.73 L639.82 472.31 L638.88 472.91 L637.48 473.53 L635.74 474.16 L633.82 474.79 L631.9 475.43 L630.15 476.06 L628.75 476.68 L627.81 477.28 L627.43 477.86 L627.45 478.42" fill="none" stroke="#0f9c9c" stroke-width="8.9" stroke-linejoin="round" stroke-linecap="round"/>
<path d="M640.19 471.16 L640.2 471.73 L639.82 472.31 L638.88 472.91 L637.48 473.53 L635.74 474.16 L633.82 474.79 L631.9 475.43 L630.15 476.06 L628.75 476.68 L627.81 477.28 L627.43 477.86 L627.45 478.42" fill="none" stroke="#19eeee" stroke-width="8" stroke-linejoin="round" stroke-linecap="round"/>
<path d="M638.88 472.91 L637.48 473.53 L635.74 474.16 L633.82 474.79 L631.9 475.43" fill="none" stroke="#a8ffff" stroke-width="3.2" stroke-linecap="round" opacity="0.4"/>
<path d="M763.78 389.47C764.19 390.47 764.59 395.06 766.2 395.5C767.81 395.94 771.02 391.88 773.44 392.12C775.85 392.36 778.06 395.74 780.68 396.95C783.29 398.16 787.57 399.63 789.12 399.36C790.68 399.1 788.99 396.36 790 395.37C791.01 394.38 793.67 393.43 795.19 393.43C796.7 393.43 798.1 393.97 799.07 395.37C800.05 396.78 799.94 400.13 801.02 401.85C802.1 403.58 803.94 404.88 805.56 405.74C807.18 406.61 809.45 405.96 810.74 407.04C812.04 408.12 812.69 410.5 813.33 412.22C813.98 413.95 814.41 416.55 814.63 417.41" fill="none" stroke="#b03aa0" stroke-width="2.0" stroke-linecap="round" stroke-linejoin="round"/>
<path d="M763.78 389.47C764.19 390.47 764.59 395.06 766.2 395.5C767.81 395.94 771.02 391.88 773.44 392.12C775.85 392.36 778.06 395.74 780.68 396.95C783.29 398.16 787.57 399.63 789.12 399.36C790.68 399.1 788.99 396.36 790 395.37C791.01 394.38 793.67 393.43 795.19 393.43C796.7 393.43 798.1 393.97 799.07 395.37C800.05 396.78 799.94 400.13 801.02 401.85C802.1 403.58 803.94 404.88 805.56 405.74C807.18 406.61 809.45 405.96 810.74 407.04C812.04 408.12 812.69 410.5 813.33 412.22C813.98 413.95 814.41 416.55 814.63 417.41" fill="none" stroke="#ee6ad8" stroke-width="1.1" stroke-linecap="round" stroke-linejoin="round"/>
<path d="M733.62 452.21C734.63 451.2 737.44 447.59 739.65 446.18C741.86 444.77 744.48 443.52 746.89 443.76C749.31 444.01 751.72 447.63 754.13 447.63C756.54 447.63 758.96 444.81 761.37 443.76C763.78 442.72 766 441.11 768.61 441.35C771.22 441.59 774.44 444.41 777.06 445.21C779.67 446.02 782.14 447.14 784.3 446.18C786.45 445.22 788.18 441 790 439.45C791.82 437.89 793.89 436.64 795.19 436.86C796.48 437.07 797.13 441.82 797.78 440.74C798.43 439.66 798.21 432.53 799.07 430.37C799.94 428.21 801.45 427.67 802.96 427.78C804.48 427.89 806.2 430.27 808.15 431.02C810.09 431.78 812.69 432.64 814.63 432.32C816.58 431.99 818.74 430.7 819.82 429.08C820.9 427.46 821.33 424.54 821.11 422.6C820.9 420.65 818.3 418.92 818.52 417.41C818.74 415.9 820.68 414.39 822.41 413.52C824.14 412.66 826.73 412.87 828.89 412.22C831.05 411.58 833.21 409.63 835.37 409.63C837.53 409.63 839.91 411.36 841.85 412.22C843.8 413.09 845.09 415.03 847.04 414.82C848.98 414.6 851.79 412.44 853.52 410.93C855.25 409.42 856.76 406.61 857.41 405.74" fill="none" stroke="#2aa83a" stroke-width="2.0" stroke-linecap="round" stroke-linejoin="round"/>
<path d="M733.62 452.21C734.63 451.2 737.44 447.59 739.65 446.18C741.86 444.77 744.48 443.52 746.89 443.76C749.31 444.01 751.72 447.63 754.13 447.63C756.54 447.63 758.96 444.81 761.37 443.76C763.78 442.72 766 441.11 768.61 441.35C771.22 441.59 774.44 444.41 777.06 445.21C779.67 446.02 782.14 447.14 784.3 446.18C786.45 445.22 788.18 441 790 439.45C791.82 437.89 793.89 436.64 795.19 436.86C796.48 437.07 797.13 441.82 797.78 440.74C798.43 439.66 798.21 432.53 799.07 430.37C799.94 428.21 801.45 427.67 802.96 427.78C804.48 427.89 806.2 430.27 808.15 431.02C810.09 431.78 812.69 432.64 814.63 432.32C816.58 431.99 818.74 430.7 819.82 429.08C820.9 427.46 821.33 424.54 821.11 422.6C820.9 420.65 818.3 418.92 818.52 417.41C818.74 415.9 820.68 414.39 822.41 413.52C824.14 412.66 826.73 412.87 828.89 412.22C831.05 411.58 833.21 409.63 835.37 409.63C837.53 409.63 839.91 411.36 841.85 412.22C843.8 413.09 845.09 415.03 847.04 414.82C848.98 414.6 851.79 412.44 853.52 410.93C855.25 409.42 856.76 406.61 857.41 405.74" fill="none" stroke="#5fe86f" stroke-width="1.1" stroke-linecap="round" stroke-linejoin="round"/>
<path d="M896.3 404.45C897.16 404.34 899.76 403.8 901.49 403.8C903.21 403.8 904.94 404.12 906.67 404.45C908.4 404.77 910.13 405.31 911.86 405.74C913.58 406.17 915.31 407.04 917.04 407.04C918.77 407.04 921.25 406.82 922.23 405.74C923.2 404.66 922.44 400.77 922.88 400.56C923.31 400.34 923.63 404.12 924.82 404.45C926.01 404.77 929.09 402.95 930.01 402.5C930.92 402.06 929.44 402.7 930.29 401.78C931.14 400.85 932.9 396.95 935.12 396.95C937.33 396.95 940.75 400.81 943.56 401.78C946.38 402.74 948.99 402.98 952.01 402.74C955.02 402.5 958.44 399.93 961.66 400.33C964.88 400.73 968.5 403.95 971.31 405.15C974.13 406.36 976.14 408.13 978.55 407.57C980.97 407 984.58 402.74 985.79 401.78" fill="none" stroke="#b0b028" stroke-width="2.0" stroke-linecap="round" stroke-linejoin="round"/>
<path d="M896.3 404.45C897.16 404.34 899.76 403.8 901.49 403.8C903.21 403.8 904.94 404.12 906.67 404.45C908.4 404.77 910.13 405.31 911.86 405.74C913.58 406.17 915.31 407.04 917.04 407.04C918.77 407.04 921.25 406.82 922.23 405.74C923.2 404.66 922.44 400.77 922.88 400.56C923.31 400.34 923.63 404.12 924.82 404.45C926.01 404.77 929.09 402.95 930.01 402.5C930.92 402.06 929.44 402.7 930.29 401.78C931.14 400.85 932.9 396.95 935.12 396.95C937.33 396.95 940.75 400.81 943.56 401.78C946.38 402.74 948.99 402.98 952.01 402.74C955.02 402.5 958.44 399.93 961.66 400.33C964.88 400.73 968.5 403.95 971.31 405.15C974.13 406.36 976.14 408.13 978.55 407.57C980.97 407 984.58 402.74 985.79 401.78" fill="none" stroke="#f2f266" stroke-width="1.1" stroke-linecap="round" stroke-linejoin="round"/>
<path d="M893.71 445.93C894.79 446.04 898.03 445.93 900.19 446.58C902.35 447.23 904.73 449.06 906.67 449.82C908.62 450.57 910.13 450.47 911.86 451.11C913.58 451.76 915.53 452.2 917.04 453.71C918.55 455.22 919.42 458.89 920.93 460.19C922.44 461.49 924.6 461.49 926.12 461.49C927.63 461.49 929.71 460.49 930.01 460.19C930.3 459.89 927.02 460.42 927.88 459.69C928.73 458.96 932.7 455.43 935.12 455.83C937.53 456.23 939.94 460.66 942.36 462.1C944.77 463.55 947.38 464.52 949.59 464.52C951.81 464.52 954.18 461.14 955.63 462.1C957.08 463.07 957.84 468.94 958.28 470.31" fill="none" stroke="#18a8a8" stroke-width="2.0" stroke-linecap="round" stroke-linejoin="round"/>
<path d="M893.71 445.93C894.79 446.04 898.03 445.93 900.19 446.58C902.35 447.23 904.73 449.06 906.67 449.82C908.62 450.57 910.13 450.47 911.86 451.11C913.58 451.76 915.53 452.2 917.04 453.71C918.55 455.22 919.42 458.89 920.93 460.19C922.44 461.49 924.6 461.49 926.12 461.49C927.63 461.49 929.71 460.49 930.01 460.19C930.3 459.89 927.02 460.42 927.88 459.69C928.73 458.96 932.7 455.43 935.12 455.83C937.53 456.23 939.94 460.66 942.36 462.1C944.77 463.55 947.38 464.52 949.59 464.52C951.81 464.52 954.18 461.14 955.63 462.1C957.08 463.07 957.84 468.94 958.28 470.31" fill="none" stroke="#55eaea" stroke-width="1.1" stroke-linecap="round" stroke-linejoin="round"/>
<path d="M860.65 367.5C860.97 366.74 861.41 363.94 862.6 362.96C863.78 361.99 866.05 361.45 867.78 361.67C869.51 361.88 872.1 363.83 872.97 364.26" fill="none" stroke="#2aa83a" stroke-width="2.0" stroke-linecap="round" stroke-linejoin="round"/>
<path d="M860.65 367.5C860.97 366.74 861.41 363.94 862.6 362.96C863.78 361.99 866.05 361.45 867.78 361.67C869.51 361.88 872.1 363.83 872.97 364.26" fill="none" stroke="#5fe86f" stroke-width="1.1" stroke-linecap="round" stroke-linejoin="round"/>
<path d="M860.65 367.5C860.76 368.47 860.54 371.5 861.3 373.33C862.06 375.17 863.46 377.22 865.19 378.52C866.92 379.82 870.05 379.82 871.67 381.11C873.29 382.41 874.48 384.35 874.91 386.3C875.34 388.24 874.91 390.83 874.26 392.78C873.61 394.72 871.56 397.1 871.02 397.96" fill="none" stroke="#2aa83a" stroke-width="2.0" stroke-linecap="round" stroke-linejoin="round"/>
<path d="M860.65 367.5C860.76 368.47 860.54 371.5 861.3 373.33C862.06 375.17 863.46 377.22 865.19 378.52C866.92 379.82 870.05 379.82 871.67 381.11C873.29 382.41 874.48 384.35 874.91 386.3C875.34 388.24 874.91 390.83 874.26 392.78C873.61 394.72 871.56 397.1 871.02 397.96" fill="none" stroke="#5fe86f" stroke-width="1.1" stroke-linecap="round" stroke-linejoin="round"/>
<path d="M890.47 373.98C891.65 374.09 895.33 373.98 897.6 374.63C899.87 375.28 902.57 376.36 904.08 377.87C905.59 379.38 906.24 382.73 906.67 383.7" fill="none" stroke="#2aa83a" stroke-width="2.0" stroke-linecap="round" stroke-linejoin="round"/>
<path d="M890.47 373.98C891.65 374.09 895.33 373.98 897.6 374.63C899.87 375.28 902.57 376.36 904.08 377.87C905.59 379.38 906.24 382.73 906.67 383.7" fill="none" stroke="#5fe86f" stroke-width="1.1" stroke-linecap="round" stroke-linejoin="round"/>
<path d="M808.15 401.85C808.36 401.21 808.15 399.15 809.45 397.96C810.74 396.78 813.77 396.24 815.93 394.72C818.09 393.21 820.68 390.73 822.41 388.89C824.14 387.05 824.35 384.79 826.3 383.7C828.24 382.62 831.92 382.08 834.08 382.41C836.24 382.73 837.53 384.35 839.26 385.65C840.99 386.95 842.5 388.67 844.45 390.19C846.39 391.7 849.85 393.97 850.93 394.72" fill="none" stroke="#2aa83a" stroke-width="2.0" stroke-linecap="round" stroke-linejoin="round"/>
<path d="M808.15 401.85C808.36 401.21 808.15 399.15 809.45 397.96C810.74 396.78 813.77 396.24 815.93 394.72C818.09 393.21 820.68 390.73 822.41 388.89C824.14 387.05 824.35 384.79 826.3 383.7C828.24 382.62 831.92 382.08 834.08 382.41C836.24 382.73 837.53 384.35 839.26 385.65C840.99 386.95 842.5 388.67 844.45 390.19C846.39 391.7 849.85 393.97 850.93 394.72" fill="none" stroke="#5fe86f" stroke-width="1.1" stroke-linecap="round" stroke-linejoin="round"/>
<path d="M808.15 401.85C808.8 402.5 810.09 405.09 812.04 405.74C813.98 406.39 817.66 406.39 819.82 405.74C821.98 405.09 823.92 403.58 825 401.85C826.08 400.13 826.73 397.1 826.3 395.37C825.87 393.64 823.06 392.13 822.41 391.48" fill="none" stroke="#2aa83a" stroke-width="2.0" stroke-linecap="round" stroke-linejoin="round"/>
<path d="M808.15 401.85C808.8 402.5 810.09 405.09 812.04 405.74C813.98 406.39 817.66 406.39 819.82 405.74C821.98 405.09 823.92 403.58 825 401.85C826.08 400.13 826.73 397.1 826.3 395.37C825.87 393.64 823.06 392.13 822.41 391.48" fill="none" stroke="#5fe86f" stroke-width="1.1" stroke-linecap="round" stroke-linejoin="round"/>
<path d="M893.71 403.15C894.79 402.93 898.03 401.64 900.19 401.85C902.35 402.07 905.81 402.93 906.67 404.45C907.54 405.96 906.45 409.2 905.37 410.93C904.29 412.66 900.41 413.3 900.19 414.82C899.97 416.33 903 418.06 904.08 420C905.16 421.95 906.89 424.54 906.67 426.48C906.45 428.43 904.51 430.81 902.78 431.67C901.05 432.53 897.38 431.67 896.3 431.67" fill="none" stroke="#2aa83a" stroke-width="2.0" stroke-linecap="round" stroke-linejoin="round"/>
<path d="M893.71 403.15C894.79 402.93 898.03 401.64 900.19 401.85C902.35 402.07 905.81 402.93 906.67 404.45C907.54 405.96 906.45 409.2 905.37 410.93C904.29 412.66 900.41 413.3 900.19 414.82C899.97 416.33 903 418.06 904.08 420C905.16 421.95 906.89 424.54 906.67 426.48C906.45 428.43 904.51 430.81 902.78 431.67C901.05 432.53 897.38 431.67 896.3 431.67" fill="none" stroke="#5fe86f" stroke-width="1.1" stroke-linecap="round" stroke-linejoin="round"/>
<path d="M854.82 379.82C855.9 379.82 859.46 379.17 861.3 379.82C863.14 380.46 865.4 382.19 865.84 383.7C866.27 385.22 865.08 387.49 863.89 388.89C862.7 390.29 859.57 391.59 858.71 392.13" fill="none" stroke="#18a8a8" stroke-width="2.0" stroke-linecap="round" stroke-linejoin="round"/>
<path d="M854.82 379.82C855.9 379.82 859.46 379.17 861.3 379.82C863.14 380.46 865.4 382.19 865.84 383.7C866.27 385.22 865.08 387.49 863.89 388.89C862.7 390.29 859.57 391.59 858.71 392.13" fill="none" stroke="#55eaea" stroke-width="1.1" stroke-linecap="round" stroke-linejoin="round"/>
<path d="M832.78 366.85C833.43 366.2 836.02 363.61 836.67 362.96" fill="none" stroke="#18a8a8" stroke-width="2.0" stroke-linecap="round" stroke-linejoin="round"/>
<path d="M832.78 366.85C833.43 366.2 836.02 363.61 836.67 362.96" fill="none" stroke="#55eaea" stroke-width="1.1" stroke-linecap="round" stroke-linejoin="round"/>
<path d="M827.59 388.89C828.89 388.78 833 388.24 835.37 388.24C837.75 388.24 840.13 387.92 841.85 388.89C843.58 389.86 845.31 392.35 845.74 394.08C846.17 395.8 844.66 398.4 844.45 399.26" fill="none" stroke="#18a8a8" stroke-width="2.0" stroke-linecap="round" stroke-linejoin="round"/>
<path d="M827.59 388.89C828.89 388.78 833 388.24 835.37 388.24C837.75 388.24 840.13 387.92 841.85 388.89C843.58 389.86 845.31 392.35 845.74 394.08C846.17 395.8 844.66 398.4 844.45 399.26" fill="none" stroke="#55eaea" stroke-width="1.1" stroke-linecap="round" stroke-linejoin="round"/>
<path d="M813.33 399.26C813.98 399.69 815.49 401.64 817.22 401.85C818.95 402.07 821.98 400.99 823.7 400.56C825.43 400.13 826.73 398.83 827.59 399.26C828.46 399.69 828.67 402.5 828.89 403.15" fill="none" stroke="#18a8a8" stroke-width="2.0" stroke-linecap="round" stroke-linejoin="round"/>
<path d="M813.33 399.26C813.98 399.69 815.49 401.64 817.22 401.85C818.95 402.07 821.98 400.99 823.7 400.56C825.43 400.13 826.73 398.83 827.59 399.26C828.46 399.69 828.67 402.5 828.89 403.15" fill="none" stroke="#55eaea" stroke-width="1.1" stroke-linecap="round" stroke-linejoin="round"/>
<path d="M814.63 420C814.85 420.87 814.63 423.89 815.93 425.19C817.22 426.48 820.46 427.56 822.41 427.78C824.35 428 826.73 426.7 827.59 426.48" fill="none" stroke="#18a8a8" stroke-width="2.0" stroke-linecap="round" stroke-linejoin="round"/>
<path d="M814.63 420C814.85 420.87 814.63 423.89 815.93 425.19C817.22 426.48 820.46 427.56 822.41 427.78C824.35 428 826.73 426.7 827.59 426.48" fill="none" stroke="#55eaea" stroke-width="1.1" stroke-linecap="round" stroke-linejoin="round"/>
<path d="M854.82 412.22C855.25 413.09 856.11 416.11 857.41 417.41C858.71 418.71 861.3 419.14 862.6 420C863.89 420.87 864.32 421.51 865.19 422.6C866.05 423.68 866.48 425.84 867.78 426.48C869.08 427.13 871.24 426.92 872.97 426.48C874.69 426.05 876.86 423.89 878.15 423.89C879.45 423.89 880.31 426.05 880.74 426.48" fill="none" stroke="#18a8a8" stroke-width="2.0" stroke-linecap="round" stroke-linejoin="round"/>
<path d="M854.82 412.22C855.25 413.09 856.11 416.11 857.41 417.41C858.71 418.71 861.3 419.14 862.6 420C863.89 420.87 864.32 421.51 865.19 422.6C866.05 423.68 866.48 425.84 867.78 426.48C869.08 427.13 871.24 426.92 872.97 426.48C874.69 426.05 876.86 423.89 878.15 423.89C879.45 423.89 880.31 426.05 880.74 426.48" fill="none" stroke="#55eaea" stroke-width="1.1" stroke-linecap="round" stroke-linejoin="round"/>
<path d="M875.56 401.85C876.42 401.42 878.8 399.59 880.74 399.26C882.69 398.94 885.07 399.26 887.23 399.91C889.39 400.56 891.98 401.96 893.71 403.15C895.44 404.34 895.87 405.74 897.6 407.04C899.33 408.34 902.35 409.42 904.08 410.93C905.81 412.44 907.75 414.39 907.97 416.11C908.18 417.84 906.67 420.22 905.37 421.3C904.08 422.38 901.05 422.38 900.19 422.6" fill="none" stroke="#18a8a8" stroke-width="2.0" stroke-linecap="round" stroke-linejoin="round"/>
<path d="M875.56 401.85C876.42 401.42 878.8 399.59 880.74 399.26C882.69 398.94 885.07 399.26 887.23 399.91C889.39 400.56 891.98 401.96 893.71 403.15C895.44 404.34 895.87 405.74 897.6 407.04C899.33 408.34 902.35 409.42 904.08 410.93C905.81 412.44 907.75 414.39 907.97 416.11C908.18 417.84 906.67 420.22 905.37 421.3C904.08 422.38 901.05 422.38 900.19 422.6" fill="none" stroke="#55eaea" stroke-width="1.1" stroke-linecap="round" stroke-linejoin="round"/>
<path d="M891.11 432.97C891.33 433.4 892.63 434.48 892.41 435.56C892.2 436.64 890.25 438.8 889.82 439.45" fill="none" stroke="#18a8a8" stroke-width="2.0" stroke-linecap="round" stroke-linejoin="round"/>
<path d="M891.11 432.97C891.33 433.4 892.63 434.48 892.41 435.56C892.2 436.64 890.25 438.8 889.82 439.45" fill="none" stroke="#55eaea" stroke-width="1.1" stroke-linecap="round" stroke-linejoin="round"/>
<path d="M812.04 439.45C812.69 438.58 814.2 435.34 815.93 434.26C817.66 433.18 820.46 432.32 822.41 432.97C824.35 433.61 826.95 436.21 827.59 438.15C828.24 440.1 826.08 442.47 826.3 444.63C826.51 446.79 827.38 449.6 828.89 451.11C830.4 452.63 833.21 453.71 835.37 453.71C837.53 453.71 839.91 451.76 841.85 451.11C843.8 450.47 846.17 450.03 847.04 449.82" fill="none" stroke="#b03aa0" stroke-width="2.0" stroke-linecap="round" stroke-linejoin="round"/>
<path d="M812.04 439.45C812.69 438.58 814.2 435.34 815.93 434.26C817.66 433.18 820.46 432.32 822.41 432.97C824.35 433.61 826.95 436.21 827.59 438.15C828.24 440.1 826.08 442.47 826.3 444.63C826.51 446.79 827.38 449.6 828.89 451.11C830.4 452.63 833.21 453.71 835.37 453.71C837.53 453.71 839.91 451.76 841.85 451.11C843.8 450.47 846.17 450.03 847.04 449.82" fill="none" stroke="#ee6ad8" stroke-width="1.1" stroke-linecap="round" stroke-linejoin="round"/>
<path d="M813.33 440.74C814.2 442.04 816.36 446.15 818.52 448.52C820.68 450.9 823.7 453.49 826.3 455C828.89 456.52 832.35 457.81 834.08 457.6C835.8 457.38 836.24 454.36 836.67 453.71" fill="none" stroke="#b03aa0" stroke-width="2.0" stroke-linecap="round" stroke-linejoin="round"/>
<path d="M813.33 440.74C814.2 442.04 816.36 446.15 818.52 448.52C820.68 450.9 823.7 453.49 826.3 455C828.89 456.52 832.35 457.81 834.08 457.6C835.8 457.38 836.24 454.36 836.67 453.71" fill="none" stroke="#ee6ad8" stroke-width="1.1" stroke-linecap="round" stroke-linejoin="round"/>
<path d="M826.3 425.19C827.38 425.62 830.83 426.7 832.78 427.78C834.72 428.86 836.02 431.02 837.96 431.67C839.91 432.32 842.5 431.89 844.45 431.67C846.39 431.45 848.12 429.73 849.63 430.37C851.14 431.02 852.66 433.83 853.52 435.56C854.39 437.29 854.6 439.88 854.82 440.74" fill="none" stroke="#b03aa0" stroke-width="2.0" stroke-linecap="round" stroke-linejoin="round"/>
<path d="M826.3 425.19C827.38 425.62 830.83 426.7 832.78 427.78C834.72 428.86 836.02 431.02 837.96 431.67C839.91 432.32 842.5 431.89 844.45 431.67C846.39 431.45 848.12 429.73 849.63 430.37C851.14 431.02 852.66 433.83 853.52 435.56C854.39 437.29 854.6 439.88 854.82 440.74" fill="none" stroke="#ee6ad8" stroke-width="1.1" stroke-linecap="round" stroke-linejoin="round"/>
<path d="M866.48 449.82C866.92 450.9 868.86 454.14 869.08 456.3C869.29 458.46 868.86 461.27 867.78 462.78C866.7 464.29 864.32 465.16 862.6 465.37C860.87 465.59 858.71 463.43 857.41 464.08C856.11 464.73 855.25 467.54 854.82 469.26C854.39 470.99 854.17 473.04 854.82 474.45C855.47 475.85 856.98 477.04 858.71 477.69C860.43 478.34 864.11 478.23 865.19 478.34" fill="none" stroke="#b03aa0" stroke-width="2.0" stroke-linecap="round" stroke-linejoin="round"/>
<path d="M866.48 449.82C866.92 450.9 868.86 454.14 869.08 456.3C869.29 458.46 868.86 461.27 867.78 462.78C866.7 464.29 864.32 465.16 862.6 465.37C860.87 465.59 858.71 463.43 857.41 464.08C856.11 464.73 855.25 467.54 854.82 469.26C854.39 470.99 854.17 473.04 854.82 474.45C855.47 475.85 856.98 477.04 858.71 477.69C860.43 478.34 864.11 478.23 865.19 478.34" fill="none" stroke="#ee6ad8" stroke-width="1.1" stroke-linecap="round" stroke-linejoin="round"/>
<path d="M874.26 455C874.48 456.08 875.56 459.54 875.56 461.49C875.56 463.43 873.61 465.37 874.26 466.67C874.91 467.97 877.29 468.83 879.45 469.26C881.61 469.7 884.63 469.7 887.23 469.26C889.82 468.83 893.71 467.1 895 466.67" fill="none" stroke="#b03aa0" stroke-width="2.0" stroke-linecap="round" stroke-linejoin="round"/>
<path d="M874.26 455C874.48 456.08 875.56 459.54 875.56 461.49C875.56 463.43 873.61 465.37 874.26 466.67C874.91 467.97 877.29 468.83 879.45 469.26C881.61 469.7 884.63 469.7 887.23 469.26C889.82 468.83 893.71 467.1 895 466.67" fill="none" stroke="#ee6ad8" stroke-width="1.1" stroke-linecap="round" stroke-linejoin="round"/>
<path d="M891.11 426.48C892.2 426.05 895.44 423.89 897.6 423.89C899.76 423.89 902.67 425.19 904.08 426.48C905.48 427.78 906.24 429.94 906.02 431.67C905.81 433.4 904.19 435.56 902.78 436.86C901.38 438.15 899.33 438.8 897.6 439.45C895.87 440.1 893.28 440.53 892.41 440.74" fill="none" stroke="#b03aa0" stroke-width="2.0" stroke-linecap="round" stroke-linejoin="round"/>
<path d="M891.11 426.48C892.2 426.05 895.44 423.89 897.6 423.89C899.76 423.89 902.67 425.19 904.08 426.48C905.48 427.78 906.24 429.94 906.02 431.67C905.81 433.4 904.19 435.56 902.78 436.86C901.38 438.15 899.33 438.8 897.6 439.45C895.87 440.1 893.28 440.53 892.41 440.74" fill="none" stroke="#ee6ad8" stroke-width="1.1" stroke-linecap="round" stroke-linejoin="round"/>
<path d="M886.58 477.69C886.04 478.23 883.88 480.39 883.34 480.93" fill="none" stroke="#b03aa0" stroke-width="2.0" stroke-linecap="round" stroke-linejoin="round"/>
<path d="M886.58 477.69C886.04 478.23 883.88 480.39 883.34 480.93" fill="none" stroke="#ee6ad8" stroke-width="1.1" stroke-linecap="round" stroke-linejoin="round"/>
<path d="M813.33 422.6C813.77 421.73 814.63 418.71 815.93 417.41C817.22 416.11 819.82 415.14 821.11 414.82C822.41 414.49 823.27 415.36 823.7 415.47" fill="none" stroke="#b0b028" stroke-width="2.0" stroke-linecap="round" stroke-linejoin="round"/>
<path d="M813.33 422.6C813.77 421.73 814.63 418.71 815.93 417.41C817.22 416.11 819.82 415.14 821.11 414.82C822.41 414.49 823.27 415.36 823.7 415.47" fill="none" stroke="#f2f266" stroke-width="1.1" stroke-linecap="round" stroke-linejoin="round"/>
<path d="M852.22 434.26C853.09 433.61 855.68 431.45 857.41 430.37C859.14 429.29 860.43 428.75 862.6 427.78C864.76 426.81 867.78 425.19 870.37 424.54C872.97 423.89 875.99 423.35 878.15 423.89C880.31 424.43 882.47 427.13 883.34 427.78" fill="none" stroke="#b0b028" stroke-width="2.0" stroke-linecap="round" stroke-linejoin="round"/>
<path d="M852.22 434.26C853.09 433.61 855.68 431.45 857.41 430.37C859.14 429.29 860.43 428.75 862.6 427.78C864.76 426.81 867.78 425.19 870.37 424.54C872.97 423.89 875.99 423.35 878.15 423.89C880.31 424.43 882.47 427.13 883.34 427.78" fill="none" stroke="#f2f266" stroke-width="1.1" stroke-linecap="round" stroke-linejoin="round"/>
<path d="M872.97 447.23C874.26 448.09 878.15 450.9 880.74 452.41C883.34 453.92 885.93 455.87 888.52 456.3C891.11 456.73 894.36 456.08 896.3 455C898.24 453.92 899.76 451.76 900.19 449.82C900.62 447.87 899.54 445.28 898.89 443.34C898.24 441.39 896.08 439.66 896.3 438.15C896.52 436.64 898.46 435.13 900.19 434.26C901.92 433.4 904.62 432.75 906.67 432.97C908.72 433.18 911.32 434.05 912.5 435.56C913.69 437.07 914.34 440.31 913.8 442.04C913.26 443.77 910.88 445.28 909.26 445.93C907.64 446.58 904.94 445.93 904.08 445.93" fill="none" stroke="#b0b028" stroke-width="2.0" stroke-linecap="round" stroke-linejoin="round"/>
<path d="M872.97 447.23C874.26 448.09 878.15 450.9 880.74 452.41C883.34 453.92 885.93 455.87 888.52 456.3C891.11 456.73 894.36 456.08 896.3 455C898.24 453.92 899.76 451.76 900.19 449.82C900.62 447.87 899.54 445.28 898.89 443.34C898.24 441.39 896.08 439.66 896.3 438.15C896.52 436.64 898.46 435.13 900.19 434.26C901.92 433.4 904.62 432.75 906.67 432.97C908.72 433.18 911.32 434.05 912.5 435.56C913.69 437.07 914.34 440.31 913.8 442.04C913.26 443.77 910.88 445.28 909.26 445.93C907.64 446.58 904.94 445.93 904.08 445.93" fill="none" stroke="#f2f266" stroke-width="1.1" stroke-linecap="round" stroke-linejoin="round"/>
<path d="M815.93 461.49C817.01 461.92 820.03 463.65 822.41 464.08C824.79 464.51 828.03 464.73 830.19 464.08C832.35 463.43 834.62 461.92 835.37 460.19C836.13 458.46 834.29 455.44 834.72 453.71C835.16 451.98 836.56 450.68 837.96 449.82C839.37 448.95 842.29 448.74 843.15 448.52" fill="none" stroke="#b0b028" stroke-width="2.0" stroke-linecap="round" stroke-linejoin="round"/>
<path d="M815.93 461.49C817.01 461.92 820.03 463.65 822.41 464.08C824.79 464.51 828.03 464.73 830.19 464.08C832.35 463.43 834.62 461.92 835.37 460.19C836.13 458.46 834.29 455.44 834.72 453.71C835.16 451.98 836.56 450.68 837.96 449.82C839.37 448.95 842.29 448.74 843.15 448.52" fill="none" stroke="#f2f266" stroke-width="1.1" stroke-linecap="round" stroke-linejoin="round"/>
<path d="M844.45 451.11C844.66 452.2 844.66 455.65 845.74 457.6C846.82 459.54 848.98 461.27 850.93 462.78C852.87 464.29 855.9 465.16 857.41 466.67C858.92 468.18 860 470.13 860 471.86C860 473.58 858.92 476.07 857.41 477.04C855.9 478.01 852.66 477.69 850.93 477.69C849.2 477.69 847.69 477.15 847.04 477.04" fill="none" stroke="#b0b028" stroke-width="2.0" stroke-linecap="round" stroke-linejoin="round"/>
<path d="M844.45 451.11C844.66 452.2 844.66 455.65 845.74 457.6C846.82 459.54 848.98 461.27 850.93 462.78C852.87 464.29 855.9 465.16 857.41 466.67C858.92 468.18 860 470.13 860 471.86C860 473.58 858.92 476.07 857.41 477.04C855.9 478.01 852.66 477.69 850.93 477.69C849.2 477.69 847.69 477.15 847.04 477.04" fill="none" stroke="#f2f266" stroke-width="1.1" stroke-linecap="round" stroke-linejoin="round"/>
<path d="M867.78 449.82C868.86 450.47 872.1 452.41 874.26 453.71C876.42 455 878.8 456.95 880.74 457.6C882.69 458.24 885.07 457.6 885.93 457.6" fill="none" stroke="#b0b028" stroke-width="2.0" stroke-linecap="round" stroke-linejoin="round"/>
<path d="M867.78 449.82C868.86 450.47 872.1 452.41 874.26 453.71C876.42 455 878.8 456.95 880.74 457.6C882.69 458.24 885.07 457.6 885.93 457.6" fill="none" stroke="#f2f266" stroke-width="1.1" stroke-linecap="round" stroke-linejoin="round"/>
<ellipse cx="841.85" cy="369.45" rx="5.6" ry="6.4" fill="none" stroke="#138f8f" stroke-width="2.3" transform="rotate(-25 841.85 369.45)"/>
<ellipse cx="844.19" cy="370.74" rx="5.6" ry="6.4" fill="none" stroke="#1fb5b5" stroke-width="2.3" transform="rotate(-25 844.19 370.74)"/>
<ellipse cx="846.52" cy="372.3" rx="5.6" ry="6.4" fill="none" stroke="#138f8f" stroke-width="2.3" transform="rotate(-25 846.52 372.3)"/>
<ellipse cx="848.59" cy="373.98" rx="5.6" ry="6.4" fill="none" stroke="#1fb5b5" stroke-width="2.3" transform="rotate(-25 848.59 373.98)"/>
<ellipse cx="881" cy="362.32" rx="7.6" ry="4.6" fill="none" stroke="#157a22" stroke-width="2.5" transform="rotate(8 881 362.32)"/>
<ellipse cx="881.52" cy="366.85" rx="7.6" ry="4.6" fill="none" stroke="#1fa030" stroke-width="2.5" transform="rotate(8 881.52 366.85)"/>
<ellipse cx="882.04" cy="371.39" rx="7.6" ry="4.6" fill="none" stroke="#157a22" stroke-width="2.5" transform="rotate(8 882.04 371.39)"/>
<ellipse cx="882.56" cy="375.93" rx="7.6" ry="4.6" fill="none" stroke="#1fa030" stroke-width="2.5" transform="rotate(8 882.56 375.93)"/>
<ellipse cx="883.08" cy="380.46" rx="7.6" ry="4.6" fill="none" stroke="#157a22" stroke-width="2.5" transform="rotate(8 883.08 380.46)"/>
<ellipse cx="833.82" cy="474.19" rx="5.8" ry="6.6" fill="none" stroke="#8f8f10" stroke-width="2.3" transform="rotate(-25 833.82 474.19)"/>
<ellipse cx="835.89" cy="475.75" rx="5.8" ry="6.6" fill="none" stroke="#b4b41c" stroke-width="2.3" transform="rotate(-25 835.89 475.75)"/>
<ellipse cx="837.96" cy="477.43" rx="5.8" ry="6.6" fill="none" stroke="#8f8f10" stroke-width="2.3" transform="rotate(-25 837.96 477.43)"/>
<ellipse cx="840.04" cy="478.99" rx="5.8" ry="6.6" fill="none" stroke="#b4b41c" stroke-width="2.3" transform="rotate(-25 840.04 478.99)"/>
<ellipse cx="870.11" cy="479.89" rx="5.4" ry="6.8" fill="none" stroke="#7f1268" stroke-width="2.3" transform="rotate(15 870.11 479.89)"/>
<ellipse cx="872.97" cy="478.6" rx="5.4" ry="6.8" fill="none" stroke="#a81a8c" stroke-width="2.3" transform="rotate(15 872.97 478.6)"/>
<ellipse cx="875.82" cy="477.69" rx="5.4" ry="6.8" fill="none" stroke="#7f1268" stroke-width="2.3" transform="rotate(15 875.82 477.69)"/>
<ellipse cx="878.93" cy="476.39" rx="5.4" ry="6.8" fill="none" stroke="#a81a8c" stroke-width="2.3" transform="rotate(15 878.93 476.39)"/>
<path d="M811.39 385 L815.93 380.85 L822.41 381.11 L825 385.65 L823.06 391.48 L817.87 394.08 L815.28 399.91 L813.07 395.37 L810.74 390.19Z" fill="#19eeee" stroke="#0f9c9c" stroke-width="0.6" stroke-linejoin="round"/>
<path d="M901.49 386.3 L907.97 385 L914.45 390.19 L915.75 395.37 L911.86 403.8 L907.32 401.85 L908.62 394.08 L902.78 391.48Z" fill="#30e840" stroke="#1c9a1c" stroke-width="0.6" stroke-linejoin="round"/>
<path d="M809.45 441.39 L811.39 448.52 L817.22 453.71 L817.87 460.19 L813.98 464.08 L810.74 458.89 L803.61 453.71 L805.56 448.52Z" fill="#f0f01c" stroke="#a8a810" stroke-width="0.6" stroke-linejoin="round"/>
<path d="M904.08 451.11 L907.97 452.41 L909.91 460.19 L906.67 466.67 L898.89 469.91 L895 463.43 L901.49 461.49 L904.73 457.6Z" fill="#f028d0" stroke="#9a1684" stroke-width="0.6" stroke-linejoin="round"/>
<path d="M830.19 403.15 L869.08 404.45 L869.08 406.52 L830.19 406Z" fill="#129a9a" stroke-linejoin="round"/>
<path d="M858.71 405.09 L852.22 410.93 L841.85 418.71 L828.89 428.43 L825 426.48 L832.78 417.41 L844.45 408.34 L854.82 404.45Z" fill="#19eeee" stroke="#0f9c9c" stroke-width="0.6" stroke-linejoin="round"/>
<path d="M845.74 399.91 L852.22 397.32 L870.37 401.21 L892.41 408.34 L893.71 413.52 L880.74 410.93 L867.78 405.74 L850.93 401.85Z" fill="#2fe03f" stroke="#1c9a1c" stroke-width="0.6" stroke-linejoin="round"/>
<path d="M870.37 401.85 L878.15 404.45 L892.41 422.6 L896.3 429.73 L888.52 430.37 L884.63 423.89 L874.26 408.34Z" fill="#2fe03f" stroke="#1c9a1c" stroke-width="0.6" stroke-linejoin="round"/>
<path d="M823.06 414.82 L827.59 415.47 L844.45 435.56 L852.22 445.93 L848.34 446.58 L839.26 435.56 L825 418.06Z" fill="#cfcf18" stroke="#a8a810" stroke-width="0.6" stroke-linejoin="round"/>
<path d="M823.06 431.02 L832.78 431.67 L844.45 439.45 L862.6 444.63 L872.97 447.23 L865.19 449.82 L848.34 448.52 L839.26 445.93 L827.59 439.45Z" fill="#f0f01c" stroke="#a8a810" stroke-width="0.6" stroke-linejoin="round"/>
<path d="M847.04 447.23 L867.78 446.58 L867.78 449.82 L848.34 450.47Z" fill="#9a1684" stroke-linejoin="round"/>
<path d="M885.93 426.48 L890.47 429.08 L872.97 444.63 L866.48 446.58 L867.78 443.34 L879.45 432.97Z" fill="#c81eac" stroke="#9a1684" stroke-width="0.6" stroke-linejoin="round"/>
<path d="M867.78 444.63 L883.34 438.15 L892.41 439.45 L893.71 443.34 L885.93 446.58 L870.37 447.87Z" fill="#f028d0" stroke="#9a1684" stroke-width="0.6" stroke-linejoin="round"/>
<path d="M522.3 202.5L522.3 194" stroke="#548235" stroke-width="3.0"/>
<path d="M522.3 185.3L526.8 194.5L517.8 194.5Z" fill="#548235"/>
<text class="b" font-size="10.4" text-anchor="middle" x="522.7" y="182.5">Y</text>
<path d="M522.3 202.5L514.59 207.3" stroke="#c00000" stroke-width="3.0"/>
<path d="M507.2 211.9L512.63 203.22L517.39 210.86Z" fill="#c00000"/>
<text class="b" font-size="10.4" text-anchor="middle" x="502.5" y="222.5">X</text>
<path d="M522.3 202.5L530.36 207.39" stroke="#0070c0" stroke-width="3.0"/>
<path d="M537.8 211.9L527.6 210.98L532.27 203.28Z" fill="#0070c0"/>
<text class="b" font-size="10.4" text-anchor="middle" x="540.9" y="222.5">Z</text>
<path d="M932.6 198.8L932.6 190.3" stroke="#548235" stroke-width="3.0"/>
<path d="M932.6 181.6L937.1 190.8L928.1 190.8Z" fill="#548235"/>
<text class="b" font-size="10.4" text-anchor="middle" x="932.8" y="180.3">Y</text>
<path d="M932.6 198.8L925.17 203.47" stroke="#0070c0" stroke-width="1.7"/>
<path d="M917.8 208.1L923.2 199.39L927.98 207.02Z" fill="#0070c0"/>
<text class="b" font-size="10.4" text-anchor="middle" x="914.3" y="218.4">Z</text>
<path d="M932.6 198.8L940.12 203.49" stroke="#c00000" stroke-width="1.7"/>
<path d="M947.5 208.1L937.31 207.05L942.08 199.41Z" fill="#c00000"/>
<text class="b" font-size="10.4" text-anchor="middle" x="952.5" y="218.4">X</text>
<path d="M514.4 377.8L514.4 369.8" stroke="#548235" stroke-width="3.0"/>
<path d="M514.4 361.1L518.9 370.3L509.9 370.3Z" fill="#548235"/>
<text class="b" font-size="10.4" text-anchor="middle" x="514.7" y="359.4">Y</text>
<path d="M514.4 377.8L506.77 382.58" stroke="#c00000" stroke-width="3.0"/>
<path d="M499.4 387.2L504.81 378.5L509.59 386.13Z" fill="#c00000"/>
<text class="b" font-size="10.4" text-anchor="middle" x="495.9" y="398.6">X</text>
<path d="M514.4 377.8L522.29 382.65" stroke="#0070c0" stroke-width="3.0"/>
<path d="M529.7 387.2L519.51 386.22L524.22 378.55Z" fill="#0070c0"/>
<text class="b" font-size="10.4" text-anchor="middle" x="534.4" y="398.6">Z</text>
<path d="M944.9 362.2L935.73 360.33" stroke="#0070c0" stroke-width="1.9"/>
<path d="M927.2 358.6L937.11 356.02L935.32 364.84Z" fill="#0070c0"/>
<text class="b" font-size="10.4" text-anchor="middle" x="921.3" y="361.3">Z</text>
<path d="M944.9 362.2L951.27 360.56" stroke="#c00000" stroke-width="1.9"/>
<path d="M959.7 358.4L951.91 365.05L949.67 356.33Z" fill="#c00000"/>
<text class="b" font-size="10.4" text-anchor="middle" x="965.5" y="361.3">X</text>
<path d="M944.9 362.2L944.9 371.2" stroke="#548235" stroke-width="3.0"/>
<path d="M944.9 379.9L940.4 370.7L949.4 370.7Z" fill="#548235"/>
<text class="b" font-size="10.4" text-anchor="middle" x="944.1" y="392.2">Y</text>
<path d="M720.5 222.5V245.6" stroke="#000" stroke-width="2.4"/>
<path d="M710 231.2 C715.5 226.6 729.5 226.6 732.5 231.8" fill="none" stroke="#000" stroke-width="1.6"/>
<path d="M709.7 235.8 C713.5 240.8 726.5 240.8 731 236.2" fill="none" stroke="#000" stroke-width="1.6"/>
<path d="M708.5 230.6l3.4 -0.4l-1.2 2.6z" fill="#000" stroke="#000" stroke-width="1"/>
<path d="M733.1 236.2l-3.4 0.2l1.0 -2.6z" fill="#000" stroke="#000" stroke-width="1"/>
<text font-size="8.8" font-weight="600" text-anchor="middle" x="720.6" y="219.1">Y</text>
<text class="b" font-family="Liberation Serif,serif" font-size="9.4" text-anchor="middle" x="721.9" y="255.4">180°</text>
<path d="M701.2 399.1V421.7" stroke="#000" stroke-width="2.4"/>
<path d="M690.7 407.4 C696.2 402.8 710.2 402.8 713.2 408" fill="none" stroke="#000" stroke-width="1.6"/>
<path d="M690.4 412 C694.2 417 707.2 417 711.7 412.4" fill="none" stroke="#000" stroke-width="1.6"/>
<path d="M689.2 406.8l3.4 -0.4l-1.2 2.6z" fill="#000" stroke="#000" stroke-width="1"/>
<path d="M713.8 412.4l-3.4 0.2l1.0 -2.6z" fill="#000" stroke="#000" stroke-width="1"/>
<text class="b" font-size="8.4" text-anchor="middle" x="700.8" y="395.1">Y</text>
<text class="b" font-size="8.4" text-anchor="middle" x="702.3" y="432.1">180°</text>
<path d="M721 408.9H744" stroke="#000" stroke-width="2.4"/>
<path d="M730.5 398.1 C726.1 403.9 726.1 414.9 730.3 419.7" fill="none" stroke="#000" stroke-width="1.6"/>
<path d="M735.1 398.1 C739.3 402.9 739.3 413.9 734.9 420.1" fill="none" stroke="#000" stroke-width="1.6"/>
<path d="M730.7 421.1l0.4 -3.4l-2.6 1.2z" fill="#000" stroke="#000" stroke-width="1"/>
<path d="M735.3 396.7l-0.2 3.4l2.6 -1.0z" fill="#000" stroke="#000" stroke-width="1"/>
<text class="b" font-size="8.4" text-anchor="middle" x="751.4" y="412.2">X</text>
<text class="b" font-size="8.4" text-anchor="middle" x="734" y="431.4">90°</text>
</g>
<g id="panelDF">
<text class="b" x="150" y="548" font-size="28">D</text>
<text class="b" x="150" y="843" font-size="28">F</text>
<path d="M229.3 606V745.5H437.7" fill="none" stroke="#000" stroke-width="1.7" stroke-linejoin="miter"/>
<path d="M225.1 745.5H229.3M225.1 699.27H229.3M225.1 653.03H229.3M225.1 606.8H229.3M229.3 745.5V749.7M281.2 745.5V749.7M333.1 745.5V749.7M385 745.5V749.7M436.9 745.5V749.7" stroke="#000" stroke-width="1.7" fill="none"/>
<g class="b" font-size="15" text-anchor="end">
<text x="222.7" y="750.8">0.0</text>
<text x="222.7" y="704.57">0.5</text>
<text x="222.7" y="658.33">1.0</text>
<text x="222.7" y="612.1">1.5</text>
<text transform="translate(232.7,762.7) rotate(-45)">0</text>
<text transform="translate(284.6,762.7) rotate(-45)">500</text>
<text transform="translate(336.5,762.7) rotate(-45)">1000</text>
<text transform="translate(388.4,762.7) rotate(-45)">1500</text>
<text transform="translate(440.3,762.7) rotate(-45)">2000</text>
</g>
<text class="b" font-size="15" text-anchor="middle" x="333" y="583.8">hCXCL4 data</text>
<text class="b" font-size="15" text-anchor="middle" x="333.1" y="806.2">Time (s)</text>
<text class="b" font-size="15" text-anchor="middle" transform="translate(196.3,678.5) rotate(-90)">Binding to Immobilised GAG (nm)</text>
<path d="M237.81 745.5 L238.85 738.87 L239.89 732.6 L240.93 726.68 L241.97 721.09 L243.01 715.81 L244.05 710.83 L245.09 706.12 L246.13 701.67 L247.17 697.47 L248.21 693.5 L249.25 689.76 L250.29 686.22 L251.33 682.88 L252.37 679.72 L253.41 676.74 L254.45 673.92 L255.49 671.27 L256.53 668.75 L257.57 666.38 L258.61 664.14 L259.65 662.03 L260.69 660.03 L261.73 658.14 L262.77 656.36 L263.8 654.68 L264.84 653.09 L265.88 651.59 L266.92 650.17 L267.96 648.83 L269 647.56 L270.04 646.37 L271.08 645.24 L272.12 644.18 L273.16 643.17 L274.2 642.22 L275.24 641.32 L276.28 640.47 L277.32 639.67 L278.36 638.92 L279.4 638.2 L280.44 637.53 L281.48 636.89 L282.52 636.29 L283.56 635.72 L284.6 635.19 L285.64 634.68 L286.68 634.2 L287.72 633.75 L288.76 633.32 L289.8 632.92 L290.84 632.54 L291.88 632.18 L292.92 631.84 L293.96 631.52 L295 631.21 L296.04 630.93 L297.08 630.66 L298.12 630.4 L299.16 630.16 L300.2 629.93 L302.28 630.61 L304.37 631.28 L306.46 631.94 L308.55 632.59 L310.64 633.23 L312.72 633.87 L314.81 634.49 L316.9 635.11 L318.99 635.72 L321.08 636.32 L323.16 636.92 L325.25 637.5 L327.34 638.08 L329.43 638.65 L331.52 639.21 L333.61 639.76 L335.69 640.31 L337.78 640.85 L339.87 641.38 L341.96 641.91 L344.05 642.43 L346.13 642.94 L348.22 643.44 L350.31 643.94 L352.4 644.43 L354.49 644.92 L356.57 645.4 L358.66 645.87 L360.75 646.34 L362.84 646.8 L364.93 647.25 L367.01 647.7 L369.1 648.14 L371.19 648.57 L373.28 649 L375.37 649.43 L377.46 649.85 L379.54 650.26 L381.63 650.67 L383.72 651.07 L385.81 651.46 L387.9 651.86 L389.98 652.24 L392.07 652.62 L394.16 653 L396.25 653.37 L398.34 653.74 L400.42 654.1 L402.51 654.45 L404.6 654.8 L406.69 655.15 L408.78 655.49 L410.87 655.83 L412.95 656.16 L415.04 656.49 L417.13 656.82 L419.22 657.14 L421.31 657.45 L423.39 657.77 L425.48 658.07" fill="none" stroke="#f5270f" stroke-width="3.9" stroke-linejoin="round" stroke-linecap="round"/>
<path d="M237.81 745.5 L238.85 740.78 L239.89 736.29 L240.93 732.01 L241.97 727.94 L243.01 724.06 L244.05 720.36 L245.09 716.84 L246.13 713.48 L247.17 710.28 L248.21 707.24 L249.25 704.34 L250.29 701.57 L251.33 698.94 L252.37 696.43 L253.41 694.05 L254.45 691.77 L255.49 689.6 L256.53 687.54 L257.57 685.57 L258.61 683.7 L259.65 681.91 L260.69 680.21 L261.73 678.59 L262.77 677.05 L263.8 675.58 L264.84 674.18 L265.88 672.85 L266.92 671.58 L267.96 670.37 L269 669.22 L270.04 668.12 L271.08 667.07 L272.12 666.08 L273.16 665.13 L274.2 664.22 L275.24 663.36 L276.28 662.54 L277.32 661.76 L278.36 661.02 L279.4 660.31 L280.44 659.63 L281.48 658.99 L282.52 658.38 L283.56 657.79 L284.6 657.24 L285.64 656.71 L286.68 656.2 L287.72 655.72 L288.76 655.26 L289.8 654.83 L290.84 654.41 L291.88 654.02 L292.92 653.64 L293.96 653.28 L295 652.94 L296.04 652.61 L297.08 652.3 L298.12 652.01 L299.16 651.72 L300.2 651.46 L302.28 651.99 L304.37 652.52 L306.46 653.04 L308.55 653.56 L310.64 654.07 L312.72 654.57 L314.81 655.07 L316.9 655.57 L318.99 656.06 L321.08 656.54 L323.16 657.02 L325.25 657.49 L327.34 657.96 L329.43 658.42 L331.52 658.88 L333.61 659.33 L335.69 659.77 L337.78 660.22 L339.87 660.65 L341.96 661.08 L344.05 661.51 L346.13 661.93 L348.22 662.35 L350.31 662.77 L352.4 663.17 L354.49 663.58 L356.57 663.98 L358.66 664.37 L360.75 664.76 L362.84 665.15 L364.93 665.53 L367.01 665.91 L369.1 666.28 L371.19 666.65 L373.28 667.02 L375.37 667.38 L377.46 667.74 L379.54 668.09 L381.63 668.44 L383.72 668.78 L385.81 669.13 L387.9 669.46 L389.98 669.8 L392.07 670.13 L394.16 670.46 L396.25 670.78 L398.34 671.1 L400.42 671.41 L402.51 671.73 L404.6 672.04 L406.69 672.34 L408.78 672.64 L410.87 672.94 L412.95 673.24 L415.04 673.53 L417.13 673.82 L419.22 674.1 L421.31 674.39 L423.39 674.67 L425.48 674.94" fill="none" stroke="#f5270f" stroke-width="3.9" stroke-linejoin="round" stroke-linecap="round"/>
<path d="M237.81 745.5 L238.85 742.87 L239.89 740.34 L240.93 737.89 L241.97 735.53 L243.01 733.25 L244.05 731.06 L245.09 728.94 L246.13 726.9 L247.17 724.93 L248.21 723.02 L249.25 721.19 L250.29 719.42 L251.33 717.71 L252.37 716.07 L253.41 714.48 L254.45 712.95 L255.49 711.47 L256.53 710.04 L257.57 708.67 L258.61 707.34 L259.65 706.06 L260.69 704.83 L261.73 703.64 L262.77 702.49 L263.8 701.38 L264.84 700.31 L265.88 699.28 L266.92 698.28 L267.96 697.32 L269 696.4 L270.04 695.5 L271.08 694.64 L272.12 693.81 L273.16 693.01 L274.2 692.24 L275.24 691.49 L276.28 690.77 L277.32 690.08 L278.36 689.41 L279.4 688.76 L280.44 688.14 L281.48 687.54 L282.52 686.96 L283.56 686.4 L284.6 685.86 L285.64 685.34 L286.68 684.84 L287.72 684.35 L288.76 683.88 L289.8 683.43 L290.84 683 L291.88 682.58 L292.92 682.17 L293.96 681.78 L295 681.41 L296.04 681.04 L297.08 680.69 L298.12 680.36 L299.16 680.03 L300.2 679.72 L302.28 680.1 L304.37 680.48 L306.46 680.86 L308.55 681.23 L310.64 681.6 L312.72 681.97 L314.81 682.33 L316.9 682.68 L318.99 683.03 L321.08 683.38 L323.16 683.73 L325.25 684.07 L327.34 684.41 L329.43 684.74 L331.52 685.07 L333.61 685.39 L335.69 685.72 L337.78 686.04 L339.87 686.35 L341.96 686.66 L344.05 686.97 L346.13 687.28 L348.22 687.58 L350.31 687.87 L352.4 688.17 L354.49 688.46 L356.57 688.75 L358.66 689.03 L360.75 689.32 L362.84 689.59 L364.93 689.87 L367.01 690.14 L369.1 690.41 L371.19 690.68 L373.28 690.94 L375.37 691.2 L377.46 691.46 L379.54 691.72 L381.63 691.97 L383.72 692.22 L385.81 692.46 L387.9 692.71 L389.98 692.95 L392.07 693.19 L394.16 693.42 L396.25 693.66 L398.34 693.89 L400.42 694.11 L402.51 694.34 L404.6 694.56 L406.69 694.78 L408.78 695 L410.87 695.22 L412.95 695.43 L415.04 695.64 L417.13 695.85 L419.22 696.06 L421.31 696.26 L423.39 696.46 L425.48 696.66" fill="none" stroke="#f5270f" stroke-width="3.9" stroke-linejoin="round" stroke-linecap="round"/>
<path d="M237.81 745.5 L238.85 744.66 L239.89 743.83 L240.93 743.01 L241.97 742.2 L243.01 741.41 L244.05 740.63 L245.09 739.87 L246.13 739.12 L247.17 738.37 L248.21 737.64 L249.25 736.93 L250.29 736.22 L251.33 735.53 L252.37 734.84 L253.41 734.17 L254.45 733.51 L255.49 732.86 L256.53 732.21 L257.57 731.58 L258.61 730.96 L259.65 730.35 L260.69 729.75 L261.73 729.16 L262.77 728.58 L263.8 728.01 L264.84 727.44 L265.88 726.89 L266.92 726.34 L267.96 725.81 L269 725.28 L270.04 724.76 L271.08 724.25 L272.12 723.75 L273.16 723.25 L274.2 722.77 L275.24 722.29 L276.28 721.82 L277.32 721.35 L278.36 720.9 L279.4 720.45 L280.44 720.01 L281.48 719.57 L282.52 719.14 L283.56 718.72 L284.6 718.31 L285.64 717.9 L286.68 717.5 L287.72 717.11 L288.76 716.72 L289.8 716.34 L290.84 715.96 L291.88 715.59 L292.92 715.23 L293.96 714.87 L295 714.52 L296.04 714.17 L297.08 713.83 L298.12 713.5 L299.16 713.17 L300.2 712.84 L302.28 713.17 L304.37 713.5 L306.46 713.82 L308.55 714.14 L310.64 714.45 L312.72 714.76 L314.81 715.07 L316.9 715.38 L318.99 715.68 L321.08 715.98 L323.16 716.27 L325.25 716.56 L327.34 716.85 L329.43 717.14 L331.52 717.42 L333.61 717.7 L335.69 717.97 L337.78 718.24 L339.87 718.51 L341.96 718.78 L344.05 719.04 L346.13 719.3 L348.22 719.56 L350.31 719.82 L352.4 720.07 L354.49 720.32 L356.57 720.56 L358.66 720.81 L360.75 721.05 L362.84 721.29 L364.93 721.52 L367.01 721.75 L369.1 721.98 L371.19 722.21 L373.28 722.44 L375.37 722.66 L377.46 722.88 L379.54 723.1 L381.63 723.31 L383.72 723.53 L385.81 723.74 L387.9 723.95 L389.98 724.15 L392.07 724.36 L394.16 724.56 L396.25 724.76 L398.34 724.95 L400.42 725.15 L402.51 725.34 L404.6 725.53 L406.69 725.72 L408.78 725.91 L410.87 726.09 L412.95 726.27 L415.04 726.45 L417.13 726.63 L419.22 726.81 L421.31 726.98 L423.39 727.15 L425.48 727.32" fill="none" stroke="#f5270f" stroke-width="3.9" stroke-linejoin="round" stroke-linecap="round"/>
<path d="M237.81 745.5 L238.85 744.48 L239.89 743.52 L240.93 742.6 L241.97 741.72 L243.01 740.89 L244.05 740.11 L245.09 739.36 L246.13 738.65 L247.17 737.97 L248.21 737.33 L249.25 736.72 L250.29 736.14 L251.33 735.59 L252.37 735.06 L253.41 734.57 L254.45 734.09 L255.49 733.64 L256.53 733.22 L257.57 732.81 L258.61 732.43 L259.65 732.06 L260.69 731.71 L261.73 731.38 L262.77 731.07 L263.8 730.77 L264.84 730.49 L265.88 730.22 L266.92 729.96 L267.96 729.72 L269 729.49 L270.04 729.27 L271.08 729.06 L272.12 728.86 L273.16 728.67 L274.2 728.5 L275.24 728.33 L276.28 728.16 L277.32 728.01 L278.36 727.87 L279.4 727.73 L280.44 727.6 L281.48 727.47 L282.52 727.35 L283.56 727.24 L284.6 727.13 L285.64 727.03 L286.68 726.93 L287.72 726.84 L288.76 726.75 L289.8 726.67 L290.84 726.59 L291.88 726.52 L292.92 726.44 L293.96 726.38 L295 726.31 L296.04 726.25 L297.08 726.19 L298.12 726.14 L299.16 726.09 L300.2 726.04 L302.28 726.2 L304.37 726.37 L306.46 726.53 L308.55 726.69 L310.64 726.84 L312.72 727 L314.81 727.15 L316.9 727.3 L318.99 727.45 L321.08 727.6 L323.16 727.74 L325.25 727.89 L327.34 728.03 L329.43 728.17 L331.52 728.3 L333.61 728.44 L335.69 728.57 L337.78 728.71 L339.87 728.84 L341.96 728.96 L344.05 729.09 L346.13 729.22 L348.22 729.34 L350.31 729.46 L352.4 729.58 L354.49 729.7 L356.57 729.82 L358.66 729.93 L360.75 730.05 L362.84 730.16 L364.93 730.27 L367.01 730.38 L369.1 730.49 L371.19 730.59 L373.28 730.7 L375.37 730.8 L377.46 730.91 L379.54 731.01 L381.63 731.11 L383.72 731.2 L385.81 731.3 L387.9 731.4 L389.98 731.49 L392.07 731.58 L394.16 731.68 L396.25 731.77 L398.34 731.86 L400.42 731.95 L402.51 732.03 L404.6 732.12 L406.69 732.2 L408.78 732.29 L410.87 732.37 L412.95 732.45 L415.04 732.53 L417.13 732.61 L419.22 732.69 L421.31 732.77 L423.39 732.84 L425.48 732.92" fill="none" stroke="#f5270f" stroke-width="3.9" stroke-linejoin="round" stroke-linecap="round"/>
<path d="M237.81 745.5 L238.85 738.77 L239.89 732.42 L240.93 726.44 L241.97 720.8 L243.01 715.48 L244.05 710.47 L245.09 705.75 L246.13 701.29 L247.17 697.09 L248.21 693.13 L249.25 689.4 L250.29 685.87 L251.33 682.56 L252.37 679.43 L253.41 676.48 L254.45 673.7 L255.49 671.07 L256.53 668.6 L257.57 666.27 L258.61 664.08 L259.65 662 L260.69 660.05 L261.73 658.21 L262.77 656.47 L263.8 654.84 L264.84 653.3 L265.88 651.84 L266.92 650.47 L267.96 649.18 L269 647.96 L270.04 646.81 L271.08 645.73 L272.12 644.7 L273.16 643.74 L274.2 642.83 L275.24 641.98 L276.28 641.17 L277.32 640.41 L278.36 639.69 L279.4 639.02 L280.44 638.38 L281.48 637.78 L282.52 637.21 L283.56 636.68 L284.6 636.17 L285.64 635.7 L286.68 635.25 L287.72 634.83 L288.76 634.43 L289.8 634.06 L290.84 633.7 L291.88 633.37 L292.92 633.05 L293.96 632.76 L295 632.48 L296.04 632.21 L297.08 631.97 L298.12 631.73 L299.16 631.51 L300.2 631.3 L302.28 631.97 L304.37 632.62 L306.46 633.26 L308.55 633.9 L310.64 634.53 L312.72 635.14 L314.81 635.76 L316.9 636.36 L318.99 636.95 L321.08 637.54 L323.16 638.12 L325.25 638.69 L327.34 639.25 L329.43 639.81 L331.52 640.36 L333.61 640.9 L335.69 641.43 L337.78 641.96 L339.87 642.48 L341.96 642.99 L344.05 643.5 L346.13 644 L348.22 644.49 L350.31 644.98 L352.4 645.46 L354.49 645.93 L356.57 646.4 L358.66 646.86 L360.75 647.31 L362.84 647.76 L364.93 648.2 L367.01 648.64 L369.1 649.07 L371.19 649.5 L373.28 649.92 L375.37 650.33 L377.46 650.74 L379.54 651.14 L381.63 651.54 L383.72 651.93 L385.81 652.32 L387.9 652.7 L389.98 653.08 L392.07 653.45 L394.16 653.82 L396.25 654.18 L398.34 654.53 L400.42 654.89 L402.51 655.23 L404.6 655.58 L406.69 655.92 L408.78 656.25 L410.87 656.58 L412.95 656.9 L415.04 657.23 L417.13 657.54 L419.22 657.85 L421.31 658.16 L423.39 658.47 L425.48 658.77" fill="none" stroke="#000" stroke-width="1.05" stroke-linejoin="round"/>
<path d="M237.81 745.5 L238.85 740.72 L239.89 736.18 L240.93 731.86 L241.97 727.75 L243.01 723.84 L244.05 720.12 L245.09 716.59 L246.13 713.22 L247.17 710.02 L248.21 706.98 L249.25 704.09 L250.29 701.33 L251.33 698.71 L252.37 696.22 L253.41 693.85 L254.45 691.6 L255.49 689.46 L256.53 687.42 L257.57 685.48 L258.61 683.64 L259.65 681.88 L260.69 680.21 L261.73 678.63 L262.77 677.12 L263.8 675.68 L264.84 674.32 L265.88 673.02 L266.92 671.78 L267.96 670.61 L269 669.49 L270.04 668.43 L271.08 667.41 L272.12 666.45 L273.16 665.54 L274.2 664.67 L275.24 663.84 L276.28 663.05 L277.32 662.3 L278.36 661.59 L279.4 660.92 L280.44 660.27 L281.48 659.66 L282.52 659.08 L283.56 658.52 L284.6 657.99 L285.64 657.49 L286.68 657.02 L287.72 656.56 L288.76 656.13 L289.8 655.72 L290.84 655.33 L291.88 654.96 L292.92 654.6 L293.96 654.27 L295 653.95 L296.04 653.65 L297.08 653.36 L298.12 653.08 L299.16 652.82 L300.2 652.57 L302.28 653.09 L304.37 653.61 L306.46 654.12 L308.55 654.62 L310.64 655.12 L312.72 655.62 L314.81 656.1 L316.9 656.59 L318.99 657.06 L321.08 657.53 L323.16 658 L325.25 658.46 L327.34 658.92 L329.43 659.37 L331.52 659.82 L333.61 660.26 L335.69 660.69 L337.78 661.12 L339.87 661.55 L341.96 661.97 L344.05 662.39 L346.13 662.8 L348.22 663.21 L350.31 663.61 L352.4 664.01 L354.49 664.41 L356.57 664.8 L358.66 665.18 L360.75 665.56 L362.84 665.94 L364.93 666.31 L367.01 666.68 L369.1 667.05 L371.19 667.41 L373.28 667.77 L375.37 668.12 L377.46 668.47 L379.54 668.81 L381.63 669.15 L383.72 669.49 L385.81 669.82 L387.9 670.15 L389.98 670.48 L392.07 670.8 L394.16 671.12 L396.25 671.44 L398.34 671.75 L400.42 672.06 L402.51 672.36 L404.6 672.66 L406.69 672.96 L408.78 673.26 L410.87 673.55 L412.95 673.84 L415.04 674.12 L417.13 674.41 L419.22 674.68 L421.31 674.96 L423.39 675.23 L425.48 675.5" fill="none" stroke="#000" stroke-width="1.05" stroke-linejoin="round"/>
<path d="M237.81 745.5 L238.85 742.85 L239.89 740.29 L240.93 737.82 L241.97 735.45 L243.01 733.16 L244.05 730.96 L245.09 728.83 L246.13 726.79 L247.17 724.81 L248.21 722.91 L249.25 721.08 L250.29 719.32 L251.33 717.62 L252.37 715.98 L253.41 714.4 L254.45 712.88 L255.49 711.41 L256.53 710 L257.57 708.64 L258.61 707.33 L259.65 706.06 L260.69 704.85 L261.73 703.67 L262.77 702.54 L263.8 701.45 L264.84 700.4 L265.88 699.39 L266.92 698.42 L267.96 697.48 L269 696.57 L270.04 695.7 L271.08 694.86 L272.12 694.05 L273.16 693.27 L274.2 692.52 L275.24 691.79 L276.28 691.1 L277.32 690.42 L278.36 689.78 L279.4 689.15 L280.44 688.55 L281.48 687.97 L282.52 687.41 L283.56 686.87 L284.6 686.35 L285.64 685.85 L286.68 685.37 L287.72 684.91 L288.76 684.46 L289.8 684.03 L290.84 683.61 L291.88 683.21 L292.92 682.83 L293.96 682.46 L295 682.1 L296.04 681.75 L297.08 681.42 L298.12 681.1 L299.16 680.79 L300.2 680.5 L302.28 680.87 L304.37 681.24 L306.46 681.61 L308.55 681.98 L310.64 682.34 L312.72 682.69 L314.81 683.05 L316.9 683.39 L318.99 683.74 L321.08 684.08 L323.16 684.41 L325.25 684.75 L327.34 685.08 L329.43 685.4 L331.52 685.72 L333.61 686.04 L335.69 686.36 L337.78 686.67 L339.87 686.98 L341.96 687.28 L344.05 687.58 L346.13 687.88 L348.22 688.17 L350.31 688.47 L352.4 688.75 L354.49 689.04 L356.57 689.32 L358.66 689.6 L360.75 689.87 L362.84 690.15 L364.93 690.42 L367.01 690.68 L369.1 690.94 L371.19 691.21 L373.28 691.46 L375.37 691.72 L377.46 691.97 L379.54 692.22 L381.63 692.46 L383.72 692.71 L385.81 692.95 L387.9 693.19 L389.98 693.42 L392.07 693.66 L394.16 693.89 L396.25 694.11 L398.34 694.34 L400.42 694.56 L402.51 694.78 L404.6 695 L406.69 695.21 L408.78 695.43 L410.87 695.64 L412.95 695.85 L415.04 696.05 L417.13 696.26 L419.22 696.46 L421.31 696.66 L423.39 696.85 L425.48 697.05" fill="none" stroke="#000" stroke-width="1.05" stroke-linejoin="round"/>
<path d="M237.81 745.5 L238.85 744.66 L239.89 743.83 L240.93 743.01 L241.97 742.21 L243.01 741.42 L244.05 740.64 L245.09 739.87 L246.13 739.12 L247.17 738.38 L248.21 737.66 L249.25 736.94 L250.29 736.24 L251.33 735.55 L252.37 734.87 L253.41 734.2 L254.45 733.54 L255.49 732.9 L256.53 732.26 L257.57 731.64 L258.61 731.02 L259.65 730.42 L260.69 729.82 L261.73 729.24 L262.77 728.66 L263.8 728.1 L264.84 727.54 L265.88 726.99 L266.92 726.46 L267.96 725.93 L269 725.41 L270.04 724.89 L271.08 724.39 L272.12 723.9 L273.16 723.41 L274.2 722.93 L275.24 722.46 L276.28 722 L277.32 721.54 L278.36 721.09 L279.4 720.65 L280.44 720.22 L281.48 719.8 L282.52 719.38 L283.56 718.96 L284.6 718.56 L285.64 718.16 L286.68 717.77 L287.72 717.38 L288.76 717.01 L289.8 716.63 L290.84 716.27 L291.88 715.91 L292.92 715.55 L293.96 715.2 L295 714.86 L296.04 714.52 L297.08 714.19 L298.12 713.87 L299.16 713.54 L300.2 713.23 L302.28 713.55 L304.37 713.87 L306.46 714.19 L308.55 714.5 L310.64 714.81 L312.72 715.12 L314.81 715.42 L316.9 715.72 L318.99 716.02 L321.08 716.31 L323.16 716.6 L325.25 716.89 L327.34 717.17 L329.43 717.45 L331.52 717.73 L333.61 718 L335.69 718.27 L337.78 718.54 L339.87 718.81 L341.96 719.07 L344.05 719.33 L346.13 719.58 L348.22 719.84 L350.31 720.09 L352.4 720.33 L354.49 720.58 L356.57 720.82 L358.66 721.06 L360.75 721.3 L362.84 721.53 L364.93 721.76 L367.01 721.99 L369.1 722.22 L371.19 722.44 L373.28 722.66 L375.37 722.88 L377.46 723.1 L379.54 723.31 L381.63 723.53 L383.72 723.74 L385.81 723.94 L387.9 724.15 L389.98 724.35 L392.07 724.55 L394.16 724.75 L396.25 724.94 L398.34 725.14 L400.42 725.33 L402.51 725.52 L404.6 725.71 L406.69 725.89 L408.78 726.07 L410.87 726.26 L412.95 726.44 L415.04 726.61 L417.13 726.79 L419.22 726.96 L421.31 727.13 L423.39 727.3 L425.48 727.47" fill="none" stroke="#000" stroke-width="1.05" stroke-linejoin="round"/>
<path d="M237.81 745.5 L238.85 744.47 L239.89 743.49 L240.93 742.56 L241.97 741.68 L243.01 740.85 L244.05 740.05 L245.09 739.3 L246.13 738.59 L247.17 737.91 L248.21 737.27 L249.25 736.66 L250.29 736.09 L251.33 735.54 L252.37 735.02 L253.41 734.52 L254.45 734.06 L255.49 733.61 L256.53 733.19 L257.57 732.79 L258.61 732.41 L259.65 732.06 L260.69 731.71 L261.73 731.39 L262.77 731.08 L263.8 730.79 L264.84 730.52 L265.88 730.26 L266.92 730.01 L267.96 729.77 L269 729.55 L270.04 729.34 L271.08 729.13 L272.12 728.94 L273.16 728.76 L274.2 728.59 L275.24 728.43 L276.28 728.27 L277.32 728.13 L278.36 727.99 L279.4 727.86 L280.44 727.73 L281.48 727.61 L282.52 727.5 L283.56 727.39 L284.6 727.29 L285.64 727.19 L286.68 727.1 L287.72 727.02 L288.76 726.93 L289.8 726.86 L290.84 726.78 L291.88 726.71 L292.92 726.65 L293.96 726.58 L295 726.52 L296.04 726.47 L297.08 726.41 L298.12 726.36 L299.16 726.31 L300.2 726.27 L302.28 726.43 L304.37 726.59 L306.46 726.75 L308.55 726.9 L310.64 727.06 L312.72 727.21 L314.81 727.36 L316.9 727.51 L318.99 727.66 L321.08 727.8 L323.16 727.94 L325.25 728.08 L327.34 728.22 L329.43 728.36 L331.52 728.49 L333.61 728.63 L335.69 728.76 L337.78 728.89 L339.87 729.01 L341.96 729.14 L344.05 729.26 L346.13 729.39 L348.22 729.51 L350.31 729.63 L352.4 729.75 L354.49 729.86 L356.57 729.98 L358.66 730.09 L360.75 730.2 L362.84 730.31 L364.93 730.42 L367.01 730.53 L369.1 730.63 L371.19 730.74 L373.28 730.84 L375.37 730.94 L377.46 731.04 L379.54 731.14 L381.63 731.24 L383.72 731.34 L385.81 731.43 L387.9 731.53 L389.98 731.62 L392.07 731.71 L394.16 731.8 L396.25 731.89 L398.34 731.98 L400.42 732.06 L402.51 732.15 L404.6 732.23 L406.69 732.32 L408.78 732.4 L410.87 732.48 L412.95 732.56 L415.04 732.64 L417.13 732.72 L419.22 732.79 L421.31 732.87 L423.39 732.94 L425.48 733.02" fill="none" stroke="#000" stroke-width="1.05" stroke-linejoin="round"/>
<path d="M514.6 606V745.5H723.4" fill="none" stroke="#000" stroke-width="1.7" stroke-linejoin="miter"/>
<path d="M510.4 745.5H514.6M510.4 699.27H514.6M510.4 653.03H514.6M510.4 606.8H514.6M514.6 745.5V749.7M566.6 745.5V749.7M618.6 745.5V749.7M670.6 745.5V749.7M722.6 745.5V749.7" stroke="#000" stroke-width="1.7" fill="none"/>
<g class="b" font-size="15" text-anchor="end">
<text x="508" y="750.8">0.0</text>
<text x="508" y="704.57">0.5</text>
<text x="508" y="658.33">1.0</text>
<text x="508" y="612.1">1.5</text>
<text transform="translate(518,762.7) rotate(-45)">0</text>
<text transform="translate(570,762.7) rotate(-45)">500</text>
<text transform="translate(622,762.7) rotate(-45)">1000</text>
<text transform="translate(674,762.7) rotate(-45)">1500</text>
<text transform="translate(726,762.7) rotate(-45)">2000</text>
</g>
<text class="b" font-size="15" text-anchor="middle" x="618.6" y="584.2">mCXCL4</text>
<text class="b" font-size="15" text-anchor="middle" x="618.6" y="806.2">Time (s)</text>
<text class="b" font-size="15" text-anchor="middle" transform="translate(481.5,678.5) rotate(-90)">Binding to Immobilised GAG (nm)</text>
<path d="M523.13 745.5 L523.65 740.31 L524.17 735.41 L524.69 730.77 L525.21 726.38 L525.73 722.23 L526.25 718.31 L526.77 714.6 L527.29 711.1 L527.82 707.78 L528.34 704.64 L528.86 701.67 L529.38 698.86 L529.9 696.2 L530.42 693.69 L530.94 691.31 L531.46 689.06 L531.98 686.93 L532.5 684.91 L533.02 683 L533.55 681.19 L534.07 679.48 L534.59 677.86 L535.11 676.32 L535.63 674.87 L536.15 673.49 L536.67 672.18 L537.19 670.95 L537.71 669.77 L538.23 668.66 L538.75 667.61 L539.27 666.6 L539.8 665.65 L540.32 664.75 L540.84 663.9 L541.36 663.09 L541.88 662.32 L542.4 661.58 L542.92 660.89 L543.44 660.23 L543.96 659.6 L544.48 659 L545 658.43 L545.53 657.89 L546.05 657.37 L546.57 656.88 L547.09 656.41 L547.61 655.96 L548.13 655.54 L548.65 655.13 L549.17 654.75 L549.69 654.37 L550.21 654.02 L550.73 653.68 L551.25 653.36 L551.78 653.05 L552.3 652.75 L552.82 652.47 L553.34 652.19 L553.86 651.93 L554.38 651.68 L554.9 651.44 L555.42 651.21 L555.94 650.98 L556.46 650.77 L556.98 650.56 L557.51 650.36 L558.03 650.17 L558.55 649.98 L559.07 649.8 L559.59 649.63 L560.11 649.46 L560.63 649.3 L561.15 649.14 L561.67 648.99 L562.19 648.84 L562.71 648.69 L563.23 648.55 L563.76 648.42 L564.28 648.28 L564.8 648.15 L565.32 648.02 L565.84 647.9 L566.36 647.78 L566.88 647.66 L567.4 647.54 L567.92 647.43 L568.44 647.32 L568.96 647.21 L569.49 647.1 L570.01 647 L570.53 646.89 L571.05 646.79 L571.57 646.69 L572.09 646.59 L572.61 646.49 L573.13 646.4 L573.65 646.3 L574.17 646.21 L574.69 646.12 L575.21 646.03 L575.74 645.93 L576.26 645.85 L576.78 645.76 L577.3 645.67 L577.82 645.58 L578.34 645.5 L578.86 645.41 L579.38 645.33 L579.9 645.24 L580.42 645.16 L580.94 645.07 L581.47 644.99 L581.99 644.91 L582.51 644.83 L583.03 644.75 L583.55 644.67 L584.07 644.59 L584.59 644.51 L585.11 644.43 L585.63 644.35 L586.68 644.93 L587.72 645.52 L588.77 646.1 L589.82 646.67 L590.86 647.23 L591.91 647.79 L592.95 648.34 L594 648.88 L595.05 649.42 L596.09 649.96 L597.14 650.48 L598.18 651 L599.23 651.51 L600.28 652.02 L601.32 652.52 L602.37 653.02 L603.42 653.51 L604.46 653.99 L605.51 654.47 L606.55 654.94 L607.6 655.41 L608.65 655.87 L609.69 656.33 L610.74 656.78 L611.78 657.22 L612.83 657.66 L613.88 658.1 L614.92 658.53 L615.97 658.95 L617.01 659.37 L618.06 659.79 L619.11 660.2 L620.15 660.6 L621.2 661 L622.24 661.4 L623.29 661.79 L624.34 662.18 L625.38 662.56 L626.43 662.94 L627.47 663.31 L628.52 663.68 L629.57 664.04 L630.61 664.4 L631.66 664.76 L632.71 665.11 L633.75 665.46 L634.8 665.8 L635.84 666.14 L636.89 666.47 L637.94 666.81 L638.98 667.13 L640.03 667.46 L641.07 667.78 L642.12 668.09 L643.17 668.41 L644.21 668.71 L645.26 669.02 L646.3 669.32 L647.35 669.62 L648.4 669.91 L649.44 670.2 L650.49 670.49 L651.53 670.78 L652.58 671.06 L653.63 671.33 L654.67 671.61 L655.72 671.88 L656.76 672.15 L657.81 672.41 L658.86 672.67 L659.9 672.93 L660.95 673.19 L661.99 673.44 L663.04 673.69 L664.09 673.93 L665.13 674.18 L666.18 674.42 L667.23 674.66 L668.27 674.89 L669.32 675.12 L670.36 675.35 L671.41 675.58 L672.46 675.81 L673.5 676.03 L674.55 676.25 L675.59 676.46 L676.64 676.68 L677.69 676.89 L678.73 677.1 L679.78 677.3 L680.82 677.51 L681.87 677.71 L682.92 677.91 L683.96 678.1 L685.01 678.3 L686.05 678.49 L687.1 678.68 L688.15 678.87 L689.19 679.05 L690.24 679.24 L691.28 679.42 L692.33 679.6 L693.38 679.78 L694.42 679.95 L695.47 680.12 L696.52 680.29 L697.56 680.46 L698.61 680.63 L699.65 680.79 L700.7 680.96 L701.75 681.12 L702.79 681.28 L703.84 681.43 L704.88 681.59 L705.93 681.74 L706.98 681.9 L708.02 682.05 L709.07 682.19 L710.11 682.34 L711.16 682.48" fill="none" stroke="#f5270f" stroke-width="3.9" stroke-linejoin="round" stroke-linecap="round"/>
<path d="M523.13 745.5 L524.17 740.96 L525.21 736.66 L526.25 732.58 L527.29 728.7 L528.34 725.03 L529.38 721.54 L530.42 718.24 L531.46 715.1 L532.5 712.13 L533.55 709.3 L534.59 706.62 L535.63 704.08 L536.67 701.67 L537.71 699.39 L538.75 697.22 L539.8 695.16 L540.84 693.21 L541.88 691.36 L542.92 689.6 L543.96 687.94 L545 686.36 L546.05 684.86 L547.09 683.43 L548.13 682.08 L549.17 680.8 L550.21 679.59 L551.25 678.44 L552.3 677.34 L553.34 676.31 L554.38 675.32 L555.42 674.39 L556.46 673.51 L557.51 672.67 L558.55 671.87 L559.59 671.11 L560.63 670.4 L561.67 669.72 L562.71 669.07 L563.76 668.46 L564.8 667.88 L565.84 667.33 L566.88 666.81 L567.92 666.31 L568.96 665.84 L570.01 665.4 L571.05 664.97 L572.09 664.57 L573.13 664.19 L574.17 663.83 L575.21 663.49 L576.26 663.16 L577.3 662.85 L578.34 662.56 L579.38 662.28 L580.42 662.02 L581.47 661.77 L582.51 661.53 L583.55 661.31 L584.59 661.1 L585.63 660.89 L587.72 661.47 L589.82 662.04 L591.91 662.61 L594 663.16 L596.09 663.71 L598.18 664.26 L600.28 664.79 L602.37 665.32 L604.46 665.84 L606.55 666.35 L608.65 666.86 L610.74 667.36 L612.83 667.85 L614.92 668.34 L617.01 668.82 L619.11 669.29 L621.2 669.76 L623.29 670.22 L625.38 670.68 L627.47 671.13 L629.57 671.57 L631.66 672.01 L633.75 672.44 L635.84 672.86 L637.94 673.28 L640.03 673.7 L642.12 674.11 L644.21 674.51 L646.3 674.91 L648.4 675.3 L650.49 675.69 L652.58 676.07 L654.67 676.45 L656.76 676.82 L658.86 677.19 L660.95 677.55 L663.04 677.91 L665.13 678.26 L667.23 678.61 L669.32 678.95 L671.41 679.29 L673.5 679.62 L675.59 679.95 L677.69 680.28 L679.78 680.6 L681.87 680.92 L683.96 681.23 L686.05 681.54 L688.15 681.84 L690.24 682.14 L692.33 682.44 L694.42 682.73 L696.52 683.02 L698.61 683.3 L700.7 683.59 L702.79 683.86 L704.88 684.14 L706.98 684.41 L709.07 684.67 L711.16 684.93" fill="none" stroke="#f5270f" stroke-width="3.9" stroke-linejoin="round" stroke-linecap="round"/>
<path d="M523.13 745.5 L524.17 743.52 L525.21 741.6 L526.25 739.74 L527.29 737.93 L528.34 736.18 L529.38 734.48 L530.42 732.83 L531.46 731.23 L532.5 729.68 L533.55 728.17 L534.59 726.71 L535.63 725.29 L536.67 723.92 L537.71 722.58 L538.75 721.29 L539.8 720.04 L540.84 718.82 L541.88 717.64 L542.92 716.49 L543.96 715.38 L545 714.3 L546.05 713.25 L547.09 712.24 L548.13 711.26 L549.17 710.3 L550.21 709.37 L551.25 708.47 L552.3 707.6 L553.34 706.76 L554.38 705.94 L555.42 705.14 L556.46 704.37 L557.51 703.62 L558.55 702.89 L559.59 702.19 L560.63 701.5 L561.67 700.84 L562.71 700.2 L563.76 699.57 L564.8 698.96 L565.84 698.38 L566.88 697.81 L567.92 697.25 L568.96 696.72 L570.01 696.2 L571.05 695.69 L572.09 695.2 L573.13 694.73 L574.17 694.27 L575.21 693.82 L576.26 693.38 L577.3 692.96 L578.34 692.56 L579.38 692.16 L580.42 691.78 L581.47 691.4 L582.51 691.04 L583.55 690.69 L584.59 690.35 L585.63 690.02 L587.72 690.36 L589.82 690.7 L591.91 691.03 L594 691.36 L596.09 691.69 L598.18 692.01 L600.28 692.33 L602.37 692.64 L604.46 692.95 L606.55 693.26 L608.65 693.57 L610.74 693.87 L612.83 694.17 L614.92 694.46 L617.01 694.75 L619.11 695.04 L621.2 695.33 L623.29 695.61 L625.38 695.89 L627.47 696.16 L629.57 696.43 L631.66 696.7 L633.75 696.97 L635.84 697.23 L637.94 697.49 L640.03 697.75 L642.12 698.01 L644.21 698.26 L646.3 698.51 L648.4 698.75 L650.49 699 L652.58 699.24 L654.67 699.48 L656.76 699.71 L658.86 699.95 L660.95 700.18 L663.04 700.4 L665.13 700.63 L667.23 700.85 L669.32 701.07 L671.41 701.29 L673.5 701.51 L675.59 701.72 L677.69 701.93 L679.78 702.14 L681.87 702.34 L683.96 702.55 L686.05 702.75 L688.15 702.95 L690.24 703.15 L692.33 703.34 L694.42 703.53 L696.52 703.72 L698.61 703.91 L700.7 704.1 L702.79 704.28 L704.88 704.46 L706.98 704.65 L709.07 704.82 L711.16 705" fill="none" stroke="#f5270f" stroke-width="3.9" stroke-linejoin="round" stroke-linecap="round"/>
<path d="M523.13 745.5 L524.17 744.85 L525.21 744.21 L526.25 743.59 L527.29 742.96 L528.34 742.35 L529.38 741.75 L530.42 741.16 L531.46 740.57 L532.5 739.99 L533.55 739.42 L534.59 738.86 L535.63 738.31 L536.67 737.76 L537.71 737.23 L538.75 736.7 L539.8 736.17 L540.84 735.66 L541.88 735.15 L542.92 734.65 L543.96 734.16 L545 733.67 L546.05 733.19 L547.09 732.72 L548.13 732.25 L549.17 731.79 L550.21 731.34 L551.25 730.9 L552.3 730.46 L553.34 730.02 L554.38 729.59 L555.42 729.17 L556.46 728.76 L557.51 728.35 L558.55 727.94 L559.59 727.55 L560.63 727.15 L561.67 726.77 L562.71 726.38 L563.76 726.01 L564.8 725.64 L565.84 725.27 L566.88 724.91 L567.92 724.56 L568.96 724.21 L570.01 723.86 L571.05 723.52 L572.09 723.19 L573.13 722.86 L574.17 722.53 L575.21 722.21 L576.26 721.89 L577.3 721.58 L578.34 721.27 L579.38 720.97 L580.42 720.67 L581.47 720.38 L582.51 720.09 L583.55 719.8 L584.59 719.52 L585.63 719.24 L587.72 719.46 L589.82 719.67 L591.91 719.89 L594 720.1 L596.09 720.31 L598.18 720.52 L600.28 720.72 L602.37 720.92 L604.46 721.12 L606.55 721.32 L608.65 721.52 L610.74 721.71 L612.83 721.9 L614.92 722.09 L617.01 722.28 L619.11 722.46 L621.2 722.65 L623.29 722.83 L625.38 723.01 L627.47 723.18 L629.57 723.36 L631.66 723.53 L633.75 723.7 L635.84 723.87 L637.94 724.04 L640.03 724.2 L642.12 724.37 L644.21 724.53 L646.3 724.69 L648.4 724.85 L650.49 725 L652.58 725.16 L654.67 725.31 L656.76 725.46 L658.86 725.61 L660.95 725.76 L663.04 725.91 L665.13 726.05 L667.23 726.19 L669.32 726.33 L671.41 726.47 L673.5 726.61 L675.59 726.75 L677.69 726.89 L679.78 727.02 L681.87 727.15 L683.96 727.28 L686.05 727.41 L688.15 727.54 L690.24 727.67 L692.33 727.79 L694.42 727.91 L696.52 728.04 L698.61 728.16 L700.7 728.28 L702.79 728.4 L704.88 728.51 L706.98 728.63 L709.07 728.74 L711.16 728.86" fill="none" stroke="#f5270f" stroke-width="3.9" stroke-linejoin="round" stroke-linecap="round"/>
<path d="M523.13 745.5 L524.17 745.29 L525.21 745.09 L526.25 744.89 L527.29 744.7 L528.34 744.5 L529.38 744.31 L530.42 744.12 L531.46 743.94 L532.5 743.75 L533.55 743.57 L534.59 743.4 L535.63 743.22 L536.67 743.05 L537.71 742.88 L538.75 742.71 L539.8 742.54 L540.84 742.38 L541.88 742.22 L542.92 742.06 L543.96 741.91 L545 741.75 L546.05 741.6 L547.09 741.45 L548.13 741.3 L549.17 741.16 L550.21 741.01 L551.25 740.87 L552.3 740.73 L553.34 740.59 L554.38 740.46 L555.42 740.33 L556.46 740.19 L557.51 740.06 L558.55 739.94 L559.59 739.81 L560.63 739.69 L561.67 739.56 L562.71 739.44 L563.76 739.32 L564.8 739.21 L565.84 739.09 L566.88 738.98 L567.92 738.86 L568.96 738.75 L570.01 738.64 L571.05 738.54 L572.09 738.43 L573.13 738.32 L574.17 738.22 L575.21 738.12 L576.26 738.02 L577.3 737.92 L578.34 737.82 L579.38 737.73 L580.42 737.63 L581.47 737.54 L582.51 737.45 L583.55 737.36 L584.59 737.27 L585.63 737.18 L587.72 737.31 L589.82 737.44 L591.91 737.57 L594 737.7 L596.09 737.83 L598.18 737.95 L600.28 738.08 L602.37 738.2 L604.46 738.32 L606.55 738.44 L608.65 738.55 L610.74 738.67 L612.83 738.78 L614.92 738.9 L617.01 739.01 L619.11 739.12 L621.2 739.22 L623.29 739.33 L625.38 739.44 L627.47 739.54 L629.57 739.64 L631.66 739.74 L633.75 739.84 L635.84 739.94 L637.94 740.04 L640.03 740.13 L642.12 740.23 L644.21 740.32 L646.3 740.41 L648.4 740.5 L650.49 740.59 L652.58 740.68 L654.67 740.77 L656.76 740.85 L658.86 740.94 L660.95 741.02 L663.04 741.1 L665.13 741.19 L667.23 741.27 L669.32 741.35 L671.41 741.42 L673.5 741.5 L675.59 741.58 L677.69 741.65 L679.78 741.73 L681.87 741.8 L683.96 741.87 L686.05 741.94 L688.15 742.01 L690.24 742.08 L692.33 742.15 L694.42 742.22 L696.52 742.28 L698.61 742.35 L700.7 742.41 L702.79 742.48 L704.88 742.54 L706.98 742.6 L709.07 742.67 L711.16 742.73" fill="none" stroke="#f5270f" stroke-width="3.9" stroke-linejoin="round" stroke-linecap="round"/>
<path d="M523.13 745.5 L524.17 734.9 L525.21 725.49 L526.25 717.11 L527.29 709.67 L528.34 703.06 L529.38 697.18 L530.42 691.96 L531.46 687.31 L532.5 683.18 L533.55 679.51 L534.59 676.25 L535.63 673.35 L536.67 670.78 L537.71 668.49 L538.75 666.45 L539.8 664.64 L540.84 663.04 L541.88 661.61 L542.92 660.34 L543.96 659.21 L545 658.2 L546.05 657.31 L547.09 656.52 L548.13 655.81 L549.17 655.19 L550.21 654.63 L551.25 654.14 L552.3 653.7 L553.34 653.3 L554.38 652.96 L555.42 652.65 L556.46 652.37 L557.51 652.13 L558.55 651.91 L559.59 651.72 L560.63 651.55 L561.67 651.4 L562.71 651.26 L563.76 651.14 L564.8 651.03 L565.84 650.94 L566.88 650.85 L567.92 650.78 L568.96 650.71 L570.01 650.65 L571.05 650.6 L572.09 650.55 L573.13 650.51 L574.17 650.47 L575.21 650.44 L576.26 650.41 L577.3 650.39 L578.34 650.36 L579.38 650.34 L580.42 650.32 L581.47 650.31 L582.51 650.29 L583.55 650.28 L584.59 650.27 L585.63 650.26 L587.72 650.92 L589.82 651.57 L591.91 652.22 L594 652.86 L596.09 653.5 L598.18 654.13 L600.28 654.76 L602.37 655.38 L604.46 655.99 L606.55 656.61 L608.65 657.21 L610.74 657.82 L612.83 658.41 L614.92 659.01 L617.01 659.59 L619.11 660.18 L621.2 660.76 L623.29 661.33 L625.38 661.9 L627.47 662.46 L629.57 663.02 L631.66 663.58 L633.75 664.13 L635.84 664.68 L637.94 665.22 L640.03 665.76 L642.12 666.29 L644.21 666.82 L646.3 667.35 L648.4 667.87 L650.49 668.38 L652.58 668.9 L654.67 669.4 L656.76 669.91 L658.86 670.41 L660.95 670.91 L663.04 671.4 L665.13 671.89 L667.23 672.37 L669.32 672.85 L671.41 673.33 L673.5 673.8 L675.59 674.27 L677.69 674.74 L679.78 675.2 L681.87 675.66 L683.96 676.11 L686.05 676.56 L688.15 677.01 L690.24 677.45 L692.33 677.89 L694.42 678.33 L696.52 678.76 L698.61 679.19 L700.7 679.62 L702.79 680.04 L704.88 680.46 L706.98 680.88 L709.07 681.29 L711.16 681.7" fill="none" stroke="#000" stroke-width="1.05" stroke-linejoin="round"/>
<path d="M523.13 745.5 L524.17 740.99 L525.21 736.71 L526.25 732.65 L527.29 728.8 L528.34 725.14 L529.38 721.67 L530.42 718.39 L531.46 715.27 L532.5 712.31 L533.55 709.5 L534.59 706.84 L535.63 704.31 L536.67 701.91 L537.71 699.64 L538.75 697.48 L539.8 695.44 L540.84 693.5 L541.88 691.65 L542.92 689.91 L543.96 688.25 L545 686.68 L546.05 685.19 L547.09 683.77 L548.13 682.43 L549.17 681.16 L550.21 679.95 L551.25 678.8 L552.3 677.72 L553.34 676.69 L554.38 675.71 L555.42 674.78 L556.46 673.9 L557.51 673.06 L558.55 672.27 L559.59 671.52 L560.63 670.81 L561.67 670.13 L562.71 669.49 L563.76 668.88 L564.8 668.3 L565.84 667.76 L566.88 667.24 L567.92 666.74 L568.96 666.28 L570.01 665.83 L571.05 665.41 L572.09 665.01 L573.13 664.63 L574.17 664.28 L575.21 663.93 L576.26 663.61 L577.3 663.3 L578.34 663.01 L579.38 662.74 L580.42 662.48 L581.47 662.23 L582.51 661.99 L583.55 661.77 L584.59 661.56 L585.63 661.36 L587.72 661.95 L589.82 662.53 L591.91 663.11 L594 663.69 L596.09 664.26 L598.18 664.83 L600.28 665.39 L602.37 665.95 L604.46 666.5 L606.55 667.05 L608.65 667.59 L610.74 668.13 L612.83 668.67 L614.92 669.2 L617.01 669.73 L619.11 670.25 L621.2 670.77 L623.29 671.29 L625.38 671.8 L627.47 672.3 L629.57 672.81 L631.66 673.3 L633.75 673.8 L635.84 674.29 L637.94 674.78 L640.03 675.26 L642.12 675.74 L644.21 676.21 L646.3 676.68 L648.4 677.15 L650.49 677.61 L652.58 678.07 L654.67 678.53 L656.76 678.98 L658.86 679.43 L660.95 679.88 L663.04 680.32 L665.13 680.76 L667.23 681.19 L669.32 681.62 L671.41 682.05 L673.5 682.48 L675.59 682.9 L677.69 683.31 L679.78 683.73 L681.87 684.14 L683.96 684.55 L686.05 684.95 L688.15 685.35 L690.24 685.75 L692.33 686.14 L694.42 686.54 L696.52 686.92 L698.61 687.31 L700.7 687.69 L702.79 688.07 L704.88 688.45 L706.98 688.82 L709.07 689.19 L711.16 689.56" fill="none" stroke="#000" stroke-width="1.05" stroke-linejoin="round"/>
<path d="M523.13 745.5 L524.17 743.5 L525.21 741.57 L526.25 739.69 L527.29 737.87 L528.34 736.1 L529.38 734.39 L530.42 732.72 L531.46 731.11 L532.5 729.55 L533.55 728.03 L534.59 726.55 L535.63 725.12 L536.67 723.74 L537.71 722.39 L538.75 721.09 L539.8 719.82 L540.84 718.6 L541.88 717.4 L542.92 716.25 L543.96 715.13 L545 714.04 L546.05 712.99 L547.09 711.96 L548.13 710.97 L549.17 710.01 L550.21 709.07 L551.25 708.17 L552.3 707.29 L553.34 706.43 L554.38 705.61 L555.42 704.8 L556.46 704.02 L557.51 703.27 L558.55 702.54 L559.59 701.83 L560.63 701.14 L561.67 700.47 L562.71 699.82 L563.76 699.19 L564.8 698.58 L565.84 697.98 L566.88 697.41 L567.92 696.85 L568.96 696.31 L570.01 695.79 L571.05 695.28 L572.09 694.78 L573.13 694.3 L574.17 693.84 L575.21 693.39 L576.26 692.95 L577.3 692.53 L578.34 692.11 L579.38 691.72 L580.42 691.33 L581.47 690.95 L582.51 690.59 L583.55 690.23 L584.59 689.89 L585.63 689.56 L587.72 689.94 L589.82 690.33 L591.91 690.71 L594 691.09 L596.09 691.46 L598.18 691.83 L600.28 692.2 L602.37 692.57 L604.46 692.93 L606.55 693.29 L608.65 693.65 L610.74 694 L612.83 694.35 L614.92 694.7 L617.01 695.05 L619.11 695.39 L621.2 695.73 L623.29 696.07 L625.38 696.4 L627.47 696.74 L629.57 697.07 L631.66 697.39 L633.75 697.72 L635.84 698.04 L637.94 698.36 L640.03 698.67 L642.12 698.99 L644.21 699.3 L646.3 699.61 L648.4 699.92 L650.49 700.22 L652.58 700.52 L654.67 700.82 L656.76 701.12 L658.86 701.41 L660.95 701.7 L663.04 701.99 L665.13 702.28 L667.23 702.57 L669.32 702.85 L671.41 703.13 L673.5 703.41 L675.59 703.68 L677.69 703.96 L679.78 704.23 L681.87 704.5 L683.96 704.76 L686.05 705.03 L688.15 705.29 L690.24 705.55 L692.33 705.81 L694.42 706.07 L696.52 706.32 L698.61 706.58 L700.7 706.83 L702.79 707.08 L704.88 707.32 L706.98 707.57 L709.07 707.81 L711.16 708.05" fill="none" stroke="#000" stroke-width="1.05" stroke-linejoin="round"/>
<path d="M523.13 745.5 L524.17 744.85 L525.21 744.21 L526.25 743.59 L527.29 742.96 L528.34 742.35 L529.38 741.75 L530.42 741.16 L531.46 740.57 L532.5 739.99 L533.55 739.42 L534.59 738.86 L535.63 738.31 L536.67 737.76 L537.71 737.23 L538.75 736.7 L539.8 736.17 L540.84 735.66 L541.88 735.15 L542.92 734.65 L543.96 734.16 L545 733.67 L546.05 733.19 L547.09 732.72 L548.13 732.25 L549.17 731.79 L550.21 731.34 L551.25 730.9 L552.3 730.46 L553.34 730.02 L554.38 729.59 L555.42 729.17 L556.46 728.76 L557.51 728.35 L558.55 727.94 L559.59 727.55 L560.63 727.15 L561.67 726.77 L562.71 726.38 L563.76 726.01 L564.8 725.64 L565.84 725.27 L566.88 724.91 L567.92 724.56 L568.96 724.21 L570.01 723.86 L571.05 723.52 L572.09 723.19 L573.13 722.86 L574.17 722.53 L575.21 722.21 L576.26 721.89 L577.3 721.58 L578.34 721.27 L579.38 720.97 L580.42 720.67 L581.47 720.38 L582.51 720.09 L583.55 719.8 L584.59 719.52 L585.63 719.24 L587.72 719.46 L589.82 719.67 L591.91 719.89 L594 720.1 L596.09 720.31 L598.18 720.52 L600.28 720.72 L602.37 720.92 L604.46 721.12 L606.55 721.32 L608.65 721.52 L610.74 721.71 L612.83 721.9 L614.92 722.09 L617.01 722.28 L619.11 722.46 L621.2 722.65 L623.29 722.83 L625.38 723.01 L627.47 723.18 L629.57 723.36 L631.66 723.53 L633.75 723.7 L635.84 723.87 L637.94 724.04 L640.03 724.2 L642.12 724.37 L644.21 724.53 L646.3 724.69 L648.4 724.85 L650.49 725 L652.58 725.16 L654.67 725.31 L656.76 725.46 L658.86 725.61 L660.95 725.76 L663.04 725.91 L665.13 726.05 L667.23 726.19 L669.32 726.33 L671.41 726.47 L673.5 726.61 L675.59 726.75 L677.69 726.89 L679.78 727.02 L681.87 727.15 L683.96 727.28 L686.05 727.41 L688.15 727.54 L690.24 727.67 L692.33 727.79 L694.42 727.91 L696.52 728.04 L698.61 728.16 L700.7 728.28 L702.79 728.4 L704.88 728.51 L706.98 728.63 L709.07 728.74 L711.16 728.86" fill="none" stroke="#000" stroke-width="1.05" stroke-linejoin="round"/>
<path d="M523.13 745.5 L524.17 745.33 L525.21 745.16 L526.25 744.99 L527.29 744.83 L528.34 744.67 L529.38 744.51 L530.42 744.35 L531.46 744.2 L532.5 744.05 L533.55 743.9 L534.59 743.75 L535.63 743.6 L536.67 743.46 L537.71 743.32 L538.75 743.18 L539.8 743.04 L540.84 742.9 L541.88 742.77 L542.92 742.63 L543.96 742.5 L545 742.38 L546.05 742.25 L547.09 742.12 L548.13 742 L549.17 741.88 L550.21 741.76 L551.25 741.64 L552.3 741.53 L553.34 741.41 L554.38 741.3 L555.42 741.19 L556.46 741.08 L557.51 740.97 L558.55 740.86 L559.59 740.76 L560.63 740.65 L561.67 740.55 L562.71 740.45 L563.76 740.35 L564.8 740.25 L565.84 740.16 L566.88 740.06 L567.92 739.97 L568.96 739.88 L570.01 739.79 L571.05 739.7 L572.09 739.61 L573.13 739.52 L574.17 739.43 L575.21 739.35 L576.26 739.27 L577.3 739.18 L578.34 739.1 L579.38 739.02 L580.42 738.94 L581.47 738.87 L582.51 738.79 L583.55 738.71 L584.59 738.64 L585.63 738.57 L587.72 738.63 L589.82 738.7 L591.91 738.76 L594 738.83 L596.09 738.89 L598.18 738.95 L600.28 739.01 L602.37 739.08 L604.46 739.14 L606.55 739.19 L608.65 739.25 L610.74 739.31 L612.83 739.37 L614.92 739.42 L617.01 739.48 L619.11 739.53 L621.2 739.59 L623.29 739.64 L625.38 739.69 L627.47 739.75 L629.57 739.8 L631.66 739.85 L633.75 739.9 L635.84 739.95 L637.94 739.99 L640.03 740.04 L642.12 740.09 L644.21 740.14 L646.3 740.18 L648.4 740.23 L650.49 740.27 L652.58 740.32 L654.67 740.36 L656.76 740.4 L658.86 740.44 L660.95 740.49 L663.04 740.53 L665.13 740.57 L667.23 740.61 L669.32 740.65 L671.41 740.69 L673.5 740.73 L675.59 740.76 L677.69 740.8 L679.78 740.84 L681.87 740.88 L683.96 740.91 L686.05 740.95 L688.15 740.98 L690.24 741.02 L692.33 741.05 L694.42 741.08 L696.52 741.12 L698.61 741.15 L700.7 741.18 L702.79 741.22 L704.88 741.25 L706.98 741.28 L709.07 741.31 L711.16 741.34" fill="none" stroke="#000" stroke-width="1.05" stroke-linejoin="round"/>
<path d="M229.3 882.2V1021.8H437.7" fill="none" stroke="#000" stroke-width="1.7" stroke-linejoin="miter"/>
<path d="M225.1 1021.8H229.3M225.1 975.53H229.3M225.1 929.27H229.3M225.1 883H229.3M229.3 1021.8V1026M281.2 1021.8V1026M333.1 1021.8V1026M385 1021.8V1026M436.9 1021.8V1026" stroke="#000" stroke-width="1.7" fill="none"/>
<g class="b" font-size="15" text-anchor="end">
<text x="222.7" y="1027.1">0.0</text>
<text x="222.7" y="980.83">0.5</text>
<text x="222.7" y="934.57">1.0</text>
<text x="222.7" y="888.3">1.5</text>
<text transform="translate(232.7,1039) rotate(-45)">0</text>
<text transform="translate(284.6,1039) rotate(-45)">100</text>
<text transform="translate(336.5,1039) rotate(-45)">200</text>
<text transform="translate(388.4,1039) rotate(-45)">300</text>
<text transform="translate(440.3,1039) rotate(-45)">400</text>
</g>
<text class="b" font-size="15" text-anchor="middle" x="332.5" y="860.2">hK50E data</text>
<text class="b" font-size="15" text-anchor="middle" x="333.1" y="1076.3">Time (s)</text>
<text class="b" font-size="15" text-anchor="middle" transform="translate(196.3,954) rotate(-90)">Binding to Immobilised GAG (nm)</text>
<path d="M270.04 1021.8 L270.4 1010.42 L270.76 1000.84 L271.12 992.78 L271.48 986 L271.84 980.3 L272.2 975.49 L272.56 971.45 L272.92 968.04 L273.29 965.17 L273.65 962.76 L274.01 960.72 L274.37 959 L274.73 957.55 L275.09 956.33 L275.45 955.3 L275.81 954.42 L276.17 953.68 L276.53 953.06 L276.89 952.53 L277.25 952.07 L277.61 951.69 L277.97 951.36 L278.33 951.08 L278.69 950.84 L279.05 950.64 L279.41 950.46 L279.77 950.3 L280.13 950.17 L280.49 950.05 L280.85 949.95 L281.21 949.86 L281.57 949.77 L281.94 949.7 L282.3 949.64 L282.66 949.58 L283.02 949.52 L283.38 949.47 L283.74 949.42 L284.1 949.38 L284.46 949.33 L284.82 949.3 L285.18 949.26 L285.54 949.22 L285.9 949.18 L286.26 949.15 L286.62 949.12 L286.98 949.08 L287.34 949.05 L287.7 949.02 L288.06 948.99 L288.42 948.96 L288.78 948.93 L289.14 948.9 L289.5 948.87 L289.86 948.84 L290.22 948.81 L290.59 948.78 L290.95 948.75 L291.31 948.72 L291.67 948.69 L292.03 948.66 L292.39 948.63 L292.75 948.6 L293.11 948.58 L293.47 948.55 L293.83 948.52 L294.19 948.49 L294.55 948.46 L294.91 948.43 L295.27 948.4 L295.63 948.37 L295.99 948.34 L296.35 948.32 L296.71 948.29 L297.07 948.26 L297.43 948.23 L297.79 948.2 L298.15 948.17 L298.51 948.14 L298.87 948.11 L299.24 948.09 L299.6 948.06 L299.96 948.03 L300.32 948 L300.68 947.97 L301.04 947.94 L301.4 947.91 L301.76 947.88 L302.12 947.86 L302.48 947.83 L303.34 959.28 L304.2 968.84 L305.06 976.84 L305.92 983.52 L306.78 989.11 L307.63 993.79 L308.49 997.71 L309.35 1001.01 L310.21 1003.77 L311.07 1006.1 L311.93 1008.06 L312.79 1009.72 L313.65 1011.12 L314.51 1012.31 L315.37 1013.32 L316.23 1014.19 L317.09 1014.92 L317.95 1015.56 L318.8 1016.1 L319.66 1016.57 L320.52 1016.99 L321.38 1017.34 L322.24 1017.66 L323.1 1017.94 L323.96 1018.18 L324.82 1018.4 L325.68 1018.6 L326.54 1018.77 L327.4 1018.93 L328.26 1019.08 L329.12 1019.21 L329.97 1019.34 L330.83 1019.45 L331.69 1019.55 L332.55 1019.65 L333.41 1019.74 L334.27 1019.83 L335.13 1019.91 L335.99 1019.99 L336.85 1020.06 L337.71 1020.13 L338.57 1020.19 L339.43 1020.25 L340.29 1020.31 L341.14 1020.37 L342 1020.42 L342.86 1020.48 L343.72 1020.53 L344.58 1020.57 L345.44 1020.62 L346.3 1020.66 L347.16 1020.7 L348.02 1020.74 L348.88 1020.78 L349.74 1020.82 L350.6 1020.86 L351.46 1020.89 L352.31 1020.92 L353.17 1020.95 L354.03 1020.99 L354.89 1021.01 L355.75 1021.04 L356.61 1021.07 L357.47 1021.1 L358.33 1021.12 L359.19 1021.15 L360.05 1021.17 L360.91 1021.19 L361.77 1021.22 L362.63 1021.24 L363.48 1021.26 L364.34 1021.28 L365.2 1021.3 L366.06 1021.31 L366.92 1021.33 L367.78 1021.35 L368.64 1021.36 L369.5 1021.38 L370.36 1021.4 L371.22 1021.41 L372.08 1021.42 L372.94 1021.44 L373.8 1021.45 L374.65 1021.46 L375.51 1021.48 L376.37 1021.49 L377.23 1021.5 L378.09 1021.51 L378.95 1021.52 L379.81 1021.53" fill="none" stroke="#a020a0" stroke-width="3.6" stroke-linejoin="round" stroke-linecap="round"/>
<path d="M270.04 1021.8 L270.4 1013.08 L270.76 1005.74 L271.12 999.57 L271.48 994.37 L271.84 990 L272.2 986.32 L272.56 983.22 L272.92 980.61 L273.29 978.41 L273.65 976.56 L274.01 975 L274.37 973.68 L274.73 972.57 L275.09 971.63 L275.45 970.84 L275.81 970.17 L276.17 969.61 L276.53 969.13 L276.89 968.72 L277.25 968.37 L277.61 968.08 L277.97 967.83 L278.33 967.61 L278.69 967.43 L279.05 967.27 L279.41 967.13 L279.77 967.02 L280.13 966.91 L280.49 966.82 L280.85 966.74 L281.21 966.67 L281.57 966.61 L281.94 966.55 L282.3 966.5 L282.66 966.46 L283.02 966.42 L283.38 966.38 L283.74 966.34 L284.1 966.31 L284.46 966.27 L284.82 966.24 L285.18 966.21 L285.54 966.19 L285.9 966.16 L286.26 966.13 L286.62 966.11 L286.98 966.08 L287.34 966.06 L287.7 966.03 L288.06 966.01 L288.42 965.99 L288.78 965.96 L289.14 965.94 L289.5 965.92 L289.86 965.89 L290.22 965.87 L290.59 965.85 L290.95 965.83 L291.31 965.8 L291.67 965.78 L292.03 965.76 L292.39 965.74 L292.75 965.71 L293.11 965.69 L293.47 965.67 L293.83 965.65 L294.19 965.63 L294.55 965.6 L294.91 965.58 L295.27 965.56 L295.63 965.54 L295.99 965.51 L296.35 965.49 L296.71 965.47 L297.07 965.45 L297.43 965.43 L297.79 965.4 L298.15 965.38 L298.51 965.36 L298.87 965.34 L299.24 965.32 L299.6 965.29 L299.96 965.27 L300.32 965.25 L300.68 965.23 L301.04 965.21 L301.4 965.18 L301.76 965.16 L302.12 965.14 L302.48 965.12 L303.34 973.89 L304.2 981.22 L305.06 987.35 L305.92 992.47 L306.78 996.75 L307.63 1000.34 L308.49 1003.34 L309.35 1005.87 L310.21 1007.99 L311.07 1009.77 L311.93 1011.27 L312.79 1012.54 L313.65 1013.62 L314.51 1014.53 L315.37 1015.3 L316.23 1015.97 L317.09 1016.53 L317.95 1017.02 L318.8 1017.43 L319.66 1017.8 L320.52 1018.11 L321.38 1018.39 L322.24 1018.63 L323.1 1018.84 L323.96 1019.03 L324.82 1019.2 L325.68 1019.35 L326.54 1019.48 L327.4 1019.6 L328.26 1019.72 L329.12 1019.82 L329.97 1019.91 L330.83 1020 L331.69 1020.08 L332.55 1020.15 L333.41 1020.22 L334.27 1020.29 L335.13 1020.35 L335.99 1020.41 L336.85 1020.47 L337.71 1020.52 L338.57 1020.57 L339.43 1020.62 L340.29 1020.66 L341.14 1020.7 L342 1020.75 L342.86 1020.79 L343.72 1020.82 L344.58 1020.86 L345.44 1020.89 L346.3 1020.93 L347.16 1020.96 L348.02 1020.99 L348.88 1021.02 L349.74 1021.05 L350.6 1021.08 L351.46 1021.1 L352.31 1021.13 L353.17 1021.15 L354.03 1021.18 L354.89 1021.2 L355.75 1021.22 L356.61 1021.24 L357.47 1021.26 L358.33 1021.28 L359.19 1021.3 L360.05 1021.32 L360.91 1021.34 L361.77 1021.35 L362.63 1021.37 L363.48 1021.38 L364.34 1021.4 L365.2 1021.41 L366.06 1021.43 L366.92 1021.44 L367.78 1021.45 L368.64 1021.47 L369.5 1021.48 L370.36 1021.49 L371.22 1021.5 L372.08 1021.51 L372.94 1021.52 L373.8 1021.53 L374.65 1021.54 L375.51 1021.55 L376.37 1021.56 L377.23 1021.57 L378.09 1021.58 L378.95 1021.59 L379.81 1021.59" fill="none" stroke="#a020a0" stroke-width="3.6" stroke-linejoin="round" stroke-linecap="round"/>
<path d="M270.04 1021.8 L270.4 1015.9 L270.76 1010.93 L271.12 1006.75 L271.48 1003.23 L271.84 1000.27 L272.2 997.78 L272.56 995.68 L272.92 993.91 L273.29 992.43 L273.65 991.17 L274.01 990.11 L274.37 989.22 L274.73 988.47 L275.09 987.84 L275.45 987.3 L275.81 986.85 L276.17 986.46 L276.53 986.14 L276.89 985.86 L277.25 985.63 L277.61 985.43 L277.97 985.26 L278.33 985.12 L278.69 984.99 L279.05 984.88 L279.41 984.79 L279.77 984.71 L280.13 984.64 L280.49 984.58 L280.85 984.53 L281.21 984.48 L281.57 984.44 L281.94 984.4 L282.3 984.36 L282.66 984.33 L283.02 984.3 L283.38 984.28 L283.74 984.25 L284.1 984.23 L284.46 984.21 L284.82 984.19 L285.18 984.17 L285.54 984.15 L285.9 984.13 L286.26 984.11 L286.62 984.1 L286.98 984.08 L287.34 984.06 L287.7 984.05 L288.06 984.03 L288.42 984.01 L288.78 984 L289.14 983.98 L289.5 983.97 L289.86 983.95 L290.22 983.94 L290.59 983.92 L290.95 983.91 L291.31 983.89 L291.67 983.88 L292.03 983.86 L292.39 983.84 L292.75 983.83 L293.11 983.81 L293.47 983.8 L293.83 983.78 L294.19 983.77 L294.55 983.75 L294.91 983.74 L295.27 983.72 L295.63 983.71 L295.99 983.7 L296.35 983.68 L296.71 983.67 L297.07 983.65 L297.43 983.64 L297.79 983.62 L298.15 983.61 L298.51 983.59 L298.87 983.58 L299.24 983.56 L299.6 983.55 L299.96 983.53 L300.32 983.52 L300.68 983.5 L301.04 983.49 L301.4 983.47 L301.76 983.46 L302.12 983.44 L302.48 983.43 L303.34 989.37 L304.2 994.33 L305.06 998.47 L305.92 1001.94 L306.78 1004.84 L307.63 1007.27 L308.49 1009.3 L309.35 1011.01 L310.21 1012.45 L311.07 1013.66 L311.93 1014.67 L312.79 1015.53 L313.65 1016.26 L314.51 1016.88 L315.37 1017.4 L316.23 1017.85 L317.09 1018.23 L317.95 1018.56 L318.8 1018.84 L319.66 1019.09 L320.52 1019.3 L321.38 1019.49 L322.24 1019.65 L323.1 1019.8 L323.96 1019.92 L324.82 1020.04 L325.68 1020.14 L326.54 1020.23 L327.4 1020.31 L328.26 1020.39 L329.12 1020.46 L329.97 1020.52 L330.83 1020.58 L331.69 1020.64 L332.55 1020.69 L333.41 1020.73 L334.27 1020.78 L335.13 1020.82 L335.99 1020.86 L336.85 1020.9 L337.71 1020.93 L338.57 1020.97 L339.43 1021 L340.29 1021.03 L341.14 1021.06 L342 1021.09 L342.86 1021.11 L343.72 1021.14 L344.58 1021.16 L345.44 1021.19 L346.3 1021.21 L347.16 1021.23 L348.02 1021.25 L348.88 1021.27 L349.74 1021.29 L350.6 1021.31 L351.46 1021.33 L352.31 1021.34 L353.17 1021.36 L354.03 1021.38 L354.89 1021.39 L355.75 1021.41 L356.61 1021.42 L357.47 1021.44 L358.33 1021.45 L359.19 1021.46 L360.05 1021.47 L360.91 1021.49 L361.77 1021.5 L362.63 1021.51 L363.48 1021.52 L364.34 1021.53 L365.2 1021.54 L366.06 1021.55 L366.92 1021.56 L367.78 1021.57 L368.64 1021.57 L369.5 1021.58 L370.36 1021.59 L371.22 1021.6 L372.08 1021.61 L372.94 1021.61 L373.8 1021.62 L374.65 1021.63 L375.51 1021.63 L376.37 1021.64 L377.23 1021.64 L378.09 1021.65 L378.95 1021.65 L379.81 1021.66" fill="none" stroke="#a020a0" stroke-width="3.6" stroke-linejoin="round" stroke-linecap="round"/>
<path d="M270.04 1021.8 L270.4 1018.64 L270.76 1015.98 L271.12 1013.75 L271.48 1011.87 L271.84 1010.28 L272.2 1008.95 L272.56 1007.83 L272.92 1006.88 L273.29 1006.09 L273.65 1005.42 L274.01 1004.85 L274.37 1004.37 L274.73 1003.97 L275.09 1003.63 L275.45 1003.35 L275.81 1003.1 L276.17 1002.9 L276.53 1002.72 L276.89 1002.58 L277.25 1002.45 L277.61 1002.34 L277.97 1002.25 L278.33 1002.18 L278.69 1002.11 L279.05 1002.05 L279.41 1002 L279.77 1001.96 L280.13 1001.92 L280.49 1001.89 L280.85 1001.86 L281.21 1001.84 L281.57 1001.81 L281.94 1001.79 L282.3 1001.77 L282.66 1001.76 L283.02 1001.74 L283.38 1001.73 L283.74 1001.71 L284.1 1001.7 L284.46 1001.69 L284.82 1001.68 L285.18 1001.67 L285.54 1001.66 L285.9 1001.65 L286.26 1001.64 L286.62 1001.63 L286.98 1001.62 L287.34 1001.61 L287.7 1001.6 L288.06 1001.6 L288.42 1001.59 L288.78 1001.58 L289.14 1001.57 L289.5 1001.56 L289.86 1001.55 L290.22 1001.55 L290.59 1001.54 L290.95 1001.53 L291.31 1001.52 L291.67 1001.51 L292.03 1001.5 L292.39 1001.5 L292.75 1001.49 L293.11 1001.48 L293.47 1001.47 L293.83 1001.46 L294.19 1001.46 L294.55 1001.45 L294.91 1001.44 L295.27 1001.43 L295.63 1001.42 L295.99 1001.42 L296.35 1001.41 L296.71 1001.4 L297.07 1001.39 L297.43 1001.38 L297.79 1001.38 L298.15 1001.37 L298.51 1001.36 L298.87 1001.35 L299.24 1001.34 L299.6 1001.34 L299.96 1001.33 L300.32 1001.32 L300.68 1001.31 L301.04 1001.3 L301.4 1001.3 L301.76 1001.29 L302.12 1001.28 L302.48 1001.27 L303.34 1004.32 L304.2 1006.86 L305.06 1008.99 L305.92 1010.78 L306.78 1012.28 L307.63 1013.54 L308.49 1014.61 L309.35 1015.5 L310.21 1016.26 L311.07 1016.9 L311.93 1017.44 L312.79 1017.9 L313.65 1018.29 L314.51 1018.63 L315.37 1018.92 L316.23 1019.17 L317.09 1019.39 L317.95 1019.58 L318.8 1019.74 L319.66 1019.88 L320.52 1020.01 L321.38 1020.12 L322.24 1020.23 L323.1 1020.32 L323.96 1020.4 L324.82 1020.47 L325.68 1020.54 L326.54 1020.6 L327.4 1020.66 L328.26 1020.71 L329.12 1020.76 L329.97 1020.8 L330.83 1020.85 L331.69 1020.89 L332.55 1020.92 L333.41 1020.96 L334.27 1020.99 L335.13 1021.02 L335.99 1021.05 L336.85 1021.08 L337.71 1021.11 L338.57 1021.14 L339.43 1021.16 L340.29 1021.18 L341.14 1021.21 L342 1021.23 L342.86 1021.25 L343.72 1021.27 L344.58 1021.29 L345.44 1021.31 L346.3 1021.33 L347.16 1021.34 L348.02 1021.36 L348.88 1021.38 L349.74 1021.39 L350.6 1021.41 L351.46 1021.42 L352.31 1021.44 L353.17 1021.45 L354.03 1021.46 L354.89 1021.47 L355.75 1021.49 L356.61 1021.5 L357.47 1021.51 L358.33 1021.52 L359.19 1021.53 L360.05 1021.54 L360.91 1021.55 L361.77 1021.56 L362.63 1021.57 L363.48 1021.57 L364.34 1021.58 L365.2 1021.59 L366.06 1021.6 L366.92 1021.6 L367.78 1021.61 L368.64 1021.62 L369.5 1021.63 L370.36 1021.63 L371.22 1021.64 L372.08 1021.64 L372.94 1021.65 L373.8 1021.65 L374.65 1021.66 L375.51 1021.67 L376.37 1021.67 L377.23 1021.67 L378.09 1021.68 L378.95 1021.68 L379.81 1021.69" fill="none" stroke="#a020a0" stroke-width="3.6" stroke-linejoin="round" stroke-linecap="round"/>
<path d="M270.04 1021.8 L270.4 1020.19 L270.76 1018.84 L271.12 1017.7 L271.48 1016.74 L271.84 1015.94 L272.2 1015.26 L272.56 1014.69 L272.92 1014.21 L273.29 1013.8 L273.65 1013.46 L274.01 1013.17 L274.37 1012.93 L274.73 1012.73 L275.09 1012.55 L275.45 1012.41 L275.81 1012.28 L276.17 1012.18 L276.53 1012.09 L276.89 1012.02 L277.25 1011.95 L277.61 1011.9 L277.97 1011.85 L278.33 1011.81 L278.69 1011.78 L279.05 1011.75 L279.41 1011.72 L279.77 1011.7 L280.13 1011.68 L280.49 1011.67 L280.85 1011.65 L281.21 1011.64 L281.57 1011.63 L281.94 1011.62 L282.3 1011.61 L282.66 1011.6 L283.02 1011.59 L283.38 1011.58 L283.74 1011.58 L284.1 1011.57 L284.46 1011.56 L284.82 1011.56 L285.18 1011.55 L285.54 1011.55 L285.9 1011.54 L286.26 1011.54 L286.62 1011.53 L286.98 1011.53 L287.34 1011.52 L287.7 1011.52 L288.06 1011.52 L288.42 1011.51 L288.78 1011.51 L289.14 1011.5 L289.5 1011.5 L289.86 1011.49 L290.22 1011.49 L290.59 1011.49 L290.95 1011.48 L291.31 1011.48 L291.67 1011.47 L292.03 1011.47 L292.39 1011.47 L292.75 1011.46 L293.11 1011.46 L293.47 1011.45 L293.83 1011.45 L294.19 1011.44 L294.55 1011.44 L294.91 1011.44 L295.27 1011.43 L295.63 1011.43 L295.99 1011.42 L296.35 1011.42 L296.71 1011.42 L297.07 1011.41 L297.43 1011.41 L297.79 1011.4 L298.15 1011.4 L298.51 1011.4 L298.87 1011.39 L299.24 1011.39 L299.6 1011.38 L299.96 1011.38 L300.32 1011.38 L300.68 1011.37 L301.04 1011.37 L301.4 1011.36 L301.76 1011.36 L302.12 1011.36 L302.48 1011.35 L303.34 1012.9 L304.2 1014.2 L305.06 1015.28 L305.92 1016.19 L306.78 1016.96 L307.63 1017.6 L308.49 1018.14 L309.35 1018.59 L310.21 1018.98 L311.07 1019.3 L311.93 1019.58 L312.79 1019.82 L313.65 1020.02 L314.51 1020.19 L315.37 1020.33 L316.23 1020.46 L317.09 1020.57 L317.95 1020.67 L318.8 1020.75 L319.66 1020.82 L320.52 1020.89 L321.38 1020.95 L322.24 1021 L323.1 1021.04 L323.96 1021.09 L324.82 1021.12 L325.68 1021.16 L326.54 1021.19 L327.4 1021.22 L328.26 1021.24 L329.12 1021.27 L329.97 1021.29 L330.83 1021.31 L331.69 1021.33 L332.55 1021.35 L333.41 1021.37 L334.27 1021.39 L335.13 1021.4 L335.99 1021.42 L336.85 1021.43 L337.71 1021.45 L338.57 1021.46 L339.43 1021.47 L340.29 1021.49 L341.14 1021.5 L342 1021.51 L342.86 1021.52 L343.72 1021.53 L344.58 1021.54 L345.44 1021.55 L346.3 1021.56 L347.16 1021.57 L348.02 1021.58 L348.88 1021.58 L349.74 1021.59 L350.6 1021.6 L351.46 1021.61 L352.31 1021.61 L353.17 1021.62 L354.03 1021.63 L354.89 1021.63 L355.75 1021.64 L356.61 1021.65 L357.47 1021.65 L358.33 1021.66 L359.19 1021.66 L360.05 1021.67 L360.91 1021.67 L361.77 1021.68 L362.63 1021.68 L363.48 1021.68 L364.34 1021.69 L365.2 1021.69 L366.06 1021.7 L366.92 1021.7 L367.78 1021.7 L368.64 1021.71 L369.5 1021.71 L370.36 1021.71 L371.22 1021.72 L372.08 1021.72 L372.94 1021.72 L373.8 1021.73 L374.65 1021.73 L375.51 1021.73 L376.37 1021.73 L377.23 1021.74 L378.09 1021.74 L378.95 1021.74 L379.81 1021.74" fill="none" stroke="#a020a0" stroke-width="3.6" stroke-linejoin="round" stroke-linecap="round"/>
<path d="M270.04 1021.8 L270.4 1020.95 L270.76 1020.23 L271.12 1019.62 L271.48 1019.12 L271.84 1018.69 L272.2 1018.33 L272.56 1018.02 L272.92 1017.77 L273.29 1017.55 L273.65 1017.37 L274.01 1017.22 L274.37 1017.09 L274.73 1016.98 L275.09 1016.89 L275.45 1016.81 L275.81 1016.75 L276.17 1016.69 L276.53 1016.64 L276.89 1016.6 L277.25 1016.57 L277.61 1016.54 L277.97 1016.52 L278.33 1016.5 L278.69 1016.48 L279.05 1016.46 L279.41 1016.45 L279.77 1016.44 L280.13 1016.43 L280.49 1016.42 L280.85 1016.41 L281.21 1016.4 L281.57 1016.4 L281.94 1016.39 L282.3 1016.39 L282.66 1016.38 L283.02 1016.38 L283.38 1016.38 L283.74 1016.37 L284.1 1016.37 L284.46 1016.37 L284.82 1016.36 L285.18 1016.36 L285.54 1016.36 L285.9 1016.35 L286.26 1016.35 L286.62 1016.35 L286.98 1016.35 L287.34 1016.34 L287.7 1016.34 L288.06 1016.34 L288.42 1016.34 L288.78 1016.33 L289.14 1016.33 L289.5 1016.33 L289.86 1016.33 L290.22 1016.33 L290.59 1016.32 L290.95 1016.32 L291.31 1016.32 L291.67 1016.32 L292.03 1016.31 L292.39 1016.31 L292.75 1016.31 L293.11 1016.31 L293.47 1016.31 L293.83 1016.3 L294.19 1016.3 L294.55 1016.3 L294.91 1016.3 L295.27 1016.3 L295.63 1016.29 L295.99 1016.29 L296.35 1016.29 L296.71 1016.29 L297.07 1016.28 L297.43 1016.28 L297.79 1016.28 L298.15 1016.28 L298.51 1016.28 L298.87 1016.27 L299.24 1016.27 L299.6 1016.27 L299.96 1016.27 L300.32 1016.26 L300.68 1016.26 L301.04 1016.26 L301.4 1016.26 L301.76 1016.26 L302.12 1016.25 L302.48 1016.25 L303.34 1017.07 L304.2 1017.76 L305.06 1018.34 L305.92 1018.82 L306.78 1019.23 L307.63 1019.57 L308.49 1019.86 L309.35 1020.1 L310.21 1020.3 L311.07 1020.47 L311.93 1020.62 L312.79 1020.75 L313.65 1020.85 L314.51 1020.94 L315.37 1021.02 L316.23 1021.09 L317.09 1021.15 L317.95 1021.2 L318.8 1021.24 L319.66 1021.28 L320.52 1021.32 L321.38 1021.35 L322.24 1021.37 L323.1 1021.4 L323.96 1021.42 L324.82 1021.44 L325.68 1021.46 L326.54 1021.48 L327.4 1021.49 L328.26 1021.51 L329.12 1021.52 L329.97 1021.53 L330.83 1021.54 L331.69 1021.55 L332.55 1021.56 L333.41 1021.57 L334.27 1021.58 L335.13 1021.59 L335.99 1021.6 L336.85 1021.61 L337.71 1021.61 L338.57 1021.62 L339.43 1021.63 L340.29 1021.63 L341.14 1021.64 L342 1021.65 L342.86 1021.65 L343.72 1021.66 L344.58 1021.66 L345.44 1021.67 L346.3 1021.67 L347.16 1021.68 L348.02 1021.68 L348.88 1021.69 L349.74 1021.69 L350.6 1021.69 L351.46 1021.7 L352.31 1021.7 L353.17 1021.7 L354.03 1021.71 L354.89 1021.71 L355.75 1021.71 L356.61 1021.72 L357.47 1021.72 L358.33 1021.72 L359.19 1021.73 L360.05 1021.73 L360.91 1021.73 L361.77 1021.73 L362.63 1021.74 L363.48 1021.74 L364.34 1021.74 L365.2 1021.74 L366.06 1021.75 L366.92 1021.75 L367.78 1021.75 L368.64 1021.75 L369.5 1021.75 L370.36 1021.75 L371.22 1021.76 L372.08 1021.76 L372.94 1021.76 L373.8 1021.76 L374.65 1021.76 L375.51 1021.76 L376.37 1021.76 L377.23 1021.77 L378.09 1021.77 L378.95 1021.77 L379.81 1021.77" fill="none" stroke="#a020a0" stroke-width="3.6" stroke-linejoin="round" stroke-linecap="round"/>
<path d="M270.04 1021.8 L270.4 1021.37 L270.76 1021.01 L271.12 1020.71 L271.48 1020.46 L271.84 1020.24 L272.2 1020.06 L272.56 1019.91 L272.92 1019.78 L273.29 1019.68 L273.65 1019.59 L274.01 1019.51 L274.37 1019.45 L274.73 1019.39 L275.09 1019.34 L275.45 1019.31 L275.81 1019.27 L276.17 1019.25 L276.53 1019.22 L276.89 1019.2 L277.25 1019.19 L277.61 1019.17 L277.97 1019.16 L278.33 1019.15 L278.69 1019.14 L279.05 1019.13 L279.41 1019.12 L279.77 1019.12 L280.13 1019.11 L280.49 1019.11 L280.85 1019.11 L281.21 1019.1 L281.57 1019.1 L281.94 1019.1 L282.3 1019.09 L282.66 1019.09 L283.02 1019.09 L283.38 1019.09 L283.74 1019.09 L284.1 1019.08 L284.46 1019.08 L284.82 1019.08 L285.18 1019.08 L285.54 1019.08 L285.9 1019.08 L286.26 1019.08 L286.62 1019.07 L286.98 1019.07 L287.34 1019.07 L287.7 1019.07 L288.06 1019.07 L288.42 1019.07 L288.78 1019.07 L289.14 1019.07 L289.5 1019.07 L289.86 1019.06 L290.22 1019.06 L290.59 1019.06 L290.95 1019.06 L291.31 1019.06 L291.67 1019.06 L292.03 1019.06 L292.39 1019.06 L292.75 1019.06 L293.11 1019.05 L293.47 1019.05 L293.83 1019.05 L294.19 1019.05 L294.55 1019.05 L294.91 1019.05 L295.27 1019.05 L295.63 1019.05 L295.99 1019.05 L296.35 1019.04 L296.71 1019.04 L297.07 1019.04 L297.43 1019.04 L297.79 1019.04 L298.15 1019.04 L298.51 1019.04 L298.87 1019.04 L299.24 1019.04 L299.6 1019.03 L299.96 1019.03 L300.32 1019.03 L300.68 1019.03 L301.04 1019.03 L301.4 1019.03 L301.76 1019.03 L302.12 1019.03 L302.48 1019.03 L303.34 1019.44 L304.2 1019.78 L305.06 1020.07 L305.92 1020.31 L306.78 1020.51 L307.63 1020.68 L308.49 1020.83 L309.35 1020.95 L310.21 1021.05 L311.07 1021.14 L311.93 1021.21 L312.79 1021.27 L313.65 1021.33 L314.51 1021.37 L315.37 1021.41 L316.23 1021.44 L317.09 1021.47 L317.95 1021.5 L318.8 1021.52 L319.66 1021.54 L320.52 1021.56 L321.38 1021.57 L322.24 1021.59 L323.1 1021.6 L323.96 1021.61 L324.82 1021.62 L325.68 1021.63 L326.54 1021.64 L327.4 1021.65 L328.26 1021.65 L329.12 1021.66 L329.97 1021.67 L330.83 1021.67 L331.69 1021.68 L332.55 1021.68 L333.41 1021.69 L334.27 1021.69 L335.13 1021.7 L335.99 1021.7 L336.85 1021.7 L337.71 1021.71 L338.57 1021.71 L339.43 1021.71 L340.29 1021.72 L341.14 1021.72 L342 1021.72 L342.86 1021.73 L343.72 1021.73 L344.58 1021.73 L345.44 1021.73 L346.3 1021.74 L347.16 1021.74 L348.02 1021.74 L348.88 1021.74 L349.74 1021.74 L350.6 1021.75 L351.46 1021.75 L352.31 1021.75 L353.17 1021.75 L354.03 1021.75 L354.89 1021.76 L355.75 1021.76 L356.61 1021.76 L357.47 1021.76 L358.33 1021.76 L359.19 1021.76 L360.05 1021.76 L360.91 1021.77 L361.77 1021.77 L362.63 1021.77 L363.48 1021.77 L364.34 1021.77 L365.2 1021.77 L366.06 1021.77 L366.92 1021.77 L367.78 1021.77 L368.64 1021.78 L369.5 1021.78 L370.36 1021.78 L371.22 1021.78 L372.08 1021.78 L372.94 1021.78 L373.8 1021.78 L374.65 1021.78 L375.51 1021.78 L376.37 1021.78 L377.23 1021.78 L378.09 1021.78 L378.95 1021.78 L379.81 1021.78" fill="none" stroke="#a020a0" stroke-width="3.6" stroke-linejoin="round" stroke-linecap="round"/>
<path d="M270.56 1021.8 L270.92 1010.53 L271.27 1001.02 L271.62 993 L271.98 986.23 L272.33 980.52 L272.69 975.7 L273.04 971.63 L273.4 968.19 L273.75 965.29 L274.11 962.84 L274.46 960.77 L274.82 959.03 L275.17 957.55 L275.53 956.3 L275.88 955.24 L276.23 954.34 L276.59 953.58 L276.94 952.94 L277.3 952.39 L277.65 951.92 L278.01 951.53 L278.36 951.19 L278.72 950.9 L279.07 950.65 L279.43 950.44 L279.78 950.26 L280.14 950.1 L280.49 949.96 L280.85 949.84 L281.2 949.74 L281.55 949.64 L281.91 949.56 L282.26 949.49 L282.62 949.43 L282.97 949.37 L283.33 949.31 L283.68 949.26 L284.04 949.22 L284.39 949.18 L284.75 949.14 L285.1 949.1 L285.46 949.07 L285.81 949.03 L286.17 949 L286.52 948.97 L286.87 948.94 L287.23 948.91 L287.58 948.88 L287.94 948.85 L288.29 948.83 L288.65 948.8 L289 948.77 L289.36 948.75 L289.71 948.72 L290.07 948.7 L290.42 948.67 L290.78 948.64 L291.13 948.62 L291.48 948.59 L291.84 948.57 L292.19 948.54 L292.55 948.52 L292.9 948.49 L293.26 948.47 L293.61 948.44 L293.97 948.42 L294.32 948.39 L294.68 948.37 L295.03 948.35 L295.39 948.32 L295.74 948.3 L296.1 948.27 L296.45 948.25 L296.8 948.22 L297.16 948.2 L297.51 948.17 L297.87 948.15 L298.22 948.12 L298.58 948.1 L298.93 948.07 L299.29 948.05 L299.64 948.02 L300 948 L300.35 947.97 L300.71 947.95 L301.06 947.93 L301.42 947.9 L301.77 947.88 L302.12 947.85 L302.48 947.83 L302.91 954.38 L303.33 960.34 L303.76 965.75 L304.19 970.67 L304.61 975.14 L305.04 979.2 L305.47 982.89 L305.89 986.25 L306.32 989.3 L306.75 992.08 L307.17 994.6 L307.6 996.9 L308.03 998.99 L308.45 1000.89 L308.88 1002.61 L309.31 1004.19 L309.73 1005.62 L310.16 1006.93 L310.59 1008.11 L311.01 1009.2 L311.44 1010.18 L311.87 1011.08 L312.29 1011.9 L312.72 1012.65 L313.15 1013.33 L313.57 1013.95 L314 1014.52 L314.43 1015.04 L314.85 1015.51 L315.28 1015.94 L315.71 1016.34 L316.13 1016.7 L316.56 1017.04 L316.99 1017.34 L317.41 1017.62 L317.84 1017.88 L318.27 1018.11 L318.69 1018.33 L319.12 1018.52 L319.55 1018.71 L319.98 1018.88 L320.4 1019.03 L320.83 1019.17 L321.26 1019.31 L321.68 1019.43 L322.11 1019.54 L322.54 1019.65 L322.96 1019.74 L323.39 1019.83 L323.82 1019.92 L324.24 1020 L324.67 1020.07 L325.1 1020.14 L325.52 1020.2 L325.95 1020.26 L326.38 1020.32 L326.8 1020.37 L327.23 1020.42 L327.66 1020.47 L328.08 1020.51 L328.51 1020.55 L328.94 1020.59 L329.36 1020.63 L329.79 1020.66 L330.22 1020.7 L330.64 1020.73 L331.07 1020.76 L331.5 1020.79 L331.92 1020.82 L332.35 1020.84 L332.78 1020.87 L333.2 1020.89 L333.63 1020.91 L334.06 1020.94 L334.48 1020.96 L334.91 1020.98 L335.34 1021 L335.76 1021.02 L336.19 1021.04 L336.62 1021.06 L337.04 1021.07 L337.47 1021.09 L337.9 1021.11 L338.32 1021.12 L338.75 1021.14 L339.18 1021.15 L339.6 1021.17 L340.03 1021.18 L340.46 1021.19 L340.88 1021.21" fill="none" stroke="#000" stroke-width="1.1" stroke-linejoin="round"/>
<path d="M270.56 1021.8 L270.92 1013.16 L271.27 1005.88 L271.62 999.73 L271.98 994.54 L272.33 990.17 L272.69 986.47 L273.04 983.36 L273.4 980.72 L273.75 978.5 L274.11 976.62 L274.46 975.04 L274.82 973.7 L275.17 972.57 L275.53 971.61 L275.88 970.8 L276.23 970.11 L276.59 969.53 L276.94 969.03 L277.3 968.61 L277.65 968.26 L278.01 967.95 L278.36 967.69 L278.72 967.47 L279.07 967.28 L279.43 967.12 L279.78 966.98 L280.14 966.86 L280.49 966.75 L280.85 966.66 L281.2 966.58 L281.55 966.51 L281.91 966.45 L282.26 966.39 L282.62 966.34 L282.97 966.3 L283.33 966.26 L283.68 966.22 L284.04 966.18 L284.39 966.15 L284.75 966.12 L285.1 966.09 L285.46 966.07 L285.81 966.04 L286.17 966.02 L286.52 965.99 L286.87 965.97 L287.23 965.95 L287.58 965.93 L287.94 965.91 L288.29 965.88 L288.65 965.86 L289 965.84 L289.36 965.82 L289.71 965.8 L290.07 965.78 L290.42 965.76 L290.78 965.74 L291.13 965.73 L291.48 965.71 L291.84 965.69 L292.19 965.67 L292.55 965.65 L292.9 965.63 L293.26 965.61 L293.61 965.59 L293.97 965.57 L294.32 965.55 L294.68 965.53 L295.03 965.52 L295.39 965.5 L295.74 965.48 L296.1 965.46 L296.45 965.44 L296.8 965.42 L297.16 965.4 L297.51 965.38 L297.87 965.36 L298.22 965.34 L298.58 965.33 L298.93 965.31 L299.29 965.29 L299.64 965.27 L300 965.25 L300.35 965.23 L300.71 965.21 L301.06 965.19 L301.42 965.17 L301.77 965.16 L302.12 965.14 L302.48 965.12 L302.91 970.14 L303.33 974.7 L303.76 978.85 L304.19 982.62 L304.61 986.04 L305.04 989.16 L305.47 991.99 L305.89 994.56 L306.32 996.9 L306.75 999.02 L307.17 1000.96 L307.6 1002.72 L308.03 1004.32 L308.45 1005.77 L308.88 1007.1 L309.31 1008.3 L309.73 1009.4 L310.16 1010.4 L310.59 1011.31 L311.01 1012.14 L311.44 1012.9 L311.87 1013.59 L312.29 1014.21 L312.72 1014.79 L313.15 1015.31 L313.57 1015.79 L314 1016.22 L314.43 1016.62 L314.85 1016.98 L315.28 1017.31 L315.71 1017.62 L316.13 1017.9 L316.56 1018.15 L316.99 1018.38 L317.41 1018.6 L317.84 1018.79 L318.27 1018.97 L318.69 1019.14 L319.12 1019.29 L319.55 1019.43 L319.98 1019.56 L320.4 1019.68 L320.83 1019.79 L321.26 1019.89 L321.68 1019.98 L322.11 1020.07 L322.54 1020.15 L322.96 1020.22 L323.39 1020.29 L323.82 1020.36 L324.24 1020.42 L324.67 1020.47 L325.1 1020.53 L325.52 1020.58 L325.95 1020.62 L326.38 1020.66 L326.8 1020.7 L327.23 1020.74 L327.66 1020.78 L328.08 1020.81 L328.51 1020.84 L328.94 1020.87 L329.36 1020.9 L329.79 1020.93 L330.22 1020.95 L330.64 1020.98 L331.07 1021 L331.5 1021.02 L331.92 1021.05 L332.35 1021.07 L332.78 1021.09 L333.2 1021.1 L333.63 1021.12 L334.06 1021.14 L334.48 1021.16 L334.91 1021.17 L335.34 1021.19 L335.76 1021.2 L336.19 1021.22 L336.62 1021.23 L337.04 1021.24 L337.47 1021.26 L337.9 1021.27 L338.32 1021.28 L338.75 1021.29 L339.18 1021.3 L339.6 1021.31 L340.03 1021.32 L340.46 1021.34 L340.88 1021.35" fill="none" stroke="#000" stroke-width="1.1" stroke-linejoin="round"/>
<path d="M270.56 1021.8 L270.92 1015.95 L271.27 1011.02 L271.62 1006.86 L271.98 1003.35 L272.33 1000.38 L272.69 997.88 L273.04 995.77 L273.4 993.99 L273.75 992.49 L274.11 991.22 L274.46 990.14 L274.82 989.24 L275.17 988.47 L275.53 987.82 L275.88 987.27 L276.23 986.81 L276.59 986.41 L276.94 986.08 L277.3 985.79 L277.65 985.55 L278.01 985.35 L278.36 985.17 L278.72 985.02 L279.07 984.89 L279.43 984.78 L279.78 984.69 L280.14 984.61 L280.49 984.53 L280.85 984.47 L281.2 984.42 L281.55 984.37 L281.91 984.33 L282.26 984.29 L282.62 984.26 L282.97 984.23 L283.33 984.2 L283.68 984.17 L284.04 984.15 L284.39 984.13 L284.75 984.11 L285.1 984.09 L285.46 984.07 L285.81 984.05 L286.17 984.04 L286.52 984.02 L286.87 984 L287.23 983.99 L287.58 983.97 L287.94 983.96 L288.29 983.95 L288.65 983.93 L289 983.92 L289.36 983.9 L289.71 983.89 L290.07 983.88 L290.42 983.86 L290.78 983.85 L291.13 983.84 L291.48 983.82 L291.84 983.81 L292.19 983.8 L292.55 983.79 L292.9 983.77 L293.26 983.76 L293.61 983.75 L293.97 983.73 L294.32 983.72 L294.68 983.71 L295.03 983.7 L295.39 983.68 L295.74 983.67 L296.1 983.66 L296.45 983.64 L296.8 983.63 L297.16 983.62 L297.51 983.61 L297.87 983.59 L298.22 983.58 L298.58 983.57 L298.93 983.55 L299.29 983.54 L299.64 983.53 L300 983.52 L300.35 983.5 L300.71 983.49 L301.06 983.48 L301.42 983.46 L301.77 983.45 L302.12 983.44 L302.48 983.43 L302.91 986.83 L303.33 989.92 L303.76 992.72 L304.19 995.27 L304.61 997.59 L305.04 999.7 L305.47 1001.62 L305.89 1003.36 L306.32 1004.94 L306.75 1006.38 L307.17 1007.69 L307.6 1008.88 L308.03 1009.96 L308.45 1010.95 L308.88 1011.85 L309.31 1012.66 L309.73 1013.41 L310.16 1014.08 L310.59 1014.7 L311.01 1015.26 L311.44 1015.77 L311.87 1016.24 L312.29 1016.66 L312.72 1017.05 L313.15 1017.41 L313.57 1017.73 L314 1018.02 L314.43 1018.29 L314.85 1018.54 L315.28 1018.76 L315.71 1018.97 L316.13 1019.16 L316.56 1019.33 L316.99 1019.49 L317.41 1019.63 L317.84 1019.76 L318.27 1019.89 L318.69 1020 L319.12 1020.1 L319.55 1020.2 L319.98 1020.28 L320.4 1020.36 L320.83 1020.44 L321.26 1020.51 L321.68 1020.57 L322.11 1020.63 L322.54 1020.68 L322.96 1020.73 L323.39 1020.78 L323.82 1020.82 L324.24 1020.86 L324.67 1020.9 L325.1 1020.94 L325.52 1020.97 L325.95 1021 L326.38 1021.03 L326.8 1021.06 L327.23 1021.08 L327.66 1021.11 L328.08 1021.13 L328.51 1021.15 L328.94 1021.17 L329.36 1021.19 L329.79 1021.21 L330.22 1021.23 L330.64 1021.24 L331.07 1021.26 L331.5 1021.28 L331.92 1021.29 L332.35 1021.3 L332.78 1021.32 L333.2 1021.33 L333.63 1021.34 L334.06 1021.35 L334.48 1021.36 L334.91 1021.37 L335.34 1021.38 L335.76 1021.39 L336.19 1021.4 L336.62 1021.41 L337.04 1021.42 L337.47 1021.43 L337.9 1021.44 L338.32 1021.45 L338.75 1021.46 L339.18 1021.46 L339.6 1021.47 L340.03 1021.48 L340.46 1021.49 L340.88 1021.49" fill="none" stroke="#000" stroke-width="1.1" stroke-linejoin="round"/>
<path d="M270.56 1021.8 L270.92 1018.67 L271.27 1016.03 L271.62 1013.81 L271.98 1011.93 L272.33 1010.34 L272.69 1009.01 L273.04 1007.88 L273.4 1006.92 L273.75 1006.12 L274.11 1005.44 L274.46 1004.87 L274.82 1004.38 L275.17 1003.97 L275.53 1003.62 L275.88 1003.33 L276.23 1003.08 L276.59 1002.87 L276.94 1002.69 L277.3 1002.54 L277.65 1002.41 L278.01 1002.3 L278.36 1002.21 L278.72 1002.13 L279.07 1002.06 L279.43 1002 L279.78 1001.95 L280.14 1001.9 L280.49 1001.86 L280.85 1001.83 L281.2 1001.8 L281.55 1001.78 L281.91 1001.75 L282.26 1001.73 L282.62 1001.72 L282.97 1001.7 L283.33 1001.68 L283.68 1001.67 L284.04 1001.66 L284.39 1001.65 L284.75 1001.64 L285.1 1001.63 L285.46 1001.62 L285.81 1001.61 L286.17 1001.6 L286.52 1001.59 L286.87 1001.58 L287.23 1001.57 L287.58 1001.57 L287.94 1001.56 L288.29 1001.55 L288.65 1001.54 L289 1001.54 L289.36 1001.53 L289.71 1001.52 L290.07 1001.51 L290.42 1001.51 L290.78 1001.5 L291.13 1001.49 L291.48 1001.49 L291.84 1001.48 L292.19 1001.47 L292.55 1001.46 L292.9 1001.46 L293.26 1001.45 L293.61 1001.44 L293.97 1001.44 L294.32 1001.43 L294.68 1001.42 L295.03 1001.42 L295.39 1001.41 L295.74 1001.4 L296.1 1001.4 L296.45 1001.39 L296.8 1001.38 L297.16 1001.38 L297.51 1001.37 L297.87 1001.36 L298.22 1001.35 L298.58 1001.35 L298.93 1001.34 L299.29 1001.33 L299.64 1001.33 L300 1001.32 L300.35 1001.31 L300.71 1001.31 L301.06 1001.3 L301.42 1001.29 L301.77 1001.29 L302.12 1001.28 L302.48 1001.27 L302.91 1003.09 L303.33 1004.74 L303.76 1006.25 L304.19 1007.61 L304.61 1008.85 L305.04 1009.98 L305.47 1011 L305.89 1011.93 L306.32 1012.78 L306.75 1013.55 L307.17 1014.25 L307.6 1014.89 L308.03 1015.47 L308.45 1016 L308.88 1016.48 L309.31 1016.91 L309.73 1017.31 L310.16 1017.67 L310.59 1018 L311.01 1018.3 L311.44 1018.58 L311.87 1018.83 L312.29 1019.05 L312.72 1019.26 L313.15 1019.45 L313.57 1019.62 L314 1019.78 L314.43 1019.92 L314.85 1020.05 L315.28 1020.18 L315.71 1020.29 L316.13 1020.39 L316.56 1020.48 L316.99 1020.56 L317.41 1020.64 L317.84 1020.71 L318.27 1020.78 L318.69 1020.84 L319.12 1020.89 L319.55 1020.94 L319.98 1020.99 L320.4 1021.03 L320.83 1021.07 L321.26 1021.11 L321.68 1021.14 L322.11 1021.17 L322.54 1021.2 L322.96 1021.23 L323.39 1021.25 L323.82 1021.28 L324.24 1021.3 L324.67 1021.32 L325.1 1021.34 L325.52 1021.36 L325.95 1021.37 L326.38 1021.39 L326.8 1021.4 L327.23 1021.42 L327.66 1021.43 L328.08 1021.44 L328.51 1021.45 L328.94 1021.46 L329.36 1021.47 L329.79 1021.48 L330.22 1021.49 L330.64 1021.5 L331.07 1021.51 L331.5 1021.52 L331.92 1021.53 L332.35 1021.53 L332.78 1021.54 L333.2 1021.55 L333.63 1021.55 L334.06 1021.56 L334.48 1021.57 L334.91 1021.57 L335.34 1021.58 L335.76 1021.58 L336.19 1021.59 L336.62 1021.59 L337.04 1021.6 L337.47 1021.6 L337.9 1021.61 L338.32 1021.61 L338.75 1021.62 L339.18 1021.62 L339.6 1021.62 L340.03 1021.63 L340.46 1021.63 L340.88 1021.64" fill="none" stroke="#000" stroke-width="1.1" stroke-linejoin="round"/>
<path d="M270.56 1021.8 L270.92 1020.21 L271.27 1018.86 L271.62 1017.73 L271.98 1016.78 L272.33 1015.97 L272.69 1015.29 L273.04 1014.71 L273.4 1014.23 L273.75 1013.82 L274.11 1013.47 L274.46 1013.18 L274.82 1012.93 L275.17 1012.72 L275.53 1012.55 L275.88 1012.4 L276.23 1012.27 L276.59 1012.16 L276.94 1012.07 L277.3 1012 L277.65 1011.93 L278.01 1011.87 L278.36 1011.83 L278.72 1011.79 L279.07 1011.75 L279.43 1011.72 L279.78 1011.69 L280.14 1011.67 L280.49 1011.65 L280.85 1011.64 L281.2 1011.62 L281.55 1011.61 L281.91 1011.6 L282.26 1011.59 L282.62 1011.58 L282.97 1011.57 L283.33 1011.56 L283.68 1011.55 L284.04 1011.55 L284.39 1011.54 L284.75 1011.54 L285.1 1011.53 L285.46 1011.53 L285.81 1011.52 L286.17 1011.52 L286.52 1011.51 L286.87 1011.51 L287.23 1011.5 L287.58 1011.5 L287.94 1011.5 L288.29 1011.49 L288.65 1011.49 L289 1011.49 L289.36 1011.48 L289.71 1011.48 L290.07 1011.47 L290.42 1011.47 L290.78 1011.47 L291.13 1011.46 L291.48 1011.46 L291.84 1011.46 L292.19 1011.45 L292.55 1011.45 L292.9 1011.45 L293.26 1011.44 L293.61 1011.44 L293.97 1011.43 L294.32 1011.43 L294.68 1011.43 L295.03 1011.42 L295.39 1011.42 L295.74 1011.42 L296.1 1011.41 L296.45 1011.41 L296.8 1011.41 L297.16 1011.4 L297.51 1011.4 L297.87 1011.4 L298.22 1011.39 L298.58 1011.39 L298.93 1011.39 L299.29 1011.38 L299.64 1011.38 L300 1011.38 L300.35 1011.37 L300.71 1011.37 L301.06 1011.37 L301.42 1011.36 L301.77 1011.36 L302.12 1011.35 L302.48 1011.35 L302.91 1012.28 L303.33 1013.12 L303.76 1013.88 L304.19 1014.58 L304.61 1015.21 L305.04 1015.78 L305.47 1016.3 L305.89 1016.78 L306.32 1017.21 L306.75 1017.6 L307.17 1017.96 L307.6 1018.28 L308.03 1018.58 L308.45 1018.85 L308.88 1019.09 L309.31 1019.31 L309.73 1019.51 L310.16 1019.7 L310.59 1019.87 L311.01 1020.02 L311.44 1020.16 L311.87 1020.29 L312.29 1020.4 L312.72 1020.51 L313.15 1020.6 L313.57 1020.69 L314 1020.77 L314.43 1020.84 L314.85 1020.91 L315.28 1020.97 L315.71 1021.03 L316.13 1021.08 L316.56 1021.13 L316.99 1021.17 L317.41 1021.21 L317.84 1021.25 L318.27 1021.28 L318.69 1021.31 L319.12 1021.34 L319.55 1021.36 L319.98 1021.39 L320.4 1021.41 L320.83 1021.43 L321.26 1021.45 L321.68 1021.47 L322.11 1021.48 L322.54 1021.5 L322.96 1021.51 L323.39 1021.52 L323.82 1021.53 L324.24 1021.55 L324.67 1021.56 L325.1 1021.57 L325.52 1021.57 L325.95 1021.58 L326.38 1021.59 L326.8 1021.6 L327.23 1021.61 L327.66 1021.61 L328.08 1021.62 L328.51 1021.62 L328.94 1021.63 L329.36 1021.63 L329.79 1021.64 L330.22 1021.64 L330.64 1021.65 L331.07 1021.65 L331.5 1021.66 L331.92 1021.66 L332.35 1021.66 L332.78 1021.67 L333.2 1021.67 L333.63 1021.67 L334.06 1021.68 L334.48 1021.68 L334.91 1021.68 L335.34 1021.69 L335.76 1021.69 L336.19 1021.69 L336.62 1021.69 L337.04 1021.7 L337.47 1021.7 L337.9 1021.7 L338.32 1021.7 L338.75 1021.71 L339.18 1021.71 L339.6 1021.71 L340.03 1021.71 L340.46 1021.71 L340.88 1021.72" fill="none" stroke="#000" stroke-width="1.1" stroke-linejoin="round"/>
<path d="M270.56 1021.8 L270.92 1020.95 L271.27 1020.24 L271.62 1019.64 L271.98 1019.13 L272.33 1018.7 L272.69 1018.34 L273.04 1018.04 L273.4 1017.78 L273.75 1017.56 L274.11 1017.38 L274.46 1017.22 L274.82 1017.09 L275.17 1016.98 L275.53 1016.89 L275.88 1016.81 L276.23 1016.74 L276.59 1016.68 L276.94 1016.64 L277.3 1016.59 L277.65 1016.56 L278.01 1016.53 L278.36 1016.5 L278.72 1016.48 L279.07 1016.46 L279.43 1016.45 L279.78 1016.43 L280.14 1016.42 L280.49 1016.41 L280.85 1016.4 L281.2 1016.4 L281.55 1016.39 L281.91 1016.38 L282.26 1016.38 L282.62 1016.37 L282.97 1016.37 L283.33 1016.36 L283.68 1016.36 L284.04 1016.36 L284.39 1016.35 L284.75 1016.35 L285.1 1016.35 L285.46 1016.34 L285.81 1016.34 L286.17 1016.34 L286.52 1016.34 L286.87 1016.34 L287.23 1016.33 L287.58 1016.33 L287.94 1016.33 L288.29 1016.33 L288.65 1016.33 L289 1016.32 L289.36 1016.32 L289.71 1016.32 L290.07 1016.32 L290.42 1016.32 L290.78 1016.31 L291.13 1016.31 L291.48 1016.31 L291.84 1016.31 L292.19 1016.31 L292.55 1016.3 L292.9 1016.3 L293.26 1016.3 L293.61 1016.3 L293.97 1016.3 L294.32 1016.29 L294.68 1016.29 L295.03 1016.29 L295.39 1016.29 L295.74 1016.29 L296.1 1016.29 L296.45 1016.28 L296.8 1016.28 L297.16 1016.28 L297.51 1016.28 L297.87 1016.28 L298.22 1016.27 L298.58 1016.27 L298.93 1016.27 L299.29 1016.27 L299.64 1016.27 L300 1016.26 L300.35 1016.26 L300.71 1016.26 L301.06 1016.26 L301.42 1016.26 L301.77 1016.26 L302.12 1016.25 L302.48 1016.25 L302.91 1016.74 L303.33 1017.19 L303.76 1017.6 L304.19 1017.97 L304.61 1018.3 L305.04 1018.6 L305.47 1018.88 L305.89 1019.13 L306.32 1019.36 L306.75 1019.57 L307.17 1019.76 L307.6 1019.93 L308.03 1020.09 L308.45 1020.23 L308.88 1020.36 L309.31 1020.48 L309.73 1020.59 L310.16 1020.68 L310.59 1020.77 L311.01 1020.85 L311.44 1020.93 L311.87 1021 L312.29 1021.06 L312.72 1021.11 L313.15 1021.16 L313.57 1021.21 L314 1021.25 L314.43 1021.29 L314.85 1021.33 L315.28 1021.36 L315.71 1021.39 L316.13 1021.42 L316.56 1021.44 L316.99 1021.47 L317.41 1021.49 L317.84 1021.51 L318.27 1021.52 L318.69 1021.54 L319.12 1021.55 L319.55 1021.57 L319.98 1021.58 L320.4 1021.59 L320.83 1021.6 L321.26 1021.61 L321.68 1021.62 L322.11 1021.63 L322.54 1021.64 L322.96 1021.65 L323.39 1021.65 L323.82 1021.66 L324.24 1021.66 L324.67 1021.67 L325.1 1021.68 L325.52 1021.68 L325.95 1021.68 L326.38 1021.69 L326.8 1021.69 L327.23 1021.7 L327.66 1021.7 L328.08 1021.7 L328.51 1021.71 L328.94 1021.71 L329.36 1021.71 L329.79 1021.71 L330.22 1021.72 L330.64 1021.72 L331.07 1021.72 L331.5 1021.72 L331.92 1021.73 L332.35 1021.73 L332.78 1021.73 L333.2 1021.73 L333.63 1021.73 L334.06 1021.74 L334.48 1021.74 L334.91 1021.74 L335.34 1021.74 L335.76 1021.74 L336.19 1021.74 L336.62 1021.74 L337.04 1021.75 L337.47 1021.75 L337.9 1021.75 L338.32 1021.75 L338.75 1021.75 L339.18 1021.75 L339.6 1021.75 L340.03 1021.75 L340.46 1021.75 L340.88 1021.76" fill="none" stroke="#000" stroke-width="1.1" stroke-linejoin="round"/>
<path d="M270.56 1021.8 L270.92 1021.38 L271.27 1021.02 L271.62 1020.72 L271.98 1020.47 L272.33 1020.25 L272.69 1020.07 L273.04 1019.92 L273.4 1019.79 L273.75 1019.68 L274.11 1019.59 L274.46 1019.51 L274.82 1019.45 L275.17 1019.39 L275.53 1019.34 L275.88 1019.3 L276.23 1019.27 L276.59 1019.24 L276.94 1019.22 L277.3 1019.2 L277.65 1019.18 L278.01 1019.16 L278.36 1019.15 L278.72 1019.14 L279.07 1019.13 L279.43 1019.12 L279.78 1019.12 L280.14 1019.11 L280.49 1019.11 L280.85 1019.1 L281.2 1019.1 L281.55 1019.09 L281.91 1019.09 L282.26 1019.09 L282.62 1019.09 L282.97 1019.08 L283.33 1019.08 L283.68 1019.08 L284.04 1019.08 L284.39 1019.08 L284.75 1019.08 L285.1 1019.07 L285.46 1019.07 L285.81 1019.07 L286.17 1019.07 L286.52 1019.07 L286.87 1019.07 L287.23 1019.07 L287.58 1019.07 L287.94 1019.06 L288.29 1019.06 L288.65 1019.06 L289 1019.06 L289.36 1019.06 L289.71 1019.06 L290.07 1019.06 L290.42 1019.06 L290.78 1019.06 L291.13 1019.06 L291.48 1019.05 L291.84 1019.05 L292.19 1019.05 L292.55 1019.05 L292.9 1019.05 L293.26 1019.05 L293.61 1019.05 L293.97 1019.05 L294.32 1019.05 L294.68 1019.05 L295.03 1019.05 L295.39 1019.04 L295.74 1019.04 L296.1 1019.04 L296.45 1019.04 L296.8 1019.04 L297.16 1019.04 L297.51 1019.04 L297.87 1019.04 L298.22 1019.04 L298.58 1019.04 L298.93 1019.04 L299.29 1019.03 L299.64 1019.03 L300 1019.03 L300.35 1019.03 L300.71 1019.03 L301.06 1019.03 L301.42 1019.03 L301.77 1019.03 L302.12 1019.03 L302.48 1019.03 L302.91 1019.27 L303.33 1019.5 L303.76 1019.7 L304.19 1019.88 L304.61 1020.05 L305.04 1020.2 L305.47 1020.34 L305.89 1020.47 L306.32 1020.58 L306.75 1020.69 L307.17 1020.78 L307.6 1020.87 L308.03 1020.94 L308.45 1021.02 L308.88 1021.08 L309.31 1021.14 L309.73 1021.19 L310.16 1021.24 L310.59 1021.29 L311.01 1021.33 L311.44 1021.36 L311.87 1021.4 L312.29 1021.43 L312.72 1021.46 L313.15 1021.48 L313.57 1021.51 L314 1021.53 L314.43 1021.55 L314.85 1021.56 L315.28 1021.58 L315.71 1021.6 L316.13 1021.61 L316.56 1021.62 L316.99 1021.63 L317.41 1021.64 L317.84 1021.65 L318.27 1021.66 L318.69 1021.67 L319.12 1021.68 L319.55 1021.68 L319.98 1021.69 L320.4 1021.7 L320.83 1021.7 L321.26 1021.71 L321.68 1021.71 L322.11 1021.72 L322.54 1021.72 L322.96 1021.72 L323.39 1021.73 L323.82 1021.73 L324.24 1021.73 L324.67 1021.74 L325.1 1021.74 L325.52 1021.74 L325.95 1021.74 L326.38 1021.74 L326.8 1021.75 L327.23 1021.75 L327.66 1021.75 L328.08 1021.75 L328.51 1021.75 L328.94 1021.75 L329.36 1021.76 L329.79 1021.76 L330.22 1021.76 L330.64 1021.76 L331.07 1021.76 L331.5 1021.76 L331.92 1021.76 L332.35 1021.76 L332.78 1021.77 L333.2 1021.77 L333.63 1021.77 L334.06 1021.77 L334.48 1021.77 L334.91 1021.77 L335.34 1021.77 L335.76 1021.77 L336.19 1021.77 L336.62 1021.77 L337.04 1021.77 L337.47 1021.77 L337.9 1021.77 L338.32 1021.77 L338.75 1021.78 L339.18 1021.78 L339.6 1021.78 L340.03 1021.78 L340.46 1021.78 L340.88 1021.78" fill="none" stroke="#000" stroke-width="1.1" stroke-linejoin="round"/>
<path d="M516.8 878.8V1018.8H726.8" fill="none" stroke="#000" stroke-width="1.7" stroke-linejoin="miter"/>
<path d="M512.6 1018.8H516.8M512.6 972.4H516.8M512.6 926H516.8M512.6 879.6H516.8M516.8 1018.8V1023M569.1 1018.8V1023M621.4 1018.8V1023M673.7 1018.8V1023M726 1018.8V1023" stroke="#000" stroke-width="1.7" fill="none"/>
<g class="b" font-size="15" text-anchor="end">
<text x="510.2" y="1024.1">0.0</text>
<text x="510.2" y="977.7">0.5</text>
<text x="510.2" y="931.3">1.0</text>
<text x="510.2" y="884.9">1.5</text>
<text transform="translate(520.2,1036) rotate(-45)">0</text>
<text transform="translate(572.5,1036) rotate(-45)">500</text>
<text transform="translate(624.8,1036) rotate(-45)">1000</text>
<text transform="translate(677.1,1036) rotate(-45)">1500</text>
<text transform="translate(729.4,1036) rotate(-45)">2000</text>
</g>
<text class="b" font-size="15" text-anchor="middle" x="621" y="857.2">mCXCL4 K56E</text>
<text class="b" font-size="15" text-anchor="middle" x="621.4" y="1079.5">Time (s)</text>
<text class="b" font-size="15" text-anchor="middle" transform="translate(482.8,951) rotate(-90)">Binding to Immobilised GAG (nm)</text>
<path d="M523.91 1018.8 L524.64 979.64 L525.36 955.72 L526.08 941.11 L526.8 932.18 L527.53 926.72 L528.25 923.37 L528.97 921.32 L529.7 920.06 L530.42 919.29 L531.14 918.8 L531.86 918.5 L532.59 918.3 L533.31 918.18 L534.03 918.09 L534.76 918.03 L535.48 917.98 L536.2 917.94 L536.93 917.91 L537.65 917.88 L538.37 917.86 L539.09 917.83 L539.82 917.81 L540.54 917.78 L541.26 917.76 L541.99 917.74 L542.71 917.71 L543.43 917.69 L544.15 917.67 L544.88 917.65 L545.6 917.62 L546.32 917.6 L547.05 917.58 L547.77 917.55 L548.49 917.53 L549.21 917.51 L549.94 917.49 L550.66 917.46 L551.38 917.44 L552.11 917.42 L552.83 917.4 L553.55 917.37 L554.27 917.35 L555 917.33 L555.72 917.3 L556.44 917.28 L557.17 917.26 L557.89 917.24 L558.61 917.21 L559.34 917.19 L560.06 917.17 L560.78 917.14 L561.5 917.12 L562.23 917.1 L562.95 917.08 L563.67 917.05 L564.4 917.03 L565.12 917.01 L565.84 916.99 L566.56 916.96 L567.29 916.94 L568.01 916.92 L568.73 916.89 L569.46 916.87 L570.18 916.85 L570.9 916.83 L571.62 916.8 L572.35 916.78 L573.07 916.76 L573.79 916.73 L574.52 916.71 L575.24 916.69 L575.96 916.67 L576.68 916.64 L577.41 916.62 L578.13 916.6 L578.85 916.58 L579.58 916.55 L580.3 916.53 L581.02 916.51 L581.74 916.48 L582.47 916.46 L583.19 916.44 L583.91 916.42 L584.64 916.39 L585.36 916.37 L586.08 916.35 L586.81 916.32 L587.53 916.3 L588.25 916.28 L588.97 916.26 L590.37 940.19 L591.76 958.05 L593.16 971.39 L594.55 981.37 L595.95 988.85 L597.34 994.46 L598.74 998.69 L600.13 1001.89 L601.53 1004.32 L602.92 1006.18 L604.32 1007.61 L605.71 1008.72 L607.1 1009.59 L608.5 1010.28 L609.89 1010.84 L611.29 1011.3 L612.68 1011.68 L614.08 1012.01 L615.47 1012.29 L616.87 1012.54 L618.26 1012.76 L619.66 1012.96 L621.05 1013.15 L622.45 1013.32 L623.84 1013.48 L625.24 1013.63 L626.63 1013.78 L628.02 1013.92 L629.42 1014.05 L630.81 1014.18 L632.21 1014.3 L633.6 1014.42 L635 1014.54 L636.39 1014.65 L637.79 1014.76 L639.18 1014.87 L640.58 1014.98 L641.97 1015.08 L643.37 1015.17 L644.76 1015.27 L646.16 1015.36 L647.55 1015.45 L648.94 1015.54 L650.34 1015.63 L651.73 1015.71 L653.13 1015.79 L654.52 1015.87 L655.92 1015.95 L657.31 1016.02 L658.71 1016.1 L660.1 1016.17 L661.5 1016.24 L662.89 1016.3 L664.29 1016.37 L665.68 1016.43 L667.08 1016.5 L668.47 1016.56 L669.86 1016.62 L671.26 1016.67 L672.65 1016.73 L674.05 1016.78 L675.44 1016.84 L676.84 1016.89 L678.23 1016.94 L679.63 1016.99 L681.02 1017.04 L682.42 1017.08 L683.81 1017.13 L685.21 1017.17 L686.6 1017.21 L688 1017.26 L689.39 1017.3 L690.78 1017.34 L692.18 1017.37 L693.57 1017.41 L694.97 1017.45 L696.36 1017.48 L697.76 1017.52 L699.15 1017.55 L700.55 1017.59 L701.94 1017.62 L703.34 1017.65 L704.73 1017.68 L706.13 1017.71 L707.52 1017.74 L708.92 1017.77 L710.31 1017.79 L711.7 1017.82 L713.1 1017.84 L714.49 1017.87" fill="none" stroke="#a020a0" stroke-width="3.9" stroke-linejoin="round" stroke-linecap="round"/>
<path d="M523.91 1018.8 L524.64 993.21 L525.36 977.58 L526.08 968.04 L526.8 962.2 L527.53 958.63 L528.25 956.45 L528.97 955.11 L529.7 954.29 L530.42 953.78 L531.14 953.46 L531.86 953.26 L532.59 953.14 L533.31 953.05 L534.03 953 L534.76 952.96 L535.48 952.92 L536.2 952.9 L536.93 952.88 L537.65 952.86 L538.37 952.84 L539.09 952.83 L539.82 952.81 L540.54 952.8 L541.26 952.78 L541.99 952.77 L542.71 952.75 L543.43 952.74 L544.15 952.72 L544.88 952.71 L545.6 952.69 L546.32 952.68 L547.05 952.66 L547.77 952.65 L548.49 952.63 L549.21 952.62 L549.94 952.6 L550.66 952.59 L551.38 952.57 L552.11 952.56 L552.83 952.54 L553.55 952.53 L554.27 952.51 L555 952.5 L555.72 952.48 L556.44 952.47 L557.17 952.45 L557.89 952.44 L558.61 952.42 L559.34 952.41 L560.06 952.39 L560.78 952.38 L561.5 952.36 L562.23 952.35 L562.95 952.33 L563.67 952.32 L564.4 952.3 L565.12 952.29 L565.84 952.27 L566.56 952.26 L567.29 952.25 L568.01 952.23 L568.73 952.22 L569.46 952.2 L570.18 952.19 L570.9 952.17 L571.62 952.16 L572.35 952.14 L573.07 952.13 L573.79 952.11 L574.52 952.1 L575.24 952.08 L575.96 952.07 L576.68 952.05 L577.41 952.04 L578.13 952.02 L578.85 952.01 L579.58 951.99 L580.3 951.98 L581.02 951.96 L581.74 951.95 L582.47 951.93 L583.19 951.92 L583.91 951.9 L584.64 951.89 L585.36 951.87 L586.08 951.86 L586.81 951.84 L587.53 951.83 L588.25 951.81 L588.97 951.8 L590.37 967.44 L591.76 979.11 L593.16 987.82 L594.55 994.34 L595.95 999.23 L597.34 1002.9 L598.74 1005.66 L600.13 1007.75 L601.53 1009.34 L602.92 1010.55 L604.32 1011.49 L605.71 1012.21 L607.1 1012.78 L608.5 1013.23 L609.89 1013.6 L611.29 1013.9 L612.68 1014.15 L614.08 1014.36 L615.47 1014.55 L616.87 1014.71 L618.26 1014.85 L619.66 1014.98 L621.05 1015.11 L622.45 1015.22 L623.84 1015.32 L625.24 1015.42 L626.63 1015.52 L628.02 1015.61 L629.42 1015.7 L630.81 1015.78 L632.21 1015.86 L633.6 1015.94 L635 1016.02 L636.39 1016.09 L637.79 1016.16 L639.18 1016.23 L640.58 1016.3 L641.97 1016.37 L643.37 1016.43 L644.76 1016.49 L646.16 1016.55 L647.55 1016.61 L648.94 1016.67 L650.34 1016.73 L651.73 1016.78 L653.13 1016.83 L654.52 1016.89 L655.92 1016.94 L657.31 1016.99 L658.71 1017.03 L660.1 1017.08 L661.5 1017.13 L662.89 1017.17 L664.29 1017.21 L665.68 1017.25 L667.08 1017.29 L668.47 1017.33 L669.86 1017.37 L671.26 1017.41 L672.65 1017.45 L674.05 1017.48 L675.44 1017.52 L676.84 1017.55 L678.23 1017.58 L679.63 1017.62 L681.02 1017.65 L682.42 1017.68 L683.81 1017.71 L685.21 1017.74 L686.6 1017.76 L688 1017.79 L689.39 1017.82 L690.78 1017.84 L692.18 1017.87 L693.57 1017.89 L694.97 1017.92 L696.36 1017.94 L697.76 1017.96 L699.15 1017.98 L700.55 1018.01 L701.94 1018.03 L703.34 1018.05 L704.73 1018.07 L706.13 1018.09 L707.52 1018.11 L708.92 1018.12 L710.31 1018.14 L711.7 1018.16 L713.1 1018.18 L714.49 1018.19" fill="none" stroke="#a020a0" stroke-width="3.9" stroke-linejoin="round" stroke-linecap="round"/>
<path d="M523.91 1018.8 L524.64 1001.15 L525.36 990.37 L526.08 983.79 L526.8 979.76 L527.53 977.3 L528.25 975.79 L528.97 974.87 L529.7 974.3 L530.42 973.95 L531.14 973.73 L531.86 973.6 L532.59 973.51 L533.31 973.45 L534.03 973.41 L534.76 973.38 L535.48 973.36 L536.2 973.35 L536.93 973.33 L537.65 973.32 L538.37 973.31 L539.09 973.3 L539.82 973.28 L540.54 973.27 L541.26 973.26 L541.99 973.25 L542.71 973.24 L543.43 973.23 L544.15 973.22 L544.88 973.21 L545.6 973.2 L546.32 973.19 L547.05 973.18 L547.77 973.17 L548.49 973.16 L549.21 973.15 L549.94 973.14 L550.66 973.13 L551.38 973.12 L552.11 973.11 L552.83 973.1 L553.55 973.09 L554.27 973.08 L555 973.07 L555.72 973.06 L556.44 973.05 L557.17 973.04 L557.89 973.03 L558.61 973.02 L559.34 973.01 L560.06 973 L560.78 972.99 L561.5 972.98 L562.23 972.97 L562.95 972.96 L563.67 972.95 L564.4 972.93 L565.12 972.92 L565.84 972.91 L566.56 972.9 L567.29 972.89 L568.01 972.88 L568.73 972.87 L569.46 972.86 L570.18 972.85 L570.9 972.84 L571.62 972.83 L572.35 972.82 L573.07 972.81 L573.79 972.8 L574.52 972.79 L575.24 972.78 L575.96 972.77 L576.68 972.76 L577.41 972.75 L578.13 972.74 L578.85 972.73 L579.58 972.72 L580.3 972.71 L581.02 972.7 L581.74 972.69 L582.47 972.68 L583.19 972.67 L583.91 972.66 L584.64 972.65 L585.36 972.64 L586.08 972.63 L586.81 972.62 L587.53 972.61 L588.25 972.6 L588.97 972.59 L590.37 983.37 L591.76 991.42 L593.16 997.43 L594.55 1001.93 L595.95 1005.3 L597.34 1007.83 L598.74 1009.74 L600.13 1011.18 L601.53 1012.27 L602.92 1013.11 L604.32 1013.76 L605.71 1014.26 L607.1 1014.65 L608.5 1014.96 L609.89 1015.21 L611.29 1015.42 L612.68 1015.59 L614.08 1015.74 L615.47 1015.87 L616.87 1015.98 L618.26 1016.08 L619.66 1016.17 L621.05 1016.25 L622.45 1016.33 L623.84 1016.4 L625.24 1016.47 L626.63 1016.54 L628.02 1016.6 L629.42 1016.66 L630.81 1016.72 L632.21 1016.77 L633.6 1016.83 L635 1016.88 L636.39 1016.93 L637.79 1016.98 L639.18 1017.03 L640.58 1017.08 L641.97 1017.12 L643.37 1017.17 L644.76 1017.21 L646.16 1017.25 L647.55 1017.29 L648.94 1017.33 L650.34 1017.37 L651.73 1017.41 L653.13 1017.44 L654.52 1017.48 L655.92 1017.52 L657.31 1017.55 L658.71 1017.58 L660.1 1017.61 L661.5 1017.65 L662.89 1017.68 L664.29 1017.71 L665.68 1017.73 L667.08 1017.76 L668.47 1017.79 L669.86 1017.82 L671.26 1017.84 L672.65 1017.87 L674.05 1017.89 L675.44 1017.92 L676.84 1017.94 L678.23 1017.96 L679.63 1017.98 L681.02 1018 L682.42 1018.03 L683.81 1018.05 L685.21 1018.07 L686.6 1018.09 L688 1018.1 L689.39 1018.12 L690.78 1018.14 L692.18 1018.16 L693.57 1018.17 L694.97 1018.19 L696.36 1018.21 L697.76 1018.22 L699.15 1018.24 L700.55 1018.25 L701.94 1018.27 L703.34 1018.28 L704.73 1018.29 L706.13 1018.31 L707.52 1018.32 L708.92 1018.33 L710.31 1018.35 L711.7 1018.36 L713.1 1018.37 L714.49 1018.38" fill="none" stroke="#a020a0" stroke-width="3.9" stroke-linejoin="round" stroke-linecap="round"/>
<path d="M523.91 1018.8 L524.64 1010.01 L525.36 1004.64 L526.08 1001.36 L526.8 999.36 L527.53 998.13 L528.25 997.38 L528.97 996.92 L529.7 996.64 L530.42 996.47 L531.14 996.36 L531.86 996.29 L532.59 996.25 L533.31 996.22 L534.03 996.2 L534.76 996.18 L535.48 996.17 L536.2 996.16 L536.93 996.16 L537.65 996.15 L538.37 996.14 L539.09 996.14 L539.82 996.13 L540.54 996.13 L541.26 996.12 L541.99 996.12 L542.71 996.11 L543.43 996.11 L544.15 996.1 L544.88 996.1 L545.6 996.09 L546.32 996.09 L547.05 996.08 L547.77 996.08 L548.49 996.07 L549.21 996.07 L549.94 996.06 L550.66 996.06 L551.38 996.05 L552.11 996.05 L552.83 996.04 L553.55 996.04 L554.27 996.03 L555 996.03 L555.72 996.02 L556.44 996.02 L557.17 996.01 L557.89 996.01 L558.61 996 L559.34 996 L560.06 995.99 L560.78 995.99 L561.5 995.98 L562.23 995.97 L562.95 995.97 L563.67 995.96 L564.4 995.96 L565.12 995.95 L565.84 995.95 L566.56 995.94 L567.29 995.94 L568.01 995.93 L568.73 995.93 L569.46 995.92 L570.18 995.92 L570.9 995.91 L571.62 995.91 L572.35 995.9 L573.07 995.9 L573.79 995.89 L574.52 995.89 L575.24 995.88 L575.96 995.88 L576.68 995.87 L577.41 995.87 L578.13 995.86 L578.85 995.86 L579.58 995.85 L580.3 995.85 L581.02 995.84 L581.74 995.84 L582.47 995.83 L583.19 995.83 L583.91 995.82 L584.64 995.82 L585.36 995.81 L586.08 995.81 L586.81 995.8 L587.53 995.8 L588.25 995.79 L588.97 995.79 L590.37 1000.63 L591.76 1004.26 L593.16 1006.98 L594.55 1009.03 L595.95 1010.59 L597.34 1011.77 L598.74 1012.67 L600.13 1013.36 L601.53 1013.9 L602.92 1014.32 L604.32 1014.66 L605.71 1014.93 L607.1 1015.15 L608.5 1015.34 L609.89 1015.5 L611.29 1015.64 L612.68 1015.76 L614.08 1015.86 L615.47 1015.96 L616.87 1016.05 L618.26 1016.13 L619.66 1016.21 L621.05 1016.29 L622.45 1016.36 L623.84 1016.43 L625.24 1016.49 L626.63 1016.55 L628.02 1016.61 L629.42 1016.67 L630.81 1016.73 L632.21 1016.78 L633.6 1016.84 L635 1016.89 L636.39 1016.94 L637.79 1016.99 L639.18 1017.04 L640.58 1017.08 L641.97 1017.13 L643.37 1017.17 L644.76 1017.22 L646.16 1017.26 L647.55 1017.3 L648.94 1017.34 L650.34 1017.38 L651.73 1017.41 L653.13 1017.45 L654.52 1017.49 L655.92 1017.52 L657.31 1017.55 L658.71 1017.59 L660.1 1017.62 L661.5 1017.65 L662.89 1017.68 L664.29 1017.71 L665.68 1017.74 L667.08 1017.77 L668.47 1017.79 L669.86 1017.82 L671.26 1017.85 L672.65 1017.87 L674.05 1017.9 L675.44 1017.92 L676.84 1017.94 L678.23 1017.96 L679.63 1017.99 L681.02 1018.01 L682.42 1018.03 L683.81 1018.05 L685.21 1018.07 L686.6 1018.09 L688 1018.11 L689.39 1018.13 L690.78 1018.14 L692.18 1018.16 L693.57 1018.18 L694.97 1018.19 L696.36 1018.21 L697.76 1018.22 L699.15 1018.24 L700.55 1018.25 L701.94 1018.27 L703.34 1018.28 L704.73 1018.3 L706.13 1018.31 L707.52 1018.32 L708.92 1018.34 L710.31 1018.35 L711.7 1018.36 L713.1 1018.37 L714.49 1018.38" fill="none" stroke="#a020a0" stroke-width="3.9" stroke-linejoin="round" stroke-linecap="round"/>
<path d="M523.91 1018.8 L524.64 1015.26 L525.36 1013.09 L526.08 1011.77 L526.8 1010.96 L527.53 1010.47 L528.25 1010.16 L528.97 1009.98 L529.7 1009.86 L530.42 1009.79 L531.14 1009.75 L531.86 1009.72 L532.59 1009.71 L533.31 1009.69 L534.03 1009.69 L534.76 1009.68 L535.48 1009.68 L536.2 1009.67 L536.93 1009.67 L537.65 1009.67 L538.37 1009.66 L539.09 1009.66 L539.82 1009.66 L540.54 1009.66 L541.26 1009.66 L541.99 1009.65 L542.71 1009.65 L543.43 1009.65 L544.15 1009.65 L544.88 1009.65 L545.6 1009.64 L546.32 1009.64 L547.05 1009.64 L547.77 1009.64 L548.49 1009.64 L549.21 1009.63 L549.94 1009.63 L550.66 1009.63 L551.38 1009.63 L552.11 1009.63 L552.83 1009.62 L553.55 1009.62 L554.27 1009.62 L555 1009.62 L555.72 1009.61 L556.44 1009.61 L557.17 1009.61 L557.89 1009.61 L558.61 1009.61 L559.34 1009.6 L560.06 1009.6 L560.78 1009.6 L561.5 1009.6 L562.23 1009.6 L562.95 1009.59 L563.67 1009.59 L564.4 1009.59 L565.12 1009.59 L565.84 1009.59 L566.56 1009.58 L567.29 1009.58 L568.01 1009.58 L568.73 1009.58 L569.46 1009.58 L570.18 1009.57 L570.9 1009.57 L571.62 1009.57 L572.35 1009.57 L573.07 1009.57 L573.79 1009.56 L574.52 1009.56 L575.24 1009.56 L575.96 1009.56 L576.68 1009.56 L577.41 1009.55 L578.13 1009.55 L578.85 1009.55 L579.58 1009.55 L580.3 1009.54 L581.02 1009.54 L581.74 1009.54 L582.47 1009.54 L583.19 1009.54 L583.91 1009.53 L584.64 1009.53 L585.36 1009.53 L586.08 1009.53 L586.81 1009.53 L587.53 1009.52 L588.25 1009.52 L588.97 1009.52 L590.37 1011.47 L591.76 1012.94 L593.16 1014.03 L594.55 1014.86 L595.95 1015.49 L597.34 1015.96 L598.74 1016.33 L600.13 1016.61 L601.53 1016.82 L602.92 1016.99 L604.32 1017.13 L605.71 1017.24 L607.1 1017.33 L608.5 1017.41 L609.89 1017.47 L611.29 1017.52 L612.68 1017.57 L614.08 1017.62 L615.47 1017.66 L616.87 1017.69 L618.26 1017.73 L619.66 1017.76 L621.05 1017.79 L622.45 1017.82 L623.84 1017.84 L625.24 1017.87 L626.63 1017.89 L628.02 1017.92 L629.42 1017.94 L630.81 1017.97 L632.21 1017.99 L633.6 1018.01 L635 1018.03 L636.39 1018.05 L637.79 1018.07 L639.18 1018.09 L640.58 1018.11 L641.97 1018.13 L643.37 1018.14 L644.76 1018.16 L646.16 1018.18 L647.55 1018.19 L648.94 1018.21 L650.34 1018.23 L651.73 1018.24 L653.13 1018.26 L654.52 1018.27 L655.92 1018.28 L657.31 1018.3 L658.71 1018.31 L660.1 1018.32 L661.5 1018.34 L662.89 1018.35 L664.29 1018.36 L665.68 1018.37 L667.08 1018.38 L668.47 1018.39 L669.86 1018.4 L671.26 1018.42 L672.65 1018.43 L674.05 1018.44 L675.44 1018.44 L676.84 1018.45 L678.23 1018.46 L679.63 1018.47 L681.02 1018.48 L682.42 1018.49 L683.81 1018.5 L685.21 1018.51 L686.6 1018.51 L688 1018.52 L689.39 1018.53 L690.78 1018.54 L692.18 1018.54 L693.57 1018.55 L694.97 1018.56 L696.36 1018.56 L697.76 1018.57 L699.15 1018.57 L700.55 1018.58 L701.94 1018.59 L703.34 1018.59 L704.73 1018.6 L706.13 1018.6 L707.52 1018.61 L708.92 1018.61 L710.31 1018.62 L711.7 1018.62 L713.1 1018.63 L714.49 1018.63" fill="none" stroke="#a020a0" stroke-width="3.9" stroke-linejoin="round" stroke-linecap="round"/>
<path d="M523.91 1018.8 L524.64 1017.74 L525.36 1017.09 L526.08 1016.69 L526.8 1016.45 L527.53 1016.3 L528.25 1016.21 L528.97 1016.15 L529.7 1016.12 L530.42 1016.1 L531.14 1016.09 L531.86 1016.08 L532.59 1016.07 L533.31 1016.07 L534.03 1016.07 L534.76 1016.06 L535.48 1016.06 L536.2 1016.06 L536.93 1016.06 L537.65 1016.06 L538.37 1016.06 L539.09 1016.06 L539.82 1016.06 L540.54 1016.06 L541.26 1016.06 L541.99 1016.06 L542.71 1016.06 L543.43 1016.05 L544.15 1016.05 L544.88 1016.05 L545.6 1016.05 L546.32 1016.05 L547.05 1016.05 L547.77 1016.05 L548.49 1016.05 L549.21 1016.05 L549.94 1016.05 L550.66 1016.05 L551.38 1016.05 L552.11 1016.05 L552.83 1016.05 L553.55 1016.05 L554.27 1016.05 L555 1016.05 L555.72 1016.04 L556.44 1016.04 L557.17 1016.04 L557.89 1016.04 L558.61 1016.04 L559.34 1016.04 L560.06 1016.04 L560.78 1016.04 L561.5 1016.04 L562.23 1016.04 L562.95 1016.04 L563.67 1016.04 L564.4 1016.04 L565.12 1016.04 L565.84 1016.04 L566.56 1016.04 L567.29 1016.03 L568.01 1016.03 L568.73 1016.03 L569.46 1016.03 L570.18 1016.03 L570.9 1016.03 L571.62 1016.03 L572.35 1016.03 L573.07 1016.03 L573.79 1016.03 L574.52 1016.03 L575.24 1016.03 L575.96 1016.03 L576.68 1016.03 L577.41 1016.03 L578.13 1016.03 L578.85 1016.02 L579.58 1016.02 L580.3 1016.02 L581.02 1016.02 L581.74 1016.02 L582.47 1016.02 L583.19 1016.02 L583.91 1016.02 L584.64 1016.02 L585.36 1016.02 L586.08 1016.02 L586.81 1016.02 L587.53 1016.02 L588.25 1016.02 L588.97 1016.02 L590.37 1016.6 L591.76 1017.04 L593.16 1017.37 L594.55 1017.62 L595.95 1017.81 L597.34 1017.95 L598.74 1018.06 L600.13 1018.14 L601.53 1018.21 L602.92 1018.26 L604.32 1018.3 L605.71 1018.33 L607.1 1018.36 L608.5 1018.38 L609.89 1018.4 L611.29 1018.42 L612.68 1018.43 L614.08 1018.44 L615.47 1018.46 L616.87 1018.47 L618.26 1018.48 L619.66 1018.49 L621.05 1018.5 L622.45 1018.5 L623.84 1018.51 L625.24 1018.52 L626.63 1018.53 L628.02 1018.54 L629.42 1018.54 L630.81 1018.55 L632.21 1018.56 L633.6 1018.56 L635 1018.57 L636.39 1018.58 L637.79 1018.58 L639.18 1018.59 L640.58 1018.59 L641.97 1018.6 L643.37 1018.6 L644.76 1018.61 L646.16 1018.61 L647.55 1018.62 L648.94 1018.62 L650.34 1018.63 L651.73 1018.63 L653.13 1018.64 L654.52 1018.64 L655.92 1018.65 L657.31 1018.65 L658.71 1018.65 L660.1 1018.66 L661.5 1018.66 L662.89 1018.66 L664.29 1018.67 L665.68 1018.67 L667.08 1018.67 L668.47 1018.68 L669.86 1018.68 L671.26 1018.68 L672.65 1018.69 L674.05 1018.69 L675.44 1018.69 L676.84 1018.7 L678.23 1018.7 L679.63 1018.7 L681.02 1018.7 L682.42 1018.71 L683.81 1018.71 L685.21 1018.71 L686.6 1018.71 L688 1018.72 L689.39 1018.72 L690.78 1018.72 L692.18 1018.72 L693.57 1018.72 L694.97 1018.73 L696.36 1018.73 L697.76 1018.73 L699.15 1018.73 L700.55 1018.73 L701.94 1018.74 L703.34 1018.74 L704.73 1018.74 L706.13 1018.74 L707.52 1018.74 L708.92 1018.74 L710.31 1018.75 L711.7 1018.75 L713.1 1018.75 L714.49 1018.75" fill="none" stroke="#a020a0" stroke-width="3.9" stroke-linejoin="round" stroke-linecap="round"/>
<path d="M525.17 1018.8 L525.87 975.18 L526.58 950.33 L527.29 936.17 L527.99 928.1 L528.7 923.49 L529.41 920.86 L530.11 919.36 L530.82 918.5 L531.53 918 L532.23 917.71 L532.94 917.54 L533.65 917.44 L534.35 917.38 L535.06 917.33 L535.77 917.3 L536.47 917.28 L537.18 917.26 L537.89 917.24 L538.59 917.23 L539.3 917.21 L540.01 917.2 L540.71 917.19 L541.42 917.17 L542.13 917.16 L542.83 917.14 L543.54 917.13 L544.25 917.12 L544.95 917.1 L545.66 917.09 L546.37 917.08 L547.07 917.06 L547.78 917.05 L548.49 917.04 L549.19 917.02 L549.9 917.01 L550.61 916.99 L551.31 916.98 L552.02 916.97 L552.73 916.95 L553.43 916.94 L554.14 916.93 L554.85 916.91 L555.55 916.9 L556.26 916.88 L556.97 916.87 L557.67 916.86 L558.38 916.84 L559.09 916.83 L559.79 916.82 L560.5 916.8 L561.21 916.79 L561.91 916.78 L562.62 916.76 L563.33 916.75 L564.03 916.73 L564.74 916.72 L565.45 916.71 L566.15 916.69 L566.86 916.68 L567.57 916.67 L568.27 916.65 L568.98 916.64 L569.69 916.63 L570.39 916.61 L571.1 916.6 L571.81 916.58 L572.51 916.57 L573.22 916.56 L573.93 916.54 L574.63 916.53 L575.34 916.52 L576.05 916.5 L576.75 916.49 L577.46 916.47 L578.17 916.46 L578.87 916.45 L579.58 916.43 L580.29 916.42 L580.99 916.41 L581.7 916.39 L582.41 916.38 L583.11 916.37 L583.82 916.35 L584.53 916.34 L585.23 916.32 L585.94 916.31 L586.64 916.3 L587.35 916.28 L588.06 916.27 L588.76 916.26 L589.24 926.96 L589.72 936.52 L590.2 945.05 L590.68 952.66 L591.16 959.45 L591.64 965.52 L592.12 970.93 L592.6 975.76 L593.07 980.08 L593.55 983.93 L594.03 987.38 L594.51 990.45 L594.99 993.2 L595.47 995.66 L595.95 997.85 L596.43 999.81 L596.91 1001.57 L597.38 1003.14 L597.86 1004.54 L598.34 1005.8 L598.82 1006.92 L599.3 1007.93 L599.78 1008.83 L600.26 1009.64 L600.74 1010.37 L601.21 1011.02 L601.69 1011.6 L602.17 1012.13 L602.65 1012.6 L603.13 1013.03 L603.61 1013.41 L604.09 1013.76 L604.57 1014.07 L605.05 1014.35 L605.52 1014.6 L606 1014.83 L606.48 1015.04 L606.96 1015.23 L607.44 1015.4 L607.92 1015.56 L608.4 1015.7 L608.88 1015.83 L609.35 1015.95 L609.83 1016.06 L610.31 1016.16 L610.79 1016.26 L611.27 1016.34 L611.75 1016.42 L612.23 1016.5 L612.71 1016.57 L613.19 1016.63 L613.66 1016.69 L614.14 1016.74 L614.62 1016.8 L615.1 1016.85 L615.58 1016.89 L616.06 1016.94 L616.54 1016.98 L617.02 1017.02 L617.49 1017.06 L617.97 1017.09 L618.45 1017.13 L618.93 1017.16 L619.41 1017.19 L619.89 1017.22 L620.37 1017.25 L620.85 1017.28 L621.33 1017.31 L621.8 1017.33 L622.28 1017.36 L622.76 1017.38 L623.24 1017.41 L623.72 1017.43 L624.2 1017.45 L624.68 1017.48 L625.16 1017.5 L625.64 1017.52 L626.11 1017.54 L626.59 1017.56 L627.07 1017.58 L627.55 1017.6 L628.03 1017.62 L628.51 1017.64 L628.99 1017.66 L629.47 1017.67 L629.94 1017.69 L630.42 1017.71 L630.9 1017.72 L631.38 1017.74 L631.86 1017.76" fill="none" stroke="#000" stroke-width="1.1" stroke-linejoin="round"/>
<path d="M525.17 1018.8 L525.87 990.3 L526.58 974.06 L527.29 964.81 L527.99 959.53 L528.7 956.53 L529.41 954.81 L530.11 953.83 L530.82 953.26 L531.53 952.94 L532.23 952.75 L532.94 952.64 L533.65 952.57 L534.35 952.53 L535.06 952.5 L535.77 952.48 L536.47 952.47 L537.18 952.46 L537.89 952.44 L538.59 952.43 L539.3 952.42 L540.01 952.42 L540.71 952.41 L541.42 952.4 L542.13 952.39 L542.83 952.38 L543.54 952.37 L544.25 952.36 L544.95 952.35 L545.66 952.34 L546.37 952.33 L547.07 952.33 L547.78 952.32 L548.49 952.31 L549.19 952.3 L549.9 952.29 L550.61 952.28 L551.31 952.27 L552.02 952.26 L552.73 952.25 L553.43 952.25 L554.14 952.24 L554.85 952.23 L555.55 952.22 L556.26 952.21 L556.97 952.2 L557.67 952.19 L558.38 952.18 L559.09 952.17 L559.79 952.16 L560.5 952.16 L561.21 952.15 L561.91 952.14 L562.62 952.13 L563.33 952.12 L564.03 952.11 L564.74 952.1 L565.45 952.09 L566.15 952.08 L566.86 952.08 L567.57 952.07 L568.27 952.06 L568.98 952.05 L569.69 952.04 L570.39 952.03 L571.1 952.02 L571.81 952.01 L572.51 952 L573.22 951.99 L573.93 951.99 L574.63 951.98 L575.34 951.97 L576.05 951.96 L576.75 951.95 L577.46 951.94 L578.17 951.93 L578.87 951.92 L579.58 951.91 L580.29 951.91 L580.99 951.9 L581.7 951.89 L582.41 951.88 L583.11 951.87 L583.82 951.86 L584.53 951.85 L585.23 951.84 L585.94 951.83 L586.64 951.83 L587.35 951.82 L588.06 951.81 L588.76 951.8 L589.24 958.79 L589.72 965.04 L590.2 970.61 L590.68 975.58 L591.16 980.02 L591.64 983.98 L592.12 987.52 L592.6 990.68 L593.07 993.5 L593.55 996.02 L594.03 998.27 L594.51 1000.28 L594.99 1002.07 L595.47 1003.68 L595.95 1005.11 L596.43 1006.39 L596.91 1007.54 L597.38 1008.57 L597.86 1009.48 L598.34 1010.3 L598.82 1011.04 L599.3 1011.7 L599.78 1012.29 L600.26 1012.82 L600.74 1013.29 L601.21 1013.72 L601.69 1014.1 L602.17 1014.44 L602.65 1014.75 L603.13 1015.03 L603.61 1015.28 L604.09 1015.5 L604.57 1015.71 L605.05 1015.89 L605.52 1016.06 L606 1016.21 L606.48 1016.34 L606.96 1016.47 L607.44 1016.58 L607.92 1016.68 L608.4 1016.78 L608.88 1016.86 L609.35 1016.94 L609.83 1017.01 L610.31 1017.08 L610.79 1017.14 L611.27 1017.2 L611.75 1017.25 L612.23 1017.3 L612.71 1017.34 L613.19 1017.38 L613.66 1017.42 L614.14 1017.46 L614.62 1017.49 L615.1 1017.52 L615.58 1017.55 L616.06 1017.58 L616.54 1017.61 L617.02 1017.64 L617.49 1017.66 L617.97 1017.68 L618.45 1017.71 L618.93 1017.73 L619.41 1017.75 L619.89 1017.77 L620.37 1017.79 L620.85 1017.81 L621.33 1017.82 L621.8 1017.84 L622.28 1017.86 L622.76 1017.87 L623.24 1017.89 L623.72 1017.91 L624.2 1017.92 L624.68 1017.93 L625.16 1017.95 L625.64 1017.96 L626.11 1017.98 L626.59 1017.99 L627.07 1018 L627.55 1018.02 L628.03 1018.03 L628.51 1018.04 L628.99 1018.05 L629.47 1018.06 L629.94 1018.08 L630.42 1018.09 L630.9 1018.1 L631.38 1018.11 L631.86 1018.12" fill="none" stroke="#000" stroke-width="1.1" stroke-linejoin="round"/>
<path d="M525.17 1018.8 L525.87 999.14 L526.58 987.94 L527.29 981.56 L527.99 977.92 L528.7 975.85 L529.41 974.66 L530.11 973.99 L530.82 973.6 L531.53 973.37 L532.23 973.24 L532.94 973.17 L533.65 973.12 L534.35 973.09 L535.06 973.07 L535.77 973.06 L536.47 973.05 L537.18 973.04 L537.89 973.03 L538.59 973.02 L539.3 973.02 L540.01 973.01 L540.71 973 L541.42 973 L542.13 972.99 L542.83 972.99 L543.54 972.98 L544.25 972.97 L544.95 972.97 L545.66 972.96 L546.37 972.96 L547.07 972.95 L547.78 972.94 L548.49 972.94 L549.19 972.93 L549.9 972.92 L550.61 972.92 L551.31 972.91 L552.02 972.91 L552.73 972.9 L553.43 972.89 L554.14 972.89 L554.85 972.88 L555.55 972.88 L556.26 972.87 L556.97 972.86 L557.67 972.86 L558.38 972.85 L559.09 972.84 L559.79 972.84 L560.5 972.83 L561.21 972.83 L561.91 972.82 L562.62 972.81 L563.33 972.81 L564.03 972.8 L564.74 972.8 L565.45 972.79 L566.15 972.78 L566.86 972.78 L567.57 972.77 L568.27 972.76 L568.98 972.76 L569.69 972.75 L570.39 972.75 L571.1 972.74 L571.81 972.73 L572.51 972.73 L573.22 972.72 L573.93 972.72 L574.63 972.71 L575.34 972.7 L576.05 972.7 L576.75 972.69 L577.46 972.68 L578.17 972.68 L578.87 972.67 L579.58 972.67 L580.29 972.66 L580.99 972.65 L581.7 972.65 L582.41 972.64 L583.11 972.63 L583.82 972.63 L584.53 972.62 L585.23 972.62 L585.94 972.61 L586.64 972.6 L587.35 972.6 L588.06 972.59 L588.76 972.59 L589.24 977.41 L589.72 981.72 L590.2 985.56 L590.68 988.99 L591.16 992.05 L591.64 994.79 L592.12 997.23 L592.6 999.4 L593.07 1001.35 L593.55 1003.09 L594.03 1004.64 L594.51 1006.02 L594.99 1007.26 L595.47 1008.37 L595.95 1009.36 L596.43 1010.24 L596.91 1011.03 L597.38 1011.74 L597.86 1012.37 L598.34 1012.94 L598.82 1013.45 L599.3 1013.9 L599.78 1014.31 L600.26 1014.67 L600.74 1015 L601.21 1015.29 L601.69 1015.56 L602.17 1015.79 L602.65 1016.01 L603.13 1016.2 L603.61 1016.37 L604.09 1016.53 L604.57 1016.67 L605.05 1016.79 L605.52 1016.91 L606 1017.01 L606.48 1017.11 L606.96 1017.19 L607.44 1017.27 L607.92 1017.34 L608.4 1017.4 L608.88 1017.46 L609.35 1017.52 L609.83 1017.57 L610.31 1017.61 L610.79 1017.65 L611.27 1017.69 L611.75 1017.73 L612.23 1017.76 L612.71 1017.79 L613.19 1017.82 L613.66 1017.85 L614.14 1017.87 L614.62 1017.9 L615.1 1017.92 L615.58 1017.94 L616.06 1017.96 L616.54 1017.98 L617.02 1018 L617.49 1018.01 L617.97 1018.03 L618.45 1018.05 L618.93 1018.06 L619.41 1018.07 L619.89 1018.09 L620.37 1018.1 L620.85 1018.11 L621.33 1018.13 L621.8 1018.14 L622.28 1018.15 L622.76 1018.16 L623.24 1018.17 L623.72 1018.18 L624.2 1018.19 L624.68 1018.2 L625.16 1018.21 L625.64 1018.22 L626.11 1018.23 L626.59 1018.24 L627.07 1018.25 L627.55 1018.26 L628.03 1018.27 L628.51 1018.28 L628.99 1018.28 L629.47 1018.29 L629.94 1018.3 L630.42 1018.31 L630.9 1018.32 L631.38 1018.32 L631.86 1018.33" fill="none" stroke="#000" stroke-width="1.1" stroke-linejoin="round"/>
<path d="M525.17 1018.8 L525.87 1009.01 L526.58 1003.43 L527.29 1000.25 L527.99 998.44 L528.7 997.41 L529.41 996.82 L530.11 996.48 L530.82 996.29 L531.53 996.18 L532.23 996.11 L532.94 996.07 L533.65 996.05 L534.35 996.04 L535.06 996.03 L535.77 996.02 L536.47 996.02 L537.18 996.01 L537.89 996.01 L538.59 996 L539.3 996 L540.01 996 L540.71 995.99 L541.42 995.99 L542.13 995.99 L542.83 995.99 L543.54 995.98 L544.25 995.98 L544.95 995.98 L545.66 995.97 L546.37 995.97 L547.07 995.97 L547.78 995.96 L548.49 995.96 L549.19 995.96 L549.9 995.95 L550.61 995.95 L551.31 995.95 L552.02 995.95 L552.73 995.94 L553.43 995.94 L554.14 995.94 L554.85 995.93 L555.55 995.93 L556.26 995.93 L556.97 995.92 L557.67 995.92 L558.38 995.92 L559.09 995.91 L559.79 995.91 L560.5 995.91 L561.21 995.91 L561.91 995.9 L562.62 995.9 L563.33 995.9 L564.03 995.89 L564.74 995.89 L565.45 995.89 L566.15 995.88 L566.86 995.88 L567.57 995.88 L568.27 995.87 L568.98 995.87 L569.69 995.87 L570.39 995.87 L571.1 995.86 L571.81 995.86 L572.51 995.86 L573.22 995.85 L573.93 995.85 L574.63 995.85 L575.34 995.84 L576.05 995.84 L576.75 995.84 L577.46 995.83 L578.17 995.83 L578.87 995.83 L579.58 995.83 L580.29 995.82 L580.99 995.82 L581.7 995.82 L582.41 995.81 L583.11 995.81 L583.82 995.81 L584.53 995.8 L585.23 995.8 L585.94 995.8 L586.64 995.79 L587.35 995.79 L588.06 995.79 L588.76 995.79 L589.24 998.19 L589.72 1000.33 L590.2 1002.25 L590.68 1003.96 L591.16 1005.48 L591.64 1006.84 L592.12 1008.06 L592.6 1009.14 L593.07 1010.11 L593.55 1010.98 L594.03 1011.75 L594.51 1012.44 L594.99 1013.05 L595.47 1013.61 L595.95 1014.1 L596.43 1014.54 L596.91 1014.93 L597.38 1015.28 L597.86 1015.6 L598.34 1015.88 L598.82 1016.13 L599.3 1016.36 L599.78 1016.56 L600.26 1016.74 L600.74 1016.91 L601.21 1017.05 L601.69 1017.18 L602.17 1017.3 L602.65 1017.41 L603.13 1017.5 L603.61 1017.59 L604.09 1017.67 L604.57 1017.74 L605.05 1017.8 L605.52 1017.86 L606 1017.91 L606.48 1017.96 L606.96 1018 L607.44 1018.04 L607.92 1018.07 L608.4 1018.11 L608.88 1018.13 L609.35 1018.16 L609.83 1018.19 L610.31 1018.21 L610.79 1018.23 L611.27 1018.25 L611.75 1018.27 L612.23 1018.28 L612.71 1018.3 L613.19 1018.31 L613.66 1018.33 L614.14 1018.34 L614.62 1018.35 L615.1 1018.36 L615.58 1018.37 L616.06 1018.38 L616.54 1018.39 L617.02 1018.4 L617.49 1018.41 L617.97 1018.42 L618.45 1018.42 L618.93 1018.43 L619.41 1018.44 L619.89 1018.45 L620.37 1018.45 L620.85 1018.46 L621.33 1018.46 L621.8 1018.47 L622.28 1018.48 L622.76 1018.48 L623.24 1018.49 L623.72 1018.49 L624.2 1018.5 L624.68 1018.5 L625.16 1018.51 L625.64 1018.51 L626.11 1018.52 L626.59 1018.52 L627.07 1018.53 L627.55 1018.53 L628.03 1018.53 L628.51 1018.54 L628.99 1018.54 L629.47 1018.55 L629.94 1018.55 L630.42 1018.55 L630.9 1018.56 L631.38 1018.56 L631.86 1018.57" fill="none" stroke="#000" stroke-width="1.1" stroke-linejoin="round"/>
<path d="M525.17 1018.8 L525.87 1014.85 L526.58 1012.6 L527.29 1011.32 L527.99 1010.59 L528.7 1010.17 L529.41 1009.94 L530.11 1009.8 L530.82 1009.72 L531.53 1009.68 L532.23 1009.65 L532.94 1009.64 L533.65 1009.63 L534.35 1009.62 L535.06 1009.62 L535.77 1009.61 L536.47 1009.61 L537.18 1009.61 L537.89 1009.61 L538.59 1009.61 L539.3 1009.61 L540.01 1009.61 L540.71 1009.6 L541.42 1009.6 L542.13 1009.6 L542.83 1009.6 L543.54 1009.6 L544.25 1009.6 L544.95 1009.6 L545.66 1009.6 L546.37 1009.59 L547.07 1009.59 L547.78 1009.59 L548.49 1009.59 L549.19 1009.59 L549.9 1009.59 L550.61 1009.59 L551.31 1009.59 L552.02 1009.58 L552.73 1009.58 L553.43 1009.58 L554.14 1009.58 L554.85 1009.58 L555.55 1009.58 L556.26 1009.58 L556.97 1009.58 L557.67 1009.57 L558.38 1009.57 L559.09 1009.57 L559.79 1009.57 L560.5 1009.57 L561.21 1009.57 L561.91 1009.57 L562.62 1009.57 L563.33 1009.56 L564.03 1009.56 L564.74 1009.56 L565.45 1009.56 L566.15 1009.56 L566.86 1009.56 L567.57 1009.56 L568.27 1009.56 L568.98 1009.55 L569.69 1009.55 L570.39 1009.55 L571.1 1009.55 L571.81 1009.55 L572.51 1009.55 L573.22 1009.55 L573.93 1009.55 L574.63 1009.54 L575.34 1009.54 L576.05 1009.54 L576.75 1009.54 L577.46 1009.54 L578.17 1009.54 L578.87 1009.54 L579.58 1009.54 L580.29 1009.53 L580.99 1009.53 L581.7 1009.53 L582.41 1009.53 L583.11 1009.53 L583.82 1009.53 L584.53 1009.53 L585.23 1009.53 L585.94 1009.52 L586.64 1009.52 L587.35 1009.52 L588.06 1009.52 L588.76 1009.52 L589.24 1010.49 L589.72 1011.35 L590.2 1012.13 L590.68 1012.81 L591.16 1013.43 L591.64 1013.98 L592.12 1014.47 L592.6 1014.91 L593.07 1015.3 L593.55 1015.64 L594.03 1015.96 L594.51 1016.23 L594.99 1016.48 L595.47 1016.71 L595.95 1016.9 L596.43 1017.08 L596.91 1017.24 L597.38 1017.38 L597.86 1017.51 L598.34 1017.62 L598.82 1017.73 L599.3 1017.82 L599.78 1017.9 L600.26 1017.97 L600.74 1018.04 L601.21 1018.1 L601.69 1018.15 L602.17 1018.2 L602.65 1018.24 L603.13 1018.28 L603.61 1018.31 L604.09 1018.34 L604.57 1018.37 L605.05 1018.4 L605.52 1018.42 L606 1018.44 L606.48 1018.46 L606.96 1018.48 L607.44 1018.49 L607.92 1018.51 L608.4 1018.52 L608.88 1018.53 L609.35 1018.54 L609.83 1018.55 L610.31 1018.56 L610.79 1018.57 L611.27 1018.58 L611.75 1018.58 L612.23 1018.59 L612.71 1018.6 L613.19 1018.6 L613.66 1018.61 L614.14 1018.61 L614.62 1018.62 L615.1 1018.62 L615.58 1018.63 L616.06 1018.63 L616.54 1018.64 L617.02 1018.64 L617.49 1018.64 L617.97 1018.65 L618.45 1018.65 L618.93 1018.65 L619.41 1018.65 L619.89 1018.66 L620.37 1018.66 L620.85 1018.66 L621.33 1018.66 L621.8 1018.67 L622.28 1018.67 L622.76 1018.67 L623.24 1018.67 L623.72 1018.68 L624.2 1018.68 L624.68 1018.68 L625.16 1018.68 L625.64 1018.68 L626.11 1018.69 L626.59 1018.69 L627.07 1018.69 L627.55 1018.69 L628.03 1018.69 L628.51 1018.69 L628.99 1018.7 L629.47 1018.7 L629.94 1018.7 L630.42 1018.7 L630.9 1018.7 L631.38 1018.7 L631.86 1018.71" fill="none" stroke="#000" stroke-width="1.1" stroke-linejoin="round"/>
<path d="M525.17 1018.8 L525.87 1017.62 L526.58 1016.94 L527.29 1016.56 L527.99 1016.34 L528.7 1016.21 L529.41 1016.14 L530.11 1016.1 L530.82 1016.08 L531.53 1016.06 L532.23 1016.06 L532.94 1016.05 L533.65 1016.05 L534.35 1016.05 L535.06 1016.05 L535.77 1016.04 L536.47 1016.04 L537.18 1016.04 L537.89 1016.04 L538.59 1016.04 L539.3 1016.04 L540.01 1016.04 L540.71 1016.04 L541.42 1016.04 L542.13 1016.04 L542.83 1016.04 L543.54 1016.04 L544.25 1016.04 L544.95 1016.04 L545.66 1016.04 L546.37 1016.04 L547.07 1016.04 L547.78 1016.04 L548.49 1016.04 L549.19 1016.04 L549.9 1016.04 L550.61 1016.04 L551.31 1016.04 L552.02 1016.04 L552.73 1016.03 L553.43 1016.03 L554.14 1016.03 L554.85 1016.03 L555.55 1016.03 L556.26 1016.03 L556.97 1016.03 L557.67 1016.03 L558.38 1016.03 L559.09 1016.03 L559.79 1016.03 L560.5 1016.03 L561.21 1016.03 L561.91 1016.03 L562.62 1016.03 L563.33 1016.03 L564.03 1016.03 L564.74 1016.03 L565.45 1016.03 L566.15 1016.03 L566.86 1016.03 L567.57 1016.03 L568.27 1016.03 L568.98 1016.03 L569.69 1016.03 L570.39 1016.03 L571.1 1016.03 L571.81 1016.02 L572.51 1016.02 L573.22 1016.02 L573.93 1016.02 L574.63 1016.02 L575.34 1016.02 L576.05 1016.02 L576.75 1016.02 L577.46 1016.02 L578.17 1016.02 L578.87 1016.02 L579.58 1016.02 L580.29 1016.02 L580.99 1016.02 L581.7 1016.02 L582.41 1016.02 L583.11 1016.02 L583.82 1016.02 L584.53 1016.02 L585.23 1016.02 L585.94 1016.02 L586.64 1016.02 L587.35 1016.02 L588.06 1016.02 L588.76 1016.02 L589.24 1016.31 L589.72 1016.57 L590.2 1016.8 L590.68 1017 L591.16 1017.19 L591.64 1017.35 L592.12 1017.5 L592.6 1017.63 L593.07 1017.75 L593.55 1017.85 L594.03 1017.95 L594.51 1018.03 L594.99 1018.1 L595.47 1018.17 L595.95 1018.23 L596.43 1018.28 L596.91 1018.33 L597.38 1018.37 L597.86 1018.41 L598.34 1018.45 L598.82 1018.48 L599.3 1018.5 L599.78 1018.53 L600.26 1018.55 L600.74 1018.57 L601.21 1018.59 L601.69 1018.6 L602.17 1018.62 L602.65 1018.63 L603.13 1018.64 L603.61 1018.65 L604.09 1018.66 L604.57 1018.67 L605.05 1018.68 L605.52 1018.69 L606 1018.69 L606.48 1018.7 L606.96 1018.7 L607.44 1018.71 L607.92 1018.71 L608.4 1018.72 L608.88 1018.72 L609.35 1018.72 L609.83 1018.73 L610.31 1018.73 L610.79 1018.73 L611.27 1018.73 L611.75 1018.74 L612.23 1018.74 L612.71 1018.74 L613.19 1018.74 L613.66 1018.74 L614.14 1018.74 L614.62 1018.75 L615.1 1018.75 L615.58 1018.75 L616.06 1018.75 L616.54 1018.75 L617.02 1018.75 L617.49 1018.75 L617.97 1018.75 L618.45 1018.75 L618.93 1018.76 L619.41 1018.76 L619.89 1018.76 L620.37 1018.76 L620.85 1018.76 L621.33 1018.76 L621.8 1018.76 L622.28 1018.76 L622.76 1018.76 L623.24 1018.76 L623.72 1018.76 L624.2 1018.76 L624.68 1018.76 L625.16 1018.76 L625.64 1018.77 L626.11 1018.77 L626.59 1018.77 L627.07 1018.77 L627.55 1018.77 L628.03 1018.77 L628.51 1018.77 L628.99 1018.77 L629.47 1018.77 L629.94 1018.77 L630.42 1018.77 L630.9 1018.77 L631.38 1018.77 L631.86 1018.77" fill="none" stroke="#000" stroke-width="1.1" stroke-linejoin="round"/>
</g>
<g id="panelE">
<text class="b" x="753.5" y="557" font-size="28">E</text>
<text x="61.5" y="1115.3" font-size="20" fill="#111">959</text>
<text class="b" font-size="13" text-anchor="middle" x="901.3" y="533.8">KD (M)</text>
<text class="b" font-size="13" text-anchor="middle" transform="translate(784.4,664.5) rotate(-90)">KD (M)</text>
<rect x="850.7" y="706.9" width="17.2" height="18.9" fill="#fff" stroke="#000" stroke-width="1.4"/>
<rect x="878.6" y="634.6" width="17.2" height="91.2" fill="#fff" stroke="#000" stroke-width="1.4"/>
<rect x="906.7" y="714.8" width="17.2" height="11" fill="#fff" stroke="#000" stroke-width="1.4"/>
<rect x="934.4" y="656.3" width="17.2" height="69.5" fill="#fff" stroke="#000" stroke-width="1.4"/>
<rect x="870" y="661.3" width="90" height="9" fill="#fff"/>
<path d="M841.2 605.4V660.5M841.2 670.9V725.8" stroke="#000" stroke-width="1.45" fill="none"/>
<path d="M835.7 725.8H961" stroke="#000" stroke-width="1.45" fill="none"/>
<path d="M834.7 605.4H841.2M834.7 634.9H841.2M834.7 670.9H841.2M834.7 698.2H841.2M834.7 725.8H841.2M837.6 660.5H844.8M859.3 725.8V731.6M887.2 725.8V731.6M915.3 725.8V731.6M943 725.8V731.6" stroke="#000" stroke-width="1.45" fill="none"/>
<g class="b" font-size="13" text-anchor="end">
<text x="833.3" y="611">1×10<tspan font-size="9.3" dy="-5">-6</tspan></text>
<text x="833.3" y="640.5">5×10<tspan font-size="9.3" dy="-5">-7</tspan></text>
<text x="833.3" y="676.5">1×10<tspan font-size="9.3" dy="-5">-8</tspan></text>
<text x="833.3" y="703.8">5×10<tspan font-size="9.3" dy="-5">-9</tspan></text>
<text x="833.6" y="730.6">0</text>
</g>
<circle cx="852.9" cy="707.3" r="2.3" fill="#000"/>
<circle cx="859.3" cy="705.6" r="2.3" fill="#000"/>
<circle cx="865.9" cy="706.6" r="2.3" fill="#000"/>
<path d="M887.2 632.6V636.8M882.2 632.6H892.2M882.2 636.8H892.2" stroke="#000" stroke-width="1.1" fill="none"/>
<circle cx="880.5" cy="632.2" r="2.3" fill="#000"/>
<circle cx="887.2" cy="638.6" r="2.3" fill="#000"/>
<circle cx="894" cy="633.4" r="2.3" fill="#000"/>
<circle cx="909" cy="715" r="2.3" fill="#000"/>
<circle cx="915.3" cy="713.6" r="2.3" fill="#000"/>
<circle cx="921.6" cy="714.6" r="2.3" fill="#000"/>
<circle cx="936.6" cy="656" r="2.3" fill="#000"/>
<circle cx="943" cy="654.8" r="2.3" fill="#000"/>
<circle cx="949.6" cy="655.6" r="2.3" fill="#000"/>
<path d="M887.2 568.5V561.2H943.2V596.8" fill="none" stroke="#000" stroke-width="1.45"/>
<path d="M901.05 551.5L901.05 547.2M901.05 551.5L905.14 550.17M901.05 551.5L903.58 554.98M901.05 551.5L898.52 554.98M901.05 551.5L896.96 550.17M910.55 551.5L910.55 547.2M910.55 551.5L914.64 550.17M910.55 551.5L913.08 554.98M910.55 551.5L908.02 554.98M910.55 551.5L906.46 550.17M920.05 551.5L920.05 547.2M920.05 551.5L924.14 550.17M920.05 551.5L922.58 554.98M920.05 551.5L917.52 554.98M920.05 551.5L915.96 550.17M929.55 551.5L929.55 547.2M929.55 551.5L933.64 550.17M929.55 551.5L932.08 554.98M929.55 551.5L927.02 554.98M929.55 551.5L925.46 550.17" stroke="#000" stroke-width="2.1" fill="none"/>
<path d="M859.3 597.3V589.7H915.3V597.3" fill="none" stroke="#000" stroke-width="1.45"/>
<text class="b" font-size="13" text-anchor="middle" x="887.4" y="584.3">ns</text>
<path d="M859.3 698.8V617.2H887.2V624.8" fill="none" stroke="#000" stroke-width="1.45"/>
<path d="M859.05 608.3L859.05 604M859.05 608.3L863.14 606.97M859.05 608.3L861.58 611.78M859.05 608.3L856.52 611.78M859.05 608.3L854.96 606.97M868.55 608.3L868.55 604M868.55 608.3L872.64 606.97M868.55 608.3L871.08 611.78M868.55 608.3L866.02 611.78M868.55 608.3L864.46 606.97M878.05 608.3L878.05 604M878.05 608.3L882.14 606.97M878.05 608.3L880.58 611.78M878.05 608.3L875.52 611.78M878.05 608.3L873.96 606.97M887.55 608.3L887.55 604M887.55 608.3L891.64 606.97M887.55 608.3L890.08 611.78M887.55 608.3L885.02 611.78M887.55 608.3L883.46 606.97" stroke="#000" stroke-width="2.1" fill="none"/>
<path d="M915.3 706.8V617.2H943.2V647.8" fill="none" stroke="#000" stroke-width="1.45"/>
<path d="M919.7 608.3L919.7 604M919.7 608.3L923.79 606.97M919.7 608.3L922.23 611.78M919.7 608.3L917.17 611.78M919.7 608.3L915.61 606.97M929.2 608.3L929.2 604M929.2 608.3L933.29 606.97M929.2 608.3L931.73 611.78M929.2 608.3L926.67 611.78M929.2 608.3L925.11 606.97M938.7 608.3L938.7 604M938.7 608.3L942.79 606.97M938.7 608.3L941.23 611.78M938.7 608.3L936.17 611.78M938.7 608.3L934.61 606.97" stroke="#000" stroke-width="2.1" fill="none"/>
<g class="b" font-size="13" text-anchor="end">
<text transform="translate(861.5,742.6) rotate(-45)">hCXCL4</text>
<text transform="translate(889.4,742.6) rotate(-45)">hCXCL4 K50E</text>
<text transform="translate(917.5,742.6) rotate(-45)">mCXCL4</text>
<text transform="translate(945.2,742.6) rotate(-45)">mCXCL4 K56E</text>
</g>
<text class="b" font-size="13" text-anchor="middle" x="901.3" y="824.8">kdis (1/s)</text>
<text class="b" font-size="13" text-anchor="middle" transform="translate(786.2,957.5) rotate(-90)">kdis (1/s)</text>
<rect x="878.6" y="930.6" width="17.2" height="89.8" fill="#fff" stroke="#000" stroke-width="1.4"/>
<rect x="934.4" y="994.5" width="17.2" height="25.9" fill="#fff" stroke="#000" stroke-width="1.4"/>
<path d="M841.2 899.9V1020.4" stroke="#000" stroke-width="1.45" fill="none"/>
<path d="M835.7 1020.4H961" stroke="#000" stroke-width="1.45" fill="none"/>
<path d="M834.7 899.9H841.2M834.7 924H841.2M834.7 948.1H841.2M834.7 972.2H841.2M834.7 996.3H841.2M834.7 1020.4H841.2M859.3 1020.4V1026.2M887.2 1020.4V1026.2M915.3 1020.4V1026.2M943 1020.4V1026.2" stroke="#000" stroke-width="1.45" fill="none"/>
<g class="b" font-size="13" text-anchor="end">
<text x="833.3" y="905.5">1×10<tspan font-size="9.3" dy="-5">-1</tspan></text>
<text x="833.3" y="929.6">8×10<tspan font-size="9.3" dy="-5">-2</tspan></text>
<text x="833.3" y="953.7">6×10<tspan font-size="9.3" dy="-5">-2</tspan></text>
<text x="833.3" y="977.8">4×10<tspan font-size="9.3" dy="-5">-2</tspan></text>
<text x="833.3" y="1001.9">2×10<tspan font-size="9.3" dy="-5">-2</tspan></text>
<text x="833.6" y="1025.2">0</text>
</g>
<path d="M887.2 924.2V935.8M883.8 924.2H890.6M883.8 935.8H890.6" stroke="#000" stroke-width="1.1" fill="none"/>
<circle cx="887.2" cy="923.6" r="2.3" fill="#000"/>
<circle cx="880.3" cy="934.3" r="2.3" fill="#000"/>
<circle cx="894.3" cy="931.3" r="2.3" fill="#000"/>
<path d="M943 986.4V999.2M939.6 986.4H946.4M939.6 999.2H946.4" stroke="#000" stroke-width="1.1" fill="none"/>
<circle cx="943" cy="986.4" r="2.3" fill="#000"/>
<circle cx="936" cy="998.4" r="2.3" fill="#000"/>
<circle cx="949.7" cy="994.8" r="2.3" fill="#000"/>
<circle cx="852.4" cy="1019.8" r="2.3" fill="#000"/>
<circle cx="859.3" cy="1019.8" r="2.3" fill="#000"/>
<circle cx="866.2" cy="1019.8" r="2.3" fill="#000"/>
<circle cx="908.4" cy="1019.8" r="2.3" fill="#000"/>
<circle cx="915.3" cy="1019.8" r="2.3" fill="#000"/>
<circle cx="922.2" cy="1019.8" r="2.3" fill="#000"/>
<path d="M887.2 860.7V853.6H943.2V889.6" fill="none" stroke="#000" stroke-width="1.45"/>
<path d="M901.05 843.4L901.05 839.1M901.05 843.4L905.14 842.07M901.05 843.4L903.58 846.88M901.05 843.4L898.52 846.88M901.05 843.4L896.96 842.07M910.55 843.4L910.55 839.1M910.55 843.4L914.64 842.07M910.55 843.4L913.08 846.88M910.55 843.4L908.02 846.88M910.55 843.4L906.46 842.07M920.05 843.4L920.05 839.1M920.05 843.4L924.14 842.07M920.05 843.4L922.58 846.88M920.05 843.4L917.52 846.88M920.05 843.4L915.96 842.07M929.55 843.4L929.55 839.1M929.55 843.4L933.64 842.07M929.55 843.4L932.08 846.88M929.55 843.4L927.02 846.88M929.55 843.4L925.46 842.07" stroke="#000" stroke-width="2.1" fill="none"/>
<path d="M859.3 889.6V882.7H915.3V889.6" fill="none" stroke="#000" stroke-width="1.45"/>
<text class="b" font-size="13" text-anchor="middle" x="887.4" y="875.9">ns</text>
<path d="M859.3 1013.5V910.3H887.2V917.7" fill="none" stroke="#000" stroke-width="1.45"/>
<path d="M859.05 900.6L859.05 896.3M859.05 900.6L863.14 899.27M859.05 900.6L861.58 904.08M859.05 900.6L856.52 904.08M859.05 900.6L854.96 899.27M868.55 900.6L868.55 896.3M868.55 900.6L872.64 899.27M868.55 900.6L871.08 904.08M868.55 900.6L866.02 904.08M868.55 900.6L864.46 899.27M878.05 900.6L878.05 896.3M878.05 900.6L882.14 899.27M878.05 900.6L880.58 904.08M878.05 900.6L875.52 904.08M878.05 900.6L873.96 899.27M887.55 900.6L887.55 896.3M887.55 900.6L891.64 899.27M887.55 900.6L890.08 904.08M887.55 900.6L885.02 904.08M887.55 900.6L883.46 899.27" stroke="#000" stroke-width="2.1" fill="none"/>
<path d="M915.3 1013.5V910.3H943.2V979.5" fill="none" stroke="#000" stroke-width="1.45"/>
<path d="M919.7 900.6L919.7 896.3M919.7 900.6L923.79 899.27M919.7 900.6L922.23 904.08M919.7 900.6L917.17 904.08M919.7 900.6L915.61 899.27M929.2 900.6L929.2 896.3M929.2 900.6L933.29 899.27M929.2 900.6L931.73 904.08M929.2 900.6L926.67 904.08M929.2 900.6L925.11 899.27M938.7 900.6L938.7 896.3M938.7 900.6L942.79 899.27M938.7 900.6L941.23 904.08M938.7 900.6L936.17 904.08M938.7 900.6L934.61 899.27" stroke="#000" stroke-width="2.1" fill="none"/>
<g class="b" font-size="13" text-anchor="end">
<text transform="translate(861.5,1037) rotate(-45)">hCXCL4</text>
<text transform="translate(889.4,1037) rotate(-45)">hCXCL4 K50E</text>
<text transform="translate(917.5,1037) rotate(-45)">mCXCL4</text>
<text transform="translate(945.2,1037) rotate(-45)">mCXCL4 K56E</text>
</g>
</g>
</g>
</svg>
</body></html>
